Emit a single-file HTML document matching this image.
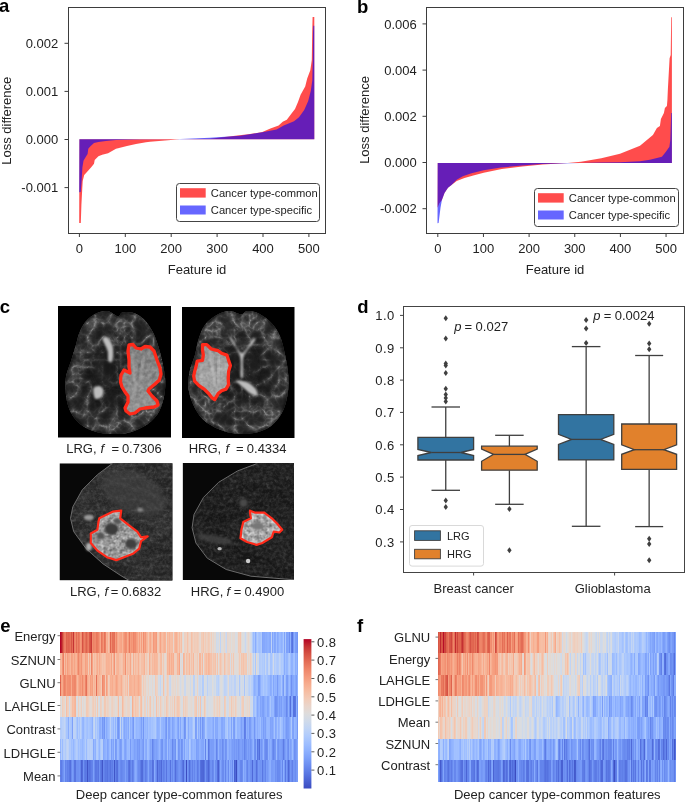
<!DOCTYPE html>
<html><head><meta charset="utf-8"><style>html,body{margin:0;padding:0;background:#fff;} body{width:685px;height:802px;overflow:hidden;} svg{display:block;will-change:transform;}</style></head>
<body><svg width="685" height="802" viewBox="0 0 685 802" font-family="'Liberation Sans', sans-serif"><defs><filter id="nzb" x="0" y="0" width="100%" height="100%" color-interpolation-filters="sRGB"><feTurbulence type="fractalNoise" baseFrequency="0.28" numOctaves="3" seed="4"/><feColorMatrix type="matrix" values="0.5 0.5 0 0 0 0.5 0.5 0 0 0 0.5 0.5 0 0 0 0 0 0 0 1"/><feComponentTransfer><feFuncR type="linear" slope="2.4" intercept="-0.9"/><feFuncG type="linear" slope="2.4" intercept="-0.9"/><feFuncB type="linear" slope="2.4" intercept="-0.9"/></feComponentTransfer><feGaussianBlur stdDeviation="0.35"/></filter><filter id="nzt" x="0" y="0" width="100%" height="100%" color-interpolation-filters="sRGB"><feTurbulence type="fractalNoise" baseFrequency="0.25" numOctaves="3" seed="11"/><feColorMatrix type="matrix" values="0.5 0.5 0 0 0 0.5 0.5 0 0 0 0.5 0.5 0 0 0 0 0 0 0 1"/><feComponentTransfer><feFuncR type="linear" slope="2.0" intercept="-0.4"/><feFuncG type="linear" slope="2.0" intercept="-0.4"/><feFuncB type="linear" slope="2.0" intercept="-0.4"/></feComponentTransfer><feGaussianBlur stdDeviation="0.4"/></filter><filter id="nzs" x="0" y="0" width="100%" height="100%" color-interpolation-filters="sRGB"><feTurbulence type="fractalNoise" baseFrequency="0.3" numOctaves="3" seed="21"/><feColorMatrix type="matrix" values="0.5 0.5 0 0 0 0.5 0.5 0 0 0 0.5 0.5 0 0 0 0 0 0 0 1"/><feComponentTransfer><feFuncR type="linear" slope="2.2" intercept="-0.9"/><feFuncG type="linear" slope="2.2" intercept="-0.9"/><feFuncB type="linear" slope="2.2" intercept="-0.9"/></feComponentTransfer><feGaussianBlur stdDeviation="0.3"/></filter><filter id="gyr1" x="0" y="0" width="100%" height="100%" color-interpolation-filters="sRGB"><feTurbulence type="turbulence" baseFrequency="0.068" numOctaves="3" seed="2"/><feColorMatrix type="matrix" values="1 0 0 0 0 1 0 0 0 0 1 0 0 0 0 0 0 0 0 1"/><feComponentTransfer><feFuncR type="table" tableValues="0.55 0.32 0.21 0.16 0.13 0.12 0.11"/><feFuncG type="table" tableValues="0.55 0.32 0.21 0.16 0.13 0.12 0.11"/><feFuncB type="table" tableValues="0.55 0.32 0.21 0.16 0.13 0.12 0.11"/></feComponentTransfer><feGaussianBlur stdDeviation="0.6"/></filter><filter id="gyr2" x="0" y="0" width="100%" height="100%" color-interpolation-filters="sRGB"><feTurbulence type="turbulence" baseFrequency="0.068" numOctaves="3" seed="13"/><feColorMatrix type="matrix" values="1 0 0 0 0 1 0 0 0 0 1 0 0 0 0 0 0 0 0 1"/><feComponentTransfer><feFuncR type="table" tableValues="0.55 0.32 0.21 0.16 0.13 0.12 0.11"/><feFuncG type="table" tableValues="0.55 0.32 0.21 0.16 0.13 0.12 0.11"/><feFuncB type="table" tableValues="0.55 0.32 0.21 0.16 0.13 0.12 0.11"/></feComponentTransfer><feGaussianBlur stdDeviation="0.6"/></filter><radialGradient id="rgb"><stop offset="0" stop-color="#000" stop-opacity="0.45"/><stop offset="0.6" stop-color="#000" stop-opacity="0.25"/><stop offset="0.85" stop-color="#000" stop-opacity="0"/></radialGradient><linearGradient id="tg1" x1="0" y1="0" x2="0" y2="1"><stop offset="0" stop-color="#7a7a7a"/><stop offset="0.5" stop-color="#868686"/><stop offset="1" stop-color="#959595"/></linearGradient><linearGradient id="tg2" x1="0" y1="0" x2="0.3" y2="1"><stop offset="0" stop-color="#8a8a8a"/><stop offset="0.6" stop-color="#a6a6a6"/><stop offset="1" stop-color="#a0a0a0"/></linearGradient><filter id="fib" x="0" y="0" width="100%" height="100%" color-interpolation-filters="sRGB"><feTurbulence type="turbulence" baseFrequency="0.03 0.09" numOctaves="3" seed="5"/><feColorMatrix type="matrix" values="1 0 0 0 0 1 0 0 0 0 1 0 0 0 0 0 0 0 0 1"/><feComponentTransfer><feFuncR type="table" tableValues="0.42 0.28 0.2 0.16 0.14 0.13"/><feFuncG type="table" tableValues="0.42 0.28 0.2 0.16 0.14 0.13"/><feFuncB type="table" tableValues="0.42 0.28 0.2 0.16 0.14 0.13"/></feComponentTransfer><feGaussianBlur stdDeviation="0.5"/></filter><filter id="bl1" x="-20%" y="-20%" width="140%" height="140%"><feGaussianBlur stdDeviation="1.2"/></filter><filter id="bl2" x="-20%" y="-20%" width="140%" height="140%"><feGaussianBlur stdDeviation="2.5"/></filter><clipPath id="br1"><path d="M117.7 316.2C115.3 316.0 111.1 311.4 107.5 311.0C103.9 310.5 99.5 311.8 96.0 313.4C92.4 315.1 88.8 317.7 86.1 320.9C83.3 324.0 81.1 328.6 79.5 332.4C77.8 336.3 77.5 339.3 76.2 344.0C74.8 348.6 72.9 355.2 71.2 360.5C69.6 365.7 67.2 370.6 66.3 375.3C65.3 380.0 65.2 383.6 65.4 388.5C65.7 393.5 66.4 400.1 67.9 405.0C69.4 410.0 71.5 414.4 74.5 418.2C77.5 422.1 81.7 425.6 86.1 428.1C90.5 430.6 96.2 432.1 100.9 433.1C105.6 434.0 109.7 433.9 114.1 433.9C118.5 433.9 122.4 434.3 127.3 433.1C132.3 431.8 138.9 429.5 143.8 426.5C148.8 423.4 153.7 419.6 157.0 414.9C160.3 410.2 162.2 404.2 163.6 398.4C165.0 392.6 165.5 386.6 165.3 380.3C165.0 373.9 163.3 366.8 162.0 360.5C160.6 354.1 158.7 347.3 157.0 342.3C155.4 337.4 154.3 334.6 152.1 330.8C149.9 326.9 147.1 322.2 143.8 319.2C140.5 316.2 135.8 313.7 132.3 312.6C128.7 311.5 124.8 312.0 122.4 312.6C119.9 313.2 120.2 316.5 117.7 316.2Z"/></clipPath><clipPath id="tm1"><path d="M129.0 345.0 L133.0 344.5 L136.0 348.0 L141.0 349.0 L145.0 346.5 L150.0 347.0 L154.0 351.0 L157.0 360.0 L160.0 368.0 L161.0 374.0 L159.4 380.0 L155.0 384.0 L149.0 389.0 L148.0 391.0 L152.0 396.0 L157.0 401.0 L158.0 405.0 L154.0 407.0 L145.0 408.0 L140.0 409.0 L135.0 413.0 L130.0 414.0 L126.0 411.0 L125.0 408.0 L128.0 402.0 L128.0 396.0 L125.0 392.0 L122.0 387.0 L120.5 382.0 L121.0 375.0 L124.0 370.0 L128.0 372.0 L130.0 373.0 L129.0 367.0 L129.0 360.0 L128.0 351.0Z"/></clipPath><clipPath id="br2"><path d="M241.2 314.4C238.2 314.4 233.6 311.0 229.4 311.1C225.3 311.2 220.4 312.9 216.3 315.2C212.2 317.5 207.9 320.9 204.9 325.0C201.9 329.1 200.0 334.8 198.4 339.7C196.7 344.6 196.6 349.0 195.1 354.4C193.6 359.9 190.4 366.7 189.4 372.4C188.3 378.1 187.9 383.3 188.5 388.8C189.2 394.2 191.0 399.9 193.4 405.1C195.9 410.3 198.9 415.7 203.3 419.8C207.6 423.9 214.2 427.3 219.6 429.6C225.1 431.9 230.2 433.2 236.0 433.7C241.7 434.3 248.2 434.1 253.9 432.9C259.7 431.7 265.7 429.6 270.3 426.4C274.9 423.1 278.9 418.5 281.7 413.3C284.6 408.1 286.4 401.6 287.5 395.3C288.6 389.0 288.7 382.5 288.3 375.7C287.9 368.9 286.4 361.0 285.0 354.4C283.6 347.9 282.3 341.6 280.1 336.4C277.9 331.3 275.5 327.2 271.9 323.4C268.4 319.5 262.9 315.6 258.8 313.5C254.8 311.5 250.3 311.0 247.4 311.1C244.5 311.2 244.2 314.4 241.2 314.4Z"/></clipPath><clipPath id="tm2"><path d="M202.5 344.6 L206.8 344.6 L211.2 349.0 L214.7 349.8 L218.2 350.7 L221.6 353.3 L226.9 355.1 L228.6 360.3 L230.4 365.5 L228.6 371.6 L228.2 378.6 L228.6 384.7 L226.0 389.1 L221.6 390.8 L218.2 393.5 L214.7 399.6 L212.0 397.8 L208.6 393.5 L204.2 389.1 L199.0 385.6 L194.6 381.2 L193.7 376.0 L194.6 371.6 L196.3 365.5 L197.2 361.2 L202.5 360.3 L203.3 355.1 L202.5 349.8Z"/></clipPath><clipPath id="bs3"><polygon points="112.6,463.3 97.4,474.7 82.3,489.8 72.8,506.9 70.5,518.3 73.7,531.6 86.1,548.7 103.1,563.9 120.2,575.2 129.7,580.9 182.8,580.9 182.8,461.4 112.6,461.4"/></clipPath><clipPath id="tb3"><path d="M99.3 518.3 L112.6 511.7 L121.2 510.7 L120.2 518.3 L129.7 525.9 L137.3 531.6 L141.1 537.3 L147.7 536.3 L141.1 541.1 L139.2 548.7 L133.5 553.4 L124.0 557.2 L116.4 560.1 L106.9 557.2 L97.4 550.6 L90.8 543.0 L90.8 533.5 L97.4 529.7 L98.4 522.1Z"/></clipPath><clipPath id="im3"><rect x="59.5" y="463.3" width="112.9" height="117.09999999999997"/></clipPath><clipPath id="bs4"><polygon points="256.6,463.7 237.6,470.9 218.6,482.3 203.5,497.4 194.0,514.5 192.1,527.8 195.9,543.0 207.3,558.2 226.2,569.5 250.9,576.2 296.4,580.0 307.8,580.9 307.8,461.4 256.6,461.4"/></clipPath><clipPath id="tb4"><path d="M250.0 510.7 L254.7 512.6 L264.2 512.6 L271.8 518.3 L277.5 524.0 L282.2 529.7 L279.4 532.5 L273.7 531.6 L271.8 537.3 L262.3 543.0 L256.6 544.9 L247.1 542.0 L240.5 538.2 L241.4 529.7 L243.3 522.1 L250.9 518.3 L250.0 512.6Z"/></clipPath><clipPath id="im4"><rect x="182.6" y="463" width="111.4" height="117"/></clipPath></defs><rect width="685" height="802" fill="#fff"/>
<rect x="68.5" y="7.5" width="257" height="226" fill="none" stroke="#3d3d3d" stroke-width="1"/>
<polygon points="79.4,139.3 79.2,223.1 80.8,223.1 81.4,205.0 82.3,188.0 82.7,180.9 84.2,174.9 86.5,172.6 91.0,167.4 94.0,163.7 94.7,159.9 98.4,156.2 102.2,154.7 108.1,153.2 116.0,148.7 127.0,146.0 136.0,144.0 146.0,142.3 150.0,141.8 165.0,140.6 179.8,139.3 210.0,138.8 250.0,134.1 262.3,132.0 270.4,128.5 278.6,125.4 282.7,121.8 286.8,119.8 291.9,113.1 295.0,109.0 298.0,101.9 300.6,94.7 305.2,86.6 307.2,78.4 310.3,70.2 311.8,60.0 312.2,32.4 312.6,17.1 314.3,17.1 314.3,139.3" fill="#ff0000" fill-opacity="0.7"/>
<polygon points="79.4,139.3 79.2,192.2 80.7,192.0 81.6,180.9 82.4,167.4 83.5,160.7 85.7,157.0 87.6,154.0 88.3,148.7 90.2,146.5 94.0,143.1 98.4,142.0 105.9,140.9 116.0,140.1 140.0,139.6 174.8,139.3 210.0,137.8 240.0,135.8 262.3,132.2 276.6,129.5 283.7,125.4 294.0,121.3 299.0,117.2 304.2,110.1 308.2,100.9 310.8,90.7 312.3,80.4 312.8,60.0 313.0,32.4 313.3,25.7 314.3,25.7 314.3,139.3" fill="#0000ff" fill-opacity="0.6"/>
<line x1="64.5" y1="43.3" x2="68" y2="43.3" stroke="#3d3d3d" stroke-width="1"/>
<text x="58.2" y="47.9" font-size="13" text-anchor="end" font-weight="normal" fill="#222222" >0.002</text>
<line x1="64.5" y1="91.4" x2="68" y2="91.4" stroke="#3d3d3d" stroke-width="1"/>
<text x="58.2" y="96.0" font-size="13" text-anchor="end" font-weight="normal" fill="#222222" >0.001</text>
<line x1="64.5" y1="139.5" x2="68" y2="139.5" stroke="#3d3d3d" stroke-width="1"/>
<text x="58.2" y="144.1" font-size="13" text-anchor="end" font-weight="normal" fill="#222222" >0.000</text>
<line x1="64.5" y1="187.6" x2="68" y2="187.6" stroke="#3d3d3d" stroke-width="1"/>
<text x="58.2" y="192.2" font-size="13" text-anchor="end" font-weight="normal" fill="#222222" >-0.001</text>
<line x1="79.4" y1="233.5" x2="79.4" y2="237" stroke="#3d3d3d" stroke-width="1"/>
<text x="79.4" y="252.5" font-size="13" text-anchor="middle" font-weight="normal" fill="#222222" >0</text>
<line x1="125.30000000000001" y1="233.5" x2="125.30000000000001" y2="237" stroke="#3d3d3d" stroke-width="1"/>
<text x="125.30000000000001" y="252.5" font-size="13" text-anchor="middle" font-weight="normal" fill="#222222" >100</text>
<line x1="171.2" y1="233.5" x2="171.2" y2="237" stroke="#3d3d3d" stroke-width="1"/>
<text x="171.2" y="252.5" font-size="13" text-anchor="middle" font-weight="normal" fill="#222222" >200</text>
<line x1="217.1" y1="233.5" x2="217.1" y2="237" stroke="#3d3d3d" stroke-width="1"/>
<text x="217.1" y="252.5" font-size="13" text-anchor="middle" font-weight="normal" fill="#222222" >300</text>
<line x1="263.0" y1="233.5" x2="263.0" y2="237" stroke="#3d3d3d" stroke-width="1"/>
<text x="263.0" y="252.5" font-size="13" text-anchor="middle" font-weight="normal" fill="#222222" >400</text>
<line x1="308.9" y1="233.5" x2="308.9" y2="237" stroke="#3d3d3d" stroke-width="1"/>
<text x="308.9" y="252.5" font-size="13" text-anchor="middle" font-weight="normal" fill="#222222" >500</text>
<text x="197.0" y="274" font-size="13" text-anchor="middle" font-weight="normal" fill="#222222" >Feature id</text>
<text x="0" y="0" font-size="13" text-anchor="middle" fill="#222222" transform="translate(10.6,120.8) rotate(-90)">Loss difference</text>
<text x="-1" y="11.8" font-size="18.5" text-anchor="start" font-weight="bold" fill="#000" >a</text>
<rect x="176.5" y="183.5" width="143.0" height="38.0" rx="3" fill="#fff" fill-opacity="0.85" stroke="#444" stroke-width="1"/>
<rect x="180.0" y="188.2" width="25.7" height="9.4" fill="#ff0000" fill-opacity="0.7"/>
<rect x="180.0" y="205.5" width="25.7" height="9" fill="#0000ff" fill-opacity="0.6"/>
<text x="210.8" y="197.1" font-size="11.2" text-anchor="start" font-weight="normal" fill="#222222" >Cancer type-common</text>
<text x="210.8" y="214.1" font-size="11.2" text-anchor="start" font-weight="normal" fill="#222222" >Cancer type-specific</text>
<rect x="426.5" y="7.5" width="257" height="226" fill="none" stroke="#3d3d3d" stroke-width="1"/>
<polygon points="437.7,163.1 437.6,207.7 439.2,203.4 441.9,199.9 444.5,192.9 448.0,187.7 451.5,185.0 456.7,181.1 464.5,178.1 473.3,175.5 483.7,172.8 501.8,169.0 522.2,166.4 542.7,164.4 567.6,163.1 580.9,161.7 601.3,158.3 620.0,153.8 630.0,149.8 640.0,145.8 646.9,139.9 652.9,134.9 656.9,127.9 659.9,125.9 660.9,118.9 663.9,112.9 664.9,107.9 666.9,105.9 667.4,99.9 667.9,88.7 669.6,58.3 670.7,55.0 671.2,17.3 671.9,17.3 671.9,163.1" fill="#ff0000" fill-opacity="0.7"/>
<polygon points="437.7,163.1 437.5,223.2 438.6,223.0 440.5,207.7 441.9,199.9 444.5,192.9 448.0,187.7 451.5,185.0 456.7,179.8 462.8,176.3 471.5,173.3 483.7,170.2 501.0,167.5 522.0,165.5 542.0,164.0 560.0,163.4 580.0,163.1 600.0,162.6 620.0,162.3 640.0,161.3 649.9,159.8 661.9,156.8 665.9,151.8 669.4,146.8 670.3,139.9 671.2,112.9 671.9,112.9 671.9,163.1" fill="#0000ff" fill-opacity="0.6"/>
<line x1="422.5" y1="23.9" x2="426" y2="23.9" stroke="#3d3d3d" stroke-width="1"/>
<text x="416.8" y="28.5" font-size="13" text-anchor="end" font-weight="normal" fill="#222222" >0.006</text>
<line x1="422.5" y1="70.1" x2="426" y2="70.1" stroke="#3d3d3d" stroke-width="1"/>
<text x="416.8" y="74.69999999999999" font-size="13" text-anchor="end" font-weight="normal" fill="#222222" >0.004</text>
<line x1="422.5" y1="116.3" x2="426" y2="116.3" stroke="#3d3d3d" stroke-width="1"/>
<text x="416.8" y="120.89999999999999" font-size="13" text-anchor="end" font-weight="normal" fill="#222222" >0.002</text>
<line x1="422.5" y1="162.5" x2="426" y2="162.5" stroke="#3d3d3d" stroke-width="1"/>
<text x="416.8" y="167.1" font-size="13" text-anchor="end" font-weight="normal" fill="#222222" >0.000</text>
<line x1="422.5" y1="208.7" x2="426" y2="208.7" stroke="#3d3d3d" stroke-width="1"/>
<text x="416.8" y="213.29999999999998" font-size="13" text-anchor="end" font-weight="normal" fill="#222222" >-0.002</text>
<line x1="437.8" y1="233.5" x2="437.8" y2="237" stroke="#3d3d3d" stroke-width="1"/>
<text x="437.8" y="252.5" font-size="13" text-anchor="middle" font-weight="normal" fill="#222222" >0</text>
<line x1="483.45" y1="233.5" x2="483.45" y2="237" stroke="#3d3d3d" stroke-width="1"/>
<text x="483.45" y="252.5" font-size="13" text-anchor="middle" font-weight="normal" fill="#222222" >100</text>
<line x1="529.1" y1="233.5" x2="529.1" y2="237" stroke="#3d3d3d" stroke-width="1"/>
<text x="529.1" y="252.5" font-size="13" text-anchor="middle" font-weight="normal" fill="#222222" >200</text>
<line x1="574.75" y1="233.5" x2="574.75" y2="237" stroke="#3d3d3d" stroke-width="1"/>
<text x="574.75" y="252.5" font-size="13" text-anchor="middle" font-weight="normal" fill="#222222" >300</text>
<line x1="620.4" y1="233.5" x2="620.4" y2="237" stroke="#3d3d3d" stroke-width="1"/>
<text x="620.4" y="252.5" font-size="13" text-anchor="middle" font-weight="normal" fill="#222222" >400</text>
<line x1="666.05" y1="233.5" x2="666.05" y2="237" stroke="#3d3d3d" stroke-width="1"/>
<text x="666.05" y="252.5" font-size="13" text-anchor="middle" font-weight="normal" fill="#222222" >500</text>
<text x="555.0" y="274" font-size="13" text-anchor="middle" font-weight="normal" fill="#222222" >Feature id</text>
<text x="0" y="0" font-size="13" text-anchor="middle" fill="#222222" transform="translate(369.2,119.9) rotate(-90)">Loss difference</text>
<text x="357" y="12.5" font-size="18.5" text-anchor="start" font-weight="bold" fill="#000" >b</text>
<rect x="534.5" y="188.5" width="144.0" height="38.0" rx="3" fill="#fff" fill-opacity="0.85" stroke="#444" stroke-width="1"/>
<rect x="538.0" y="193.2" width="25.7" height="9.4" fill="#ff0000" fill-opacity="0.7"/>
<rect x="538.0" y="210.5" width="25.7" height="9" fill="#0000ff" fill-opacity="0.6"/>
<text x="568.8" y="202.1" font-size="11.2" text-anchor="start" font-weight="normal" fill="#222222" >Cancer type-common</text>
<text x="568.8" y="219.1" font-size="11.2" text-anchor="start" font-weight="normal" fill="#222222" >Cancer type-specific</text>
<rect x="403.5" y="306.5" width="281" height="266" fill="none" stroke="#444444" stroke-width="1"/>
<line x1="400" y1="315.4" x2="403.5" y2="315.4" stroke="#444444" stroke-width="1"/>
<text x="394.8" y="320.2" font-size="13" text-anchor="end" font-weight="normal" fill="#222222" letter-spacing="0.5">1.0</text>
<line x1="400" y1="347.8" x2="403.5" y2="347.8" stroke="#444444" stroke-width="1"/>
<text x="394.8" y="352.6" font-size="13" text-anchor="end" font-weight="normal" fill="#222222" letter-spacing="0.5">0.9</text>
<line x1="400" y1="380.1" x2="403.5" y2="380.1" stroke="#444444" stroke-width="1"/>
<text x="394.8" y="384.9" font-size="13" text-anchor="end" font-weight="normal" fill="#222222" letter-spacing="0.5">0.8</text>
<line x1="400" y1="412.4" x2="403.5" y2="412.4" stroke="#444444" stroke-width="1"/>
<text x="394.8" y="417.2" font-size="13" text-anchor="end" font-weight="normal" fill="#222222" letter-spacing="0.5">0.7</text>
<line x1="400" y1="444.8" x2="403.5" y2="444.8" stroke="#444444" stroke-width="1"/>
<text x="394.8" y="449.6" font-size="13" text-anchor="end" font-weight="normal" fill="#222222" letter-spacing="0.5">0.6</text>
<line x1="400" y1="477.1" x2="403.5" y2="477.1" stroke="#444444" stroke-width="1"/>
<text x="394.8" y="481.9" font-size="13" text-anchor="end" font-weight="normal" fill="#222222" letter-spacing="0.5">0.5</text>
<line x1="400" y1="509.5" x2="403.5" y2="509.5" stroke="#444444" stroke-width="1"/>
<text x="394.8" y="514.3" font-size="13" text-anchor="end" font-weight="normal" fill="#222222" letter-spacing="0.5">0.4</text>
<line x1="400" y1="541.9" x2="403.5" y2="541.9" stroke="#444444" stroke-width="1"/>
<text x="394.8" y="546.6" font-size="13" text-anchor="end" font-weight="normal" fill="#222222" letter-spacing="0.5">0.3</text>
<line x1="473.6" y1="572.5" x2="473.6" y2="575.5" stroke="#444444" stroke-width="1"/>
<line x1="614.6" y1="572.5" x2="614.6" y2="575.5" stroke="#444444" stroke-width="1"/>
<text x="473.7" y="592.5" font-size="13" text-anchor="middle" font-weight="normal" fill="#222222" >Breast cancer</text>
<text x="612.7" y="592.5" font-size="13" text-anchor="middle" font-weight="normal" fill="#222222" >Glioblastoma</text>
<text x="357.2" y="313.1" font-size="18.5" text-anchor="start" font-weight="bold" fill="#000" >d</text>
<line x1="445.75" y1="407.0" x2="445.75" y2="437.4" stroke="#3f3f3f" stroke-width="1.3"/>
<line x1="445.75" y1="460.0" x2="445.75" y2="490.3" stroke="#3f3f3f" stroke-width="1.3"/>
<line x1="431.5" y1="407.0" x2="460.0" y2="407.0" stroke="#3f3f3f" stroke-width="1.3"/>
<line x1="431.5" y1="490.3" x2="460.0" y2="490.3" stroke="#3f3f3f" stroke-width="1.3"/>
<polygon points="417.9,437.4 473.6,437.4 473.6,449.4 460.8,452.5 473.6,455.6 473.6,460.0 417.9,460.0 417.9,455.6 431.2,452.5 417.9,449.4" fill="#3274a1" stroke="#3f3f3f" stroke-width="1.3" stroke-linejoin="miter"/>
<line x1="431.2" y1="452.5" x2="460.8" y2="452.5" stroke="#3f3f3f" stroke-width="1.3"/>
<polygon points="445.8,315.2 447.9,318.2 445.8,321.2 443.6,318.2" fill="#3f3f3f"/>
<polygon points="445.8,335.6 447.9,338.6 445.8,341.6 443.6,338.6" fill="#3f3f3f"/>
<polygon points="445.8,360.6 447.9,363.6 445.8,366.6 443.6,363.6" fill="#3f3f3f"/>
<polygon points="445.8,362.6 447.9,365.6 445.8,368.6 443.6,365.6" fill="#3f3f3f"/>
<polygon points="445.8,369.9 447.9,372.9 445.8,375.9 443.6,372.9" fill="#3f3f3f"/>
<polygon points="445.8,385.8 447.9,388.8 445.8,391.8 443.6,388.8" fill="#3f3f3f"/>
<polygon points="445.8,391.6 447.9,394.6 445.8,397.6 443.6,394.6" fill="#3f3f3f"/>
<polygon points="445.8,395.1 447.9,398.1 445.8,401.1 443.6,398.1" fill="#3f3f3f"/>
<polygon points="445.8,398.6 447.9,401.6 445.8,404.6 443.6,401.6" fill="#3f3f3f"/>
<polygon points="445.8,497.6 447.9,500.6 445.8,503.6 443.6,500.6" fill="#3f3f3f"/>
<polygon points="445.8,503.9 447.9,506.9 445.8,509.9 443.6,506.9" fill="#3f3f3f"/>
<line x1="509.40000000000003" y1="435.3" x2="509.40000000000003" y2="446.2" stroke="#3f3f3f" stroke-width="1.3"/>
<line x1="509.40000000000003" y1="470.2" x2="509.40000000000003" y2="504.3" stroke="#3f3f3f" stroke-width="1.3"/>
<line x1="495.15000000000003" y1="435.3" x2="523.6500000000001" y2="435.3" stroke="#3f3f3f" stroke-width="1.3"/>
<line x1="495.15000000000003" y1="504.3" x2="523.6500000000001" y2="504.3" stroke="#3f3f3f" stroke-width="1.3"/>
<polygon points="481.6,446.2 537.2,446.2 537.2,449.0 524.9,454.4 537.2,461.3 537.2,470.2 481.6,470.2 481.6,461.3 493.6,454.4 481.6,449.0" fill="#e1812c" stroke="#3f3f3f" stroke-width="1.3" stroke-linejoin="miter"/>
<line x1="493.6" y1="454.4" x2="524.9" y2="454.4" stroke="#3f3f3f" stroke-width="1.3"/>
<polygon points="509.4,505.9 511.6,508.9 509.4,511.9 507.2,508.9" fill="#3f3f3f"/>
<polygon points="509.4,547.3 511.6,550.3 509.4,553.3 507.2,550.3" fill="#3f3f3f"/>
<line x1="586.15" y1="346.6" x2="586.15" y2="414.6" stroke="#3f3f3f" stroke-width="1.3"/>
<line x1="586.15" y1="459.9" x2="586.15" y2="526.3" stroke="#3f3f3f" stroke-width="1.3"/>
<line x1="571.85" y1="346.6" x2="600.4499999999999" y2="346.6" stroke="#3f3f3f" stroke-width="1.3"/>
<line x1="571.85" y1="526.3" x2="600.4499999999999" y2="526.3" stroke="#3f3f3f" stroke-width="1.3"/>
<polygon points="558.5,414.6 613.8,414.6 613.8,434.4 600.5,439.4 613.8,444.4 613.8,459.9 558.5,459.9 558.5,444.4 571.6,439.4 558.5,434.4" fill="#3274a1" stroke="#3f3f3f" stroke-width="1.3" stroke-linejoin="miter"/>
<line x1="571.6" y1="439.4" x2="600.5" y2="439.4" stroke="#3f3f3f" stroke-width="1.3"/>
<polygon points="586.1,317.1 588.4,320.1 586.1,323.1 583.9,320.1" fill="#3f3f3f"/>
<polygon points="586.1,325.6 588.4,328.6 586.1,331.6 583.9,328.6" fill="#3f3f3f"/>
<polygon points="586.1,340.0 588.4,343.0 586.1,346.0 583.9,343.0" fill="#3f3f3f"/>
<line x1="649.1500000000001" y1="355.5" x2="649.1500000000001" y2="424.0" stroke="#3f3f3f" stroke-width="1.3"/>
<line x1="649.1500000000001" y1="469.4" x2="649.1500000000001" y2="526.6" stroke="#3f3f3f" stroke-width="1.3"/>
<line x1="635.1500000000001" y1="355.5" x2="663.1500000000001" y2="355.5" stroke="#3f3f3f" stroke-width="1.3"/>
<line x1="635.1500000000001" y1="526.6" x2="663.1500000000001" y2="526.6" stroke="#3f3f3f" stroke-width="1.3"/>
<polygon points="621.7,424.0 676.6,424.0 676.6,444.8 663.8,449.7 676.6,454.3 676.6,469.4 621.7,469.4 621.7,454.3 634.4,449.7 621.7,444.8" fill="#e1812c" stroke="#3f3f3f" stroke-width="1.3" stroke-linejoin="miter"/>
<line x1="634.4" y1="449.7" x2="663.8" y2="449.7" stroke="#3f3f3f" stroke-width="1.3"/>
<polygon points="649.2,320.7 651.4,323.7 649.2,326.7 647.0,323.7" fill="#3f3f3f"/>
<polygon points="649.2,340.4 651.4,343.4 649.2,346.4 647.0,343.4" fill="#3f3f3f"/>
<polygon points="649.2,346.3 651.4,349.3 649.2,352.3 647.0,349.3" fill="#3f3f3f"/>
<polygon points="649.2,535.8 651.4,538.8 649.2,541.8 647.0,538.8" fill="#3f3f3f"/>
<polygon points="649.2,541.0 651.4,544.0 649.2,547.0 647.0,544.0" fill="#3f3f3f"/>
<polygon points="649.2,557.3 651.4,560.3 649.2,563.3 647.0,560.3" fill="#3f3f3f"/>
<text x="454.2" y="331.4" font-size="13" fill="#222222"><tspan font-style="italic">p</tspan><tspan x="464.6">=</tspan><tspan x="475.6">0.027</tspan></text>
<text x="593.3" y="320.3" font-size="13" fill="#222222"><tspan font-style="italic">p</tspan><tspan x="603.7">=</tspan><tspan x="614.7">0.0024</tspan></text>
<rect x="409.5" y="525.5" width="74" height="40.6" rx="2.5" fill="#fff" stroke="#d9d9d9" stroke-width="1"/>
<rect x="414.6" y="530.8" width="25.8" height="9.6" fill="#3274a1" stroke="#3f3f3f" stroke-width="0.9"/>
<rect x="414.6" y="549.3" width="25.8" height="9.5" fill="#e1812c" stroke="#3f3f3f" stroke-width="0.9"/>
<text x="447.0" y="539.6" font-size="11" text-anchor="start" font-weight="normal" fill="#222222" >LRG</text>
<text x="447.0" y="558.2" font-size="11" text-anchor="start" font-weight="normal" fill="#222222" >HRG</text>
<g shape-rendering="crispEdges">
<path d="M60.30 631.80h1.00v21.39h-1.00z" fill="#b40426"/>
<path d="M61.30 631.80h1.00v21.39h-1.00z" fill="#bb1b2c"/>
<path d="M62.30 631.80h1.00v21.39h-1.00z" fill="#cb3e38"/>
<path d="M63.30 631.80h1.00v21.39h-1.00zM110.30 631.80h1.00v21.39h-1.00z" fill="#e0654f"/>
<path d="M64.30 631.80h1.00v21.39h-1.00zM88.30 631.80h1.00v21.39h-1.00z" fill="#eb7d62"/>
<path d="M65.30 631.80h1.00v21.39h-1.00zM84.30 631.80h1.00v21.39h-1.00zM105.30 631.80h1.00v21.39h-1.00zM63.30 653.19h1.00v21.39h-1.00z" fill="#ec7f63"/>
<path d="M66.30 631.80h1.00v21.39h-1.00zM86.30 631.80h1.00v21.39h-1.00z" fill="#de614d"/>
<path d="M67.30 631.80h1.00v21.39h-1.00z" fill="#e26952"/>
<path d="M68.30 631.80h1.00v21.39h-1.00z" fill="#df634e"/>
<path d="M69.30 631.80h1.00v21.39h-1.00zM60.30 674.57h1.00v21.39h-1.00z" fill="#e16751"/>
<path d="M70.30 631.80h1.00v21.39h-1.00zM104.30 631.80h1.00v21.39h-1.00zM113.30 631.80h1.00v21.39h-1.00z" fill="#e67259"/>
<path d="M71.30 631.80h1.00v21.39h-1.00z" fill="#d85646"/>
<path d="M72.30 631.80h1.00v21.39h-1.00zM83.30 631.80h1.00v21.39h-1.00zM114.30 631.80h1.00v21.39h-1.00z" fill="#e46e56"/>
<path d="M73.30 631.80h1.00v21.39h-1.00z" fill="#c53334"/>
<path d="M74.30 631.80h1.00v21.39h-1.00zM64.30 674.57h1.00v21.39h-1.00z" fill="#ec8165"/>
<path d="M75.30 631.80h1.00v21.39h-1.00zM94.30 631.80h1.00v21.39h-1.00zM116.30 631.80h1.00v21.39h-1.00zM75.30 674.57h1.00v21.39h-1.00zM102.30 674.57h1.00v21.39h-1.00z" fill="#ef886b"/>
<path d="M76.30 631.80h1.00v21.39h-1.00z" fill="#e36c55"/>
<path d="M77.30 631.80h1.00v21.39h-1.00zM93.30 631.80h1.00v21.39h-1.00zM102.30 631.80h1.00v21.39h-1.00z" fill="#ed8366"/>
<path d="M78.30 631.80h1.00v21.39h-1.00zM85.30 631.80h1.00v21.39h-1.00zM112.30 631.80h1.00v21.39h-1.00zM86.30 674.57h1.00v21.39h-1.00zM96.30 674.57h1.00v21.39h-1.00z" fill="#e57058"/>
<path d="M79.30 631.80h1.00v21.39h-1.00zM97.30 631.80h1.00v21.39h-1.00z" fill="#ea7b60"/>
<path d="M80.30 631.80h1.00v21.39h-1.00zM145.30 631.80h1.00v21.39h-1.00zM153.30 631.80h1.00v21.39h-1.00zM80.30 674.57h1.00v21.39h-1.00zM104.30 674.57h1.00v21.39h-1.00z" fill="#f4987a"/>
<path d="M81.30 631.80h1.00v21.39h-1.00zM126.30 631.80h1.00v21.39h-1.00zM63.30 674.57h1.00v21.39h-1.00zM70.30 674.57h1.00v21.39h-1.00z" fill="#f18f71"/>
<path d="M82.30 631.80h1.00v21.39h-1.00z" fill="#d65244"/>
<path d="M87.30 631.80h1.00v21.39h-1.00z" fill="#e7745b"/>
<path d="M89.30 631.80h1.00v21.39h-1.00z" fill="#da5a49"/>
<path d="M90.30 631.80h1.00v21.39h-1.00z" fill="#d44e41"/>
<path d="M91.30 631.80h1.00v21.39h-1.00z" fill="#ca3b37"/>
<path d="M92.30 631.80h1.00v21.39h-1.00zM134.30 631.80h1.00v21.39h-1.00zM143.30 631.80h1.00v21.39h-1.00zM69.30 674.57h1.00v21.39h-1.00zM73.30 674.57h1.00v21.39h-1.00z" fill="#f18d6f"/>
<path d="M95.30 631.80h1.00v21.39h-1.00zM65.30 674.57h1.00v21.39h-1.00zM82.30 674.57h1.00v21.39h-1.00z" fill="#f08a6c"/>
<path d="M96.30 631.80h1.00v21.39h-1.00z" fill="#e9785d"/>
<path d="M98.30 631.80h1.00v21.39h-1.00zM133.30 631.80h1.00v21.39h-1.00zM85.30 674.57h1.00v21.39h-1.00z" fill="#ee8468"/>
<path d="M99.30 631.80h1.00v21.39h-1.00zM62.30 653.19h1.00v21.39h-1.00zM81.30 653.19h1.00v21.39h-1.00zM103.30 674.57h1.00v21.39h-1.00z" fill="#f39577"/>
<path d="M100.30 631.80h1.00v21.39h-1.00zM117.30 631.80h1.00v21.39h-1.00zM120.30 631.80h1.00v21.39h-1.00zM130.30 653.19h1.00v21.39h-1.00zM84.30 674.57h1.00v21.39h-1.00z" fill="#f7a688"/>
<path d="M101.30 631.80h1.00v21.39h-1.00z" fill="#e8765c"/>
<path d="M103.30 631.80h1.00v21.39h-1.00zM124.30 631.80h1.00v21.39h-1.00zM131.30 631.80h1.00v21.39h-1.00z" fill="#f39475"/>
<path d="M106.30 631.80h1.00v21.39h-1.00zM109.30 631.80h1.00v21.39h-1.00zM118.30 631.80h1.00v21.39h-1.00zM146.30 631.80h1.00v21.39h-1.00zM82.30 653.19h1.00v21.39h-1.00zM108.30 653.19h1.00v21.39h-1.00zM138.30 653.19h1.00v21.39h-1.00zM144.30 653.19h1.00v21.39h-1.00zM97.30 674.57h1.00v21.39h-1.00zM130.30 674.57h1.00v21.39h-1.00z" fill="#f7b194"/>
<path d="M107.30 631.80h1.00v21.39h-1.00zM113.30 653.19h1.00v21.39h-1.00zM121.30 674.57h1.00v21.39h-1.00zM134.30 674.57h1.00v21.39h-1.00z" fill="#f7ad90"/>
<path d="M108.30 631.80h1.00v21.39h-1.00zM103.30 653.19h1.00v21.39h-1.00zM205.30 653.19h1.00v21.39h-1.00zM211.30 653.19h1.00v21.39h-1.00zM215.30 653.19h1.00v21.39h-1.00zM243.30 653.19h1.00v21.39h-1.00z" fill="#f5c1a9"/>
<path d="M111.30 631.80h1.00v21.39h-1.00zM125.30 631.80h1.00v21.39h-1.00zM135.30 631.80h1.00v21.39h-1.00zM72.30 674.57h1.00v21.39h-1.00z" fill="#f08b6e"/>
<path d="M115.30 631.80h1.00v21.39h-1.00zM128.30 631.80h1.00v21.39h-1.00z" fill="#f59c7d"/>
<path d="M119.30 631.80h1.00v21.39h-1.00zM127.30 631.80h1.00v21.39h-1.00zM99.30 653.19h1.00v21.39h-1.00zM169.30 653.19h1.00v21.39h-1.00zM71.30 674.57h1.00v21.39h-1.00zM78.30 674.57h1.00v21.39h-1.00zM87.30 674.57h1.00v21.39h-1.00zM138.30 674.57h1.00v21.39h-1.00z" fill="#f7aa8c"/>
<path d="M121.30 631.80h1.00v21.39h-1.00zM137.30 631.80h1.00v21.39h-1.00zM144.30 631.80h1.00v21.39h-1.00zM154.30 631.80h1.00v21.39h-1.00zM160.30 631.80h1.00v21.39h-1.00zM179.30 653.19h1.00v21.39h-1.00z" fill="#f6a385"/>
<path d="M122.30 631.80h1.00v21.39h-1.00zM169.30 631.80h1.00v21.39h-1.00zM117.30 653.19h1.00v21.39h-1.00zM124.30 653.19h1.00v21.39h-1.00zM183.30 653.19h1.00v21.39h-1.00zM208.30 653.19h1.00v21.39h-1.00zM94.30 674.57h1.00v21.39h-1.00zM137.30 674.57h1.00v21.39h-1.00zM139.30 674.57h1.00v21.39h-1.00z" fill="#f7b497"/>
<path d="M123.30 631.80h1.00v21.39h-1.00zM71.30 653.19h1.00v21.39h-1.00zM85.30 653.19h1.00v21.39h-1.00zM83.30 674.57h1.00v21.39h-1.00zM92.30 674.57h1.00v21.39h-1.00z" fill="#f5a081"/>
<path d="M129.30 631.80h1.00v21.39h-1.00z" fill="#e97a5f"/>
<path d="M130.30 631.80h1.00v21.39h-1.00zM136.30 631.80h1.00v21.39h-1.00zM141.30 631.80h1.00v21.39h-1.00zM67.30 653.19h1.00v21.39h-1.00zM77.30 653.19h1.00v21.39h-1.00zM66.30 674.57h1.00v21.39h-1.00zM106.30 674.57h1.00v21.39h-1.00z" fill="#f59d7e"/>
<path d="M132.30 631.80h1.00v21.39h-1.00zM156.30 631.80h1.00v21.39h-1.00z" fill="#f49a7b"/>
<path d="M138.30 631.80h1.00v21.39h-1.00zM149.30 631.80h1.00v21.39h-1.00zM165.30 631.80h1.00v21.39h-1.00zM175.30 631.80h1.00v21.39h-1.00zM73.30 653.19h1.00v21.39h-1.00zM75.30 653.19h1.00v21.39h-1.00zM107.30 653.19h1.00v21.39h-1.00zM109.30 653.19h1.00v21.39h-1.00zM118.30 653.19h1.00v21.39h-1.00zM98.30 674.57h1.00v21.39h-1.00zM111.30 674.57h1.00v21.39h-1.00zM129.30 674.57h1.00v21.39h-1.00zM131.30 674.57h1.00v21.39h-1.00zM75.30 695.96h1.00v21.39h-1.00z" fill="#f7b396"/>
<path d="M139.30 631.80h1.00v21.39h-1.00zM79.30 653.19h1.00v21.39h-1.00zM79.30 674.57h1.00v21.39h-1.00zM90.30 674.57h1.00v21.39h-1.00z" fill="#f59f80"/>
<path d="M140.30 631.80h1.00v21.39h-1.00zM151.30 631.80h1.00v21.39h-1.00zM179.30 631.80h1.00v21.39h-1.00zM110.30 653.19h1.00v21.39h-1.00zM135.30 653.19h1.00v21.39h-1.00zM152.30 653.19h1.00v21.39h-1.00zM168.30 653.19h1.00v21.39h-1.00zM206.30 653.19h1.00v21.39h-1.00zM77.30 674.57h1.00v21.39h-1.00zM89.30 674.57h1.00v21.39h-1.00zM127.30 674.57h1.00v21.39h-1.00zM122.30 695.96h1.00v21.39h-1.00z" fill="#f7ba9f"/>
<path d="M142.30 631.80h1.00v21.39h-1.00zM159.30 631.80h1.00v21.39h-1.00zM161.30 631.80h1.00v21.39h-1.00zM61.30 653.19h1.00v21.39h-1.00zM66.30 653.19h1.00v21.39h-1.00zM100.30 653.19h1.00v21.39h-1.00zM155.30 653.19h1.00v21.39h-1.00zM178.30 653.19h1.00v21.39h-1.00zM202.30 653.19h1.00v21.39h-1.00zM209.30 653.19h1.00v21.39h-1.00zM99.30 674.57h1.00v21.39h-1.00zM114.30 674.57h1.00v21.39h-1.00zM118.30 674.57h1.00v21.39h-1.00zM140.30 674.57h1.00v21.39h-1.00z" fill="#f7b99e"/>
<path d="M147.30 631.80h1.00v21.39h-1.00zM60.30 653.19h1.00v21.39h-1.00zM70.30 653.19h1.00v21.39h-1.00zM84.30 653.19h1.00v21.39h-1.00zM116.30 653.19h1.00v21.39h-1.00zM127.30 653.19h1.00v21.39h-1.00zM156.30 653.19h1.00v21.39h-1.00zM172.30 653.19h1.00v21.39h-1.00zM189.30 653.19h1.00v21.39h-1.00zM193.30 653.19h1.00v21.39h-1.00zM113.30 674.57h1.00v21.39h-1.00zM120.30 674.57h1.00v21.39h-1.00zM132.30 674.57h1.00v21.39h-1.00zM135.30 674.57h1.00v21.39h-1.00zM136.30 674.57h1.00v21.39h-1.00zM74.30 695.96h1.00v21.39h-1.00z" fill="#f7b89c"/>
<path d="M148.30 631.80h1.00v21.39h-1.00zM192.30 631.80h1.00v21.39h-1.00zM93.30 653.19h1.00v21.39h-1.00zM131.30 653.19h1.00v21.39h-1.00zM146.30 653.19h1.00v21.39h-1.00zM188.30 653.19h1.00v21.39h-1.00zM204.30 653.19h1.00v21.39h-1.00zM214.30 653.19h1.00v21.39h-1.00zM233.30 653.19h1.00v21.39h-1.00zM246.30 653.19h1.00v21.39h-1.00zM109.30 674.57h1.00v21.39h-1.00zM123.30 674.57h1.00v21.39h-1.00zM104.30 695.96h1.00v21.39h-1.00zM178.30 695.96h1.00v21.39h-1.00zM204.30 695.96h1.00v21.39h-1.00zM231.30 695.96h1.00v21.39h-1.00z" fill="#f3c8b2"/>
<path d="M150.30 631.80h1.00v21.39h-1.00zM87.30 653.19h1.00v21.39h-1.00zM76.30 674.57h1.00v21.39h-1.00zM91.30 674.57h1.00v21.39h-1.00z" fill="#f7a889"/>
<path d="M152.30 631.80h1.00v21.39h-1.00zM170.30 631.80h1.00v21.39h-1.00zM181.30 631.80h1.00v21.39h-1.00zM191.30 631.80h1.00v21.39h-1.00zM64.30 653.19h1.00v21.39h-1.00zM128.30 653.19h1.00v21.39h-1.00zM141.30 653.19h1.00v21.39h-1.00zM153.30 653.19h1.00v21.39h-1.00zM160.30 653.19h1.00v21.39h-1.00zM66.30 695.96h1.00v21.39h-1.00zM118.30 695.96h1.00v21.39h-1.00z" fill="#f6bfa6"/>
<path d="M155.30 631.80h1.00v21.39h-1.00zM65.30 653.19h1.00v21.39h-1.00zM92.30 653.19h1.00v21.39h-1.00zM81.30 674.57h1.00v21.39h-1.00zM116.30 674.57h1.00v21.39h-1.00z" fill="#f6a283"/>
<path d="M157.30 631.80h1.00v21.39h-1.00zM151.30 653.19h1.00v21.39h-1.00zM163.30 653.19h1.00v21.39h-1.00zM197.30 653.19h1.00v21.39h-1.00zM86.30 695.96h1.00v21.39h-1.00zM97.30 695.96h1.00v21.39h-1.00zM105.30 695.96h1.00v21.39h-1.00zM123.30 695.96h1.00v21.39h-1.00z" fill="#f2c9b4"/>
<path d="M158.30 631.80h1.00v21.39h-1.00zM202.30 631.80h1.00v21.39h-1.00zM88.30 653.19h1.00v21.39h-1.00zM228.30 653.19h1.00v21.39h-1.00zM244.30 653.19h1.00v21.39h-1.00zM167.30 674.57h1.00v21.39h-1.00zM93.30 695.96h1.00v21.39h-1.00zM183.30 695.96h1.00v21.39h-1.00zM243.30 695.96h1.00v21.39h-1.00z" fill="#f1ccb8"/>
<path d="M162.30 631.80h1.00v21.39h-1.00zM168.30 631.80h1.00v21.39h-1.00zM171.30 631.80h1.00v21.39h-1.00zM98.30 653.19h1.00v21.39h-1.00zM129.30 653.19h1.00v21.39h-1.00zM170.30 653.19h1.00v21.39h-1.00zM93.30 674.57h1.00v21.39h-1.00zM141.30 695.96h1.00v21.39h-1.00z" fill="#f6bea4"/>
<path d="M163.30 631.80h1.00v21.39h-1.00zM76.30 653.19h1.00v21.39h-1.00zM96.30 653.19h1.00v21.39h-1.00zM154.30 653.19h1.00v21.39h-1.00zM167.30 653.19h1.00v21.39h-1.00zM177.30 653.19h1.00v21.39h-1.00zM199.30 653.19h1.00v21.39h-1.00zM88.30 674.57h1.00v21.39h-1.00z" fill="#f7b599"/>
<path d="M164.30 631.80h1.00v21.39h-1.00zM176.30 631.80h1.00v21.39h-1.00zM106.30 653.19h1.00v21.39h-1.00zM107.30 674.57h1.00v21.39h-1.00zM110.30 674.57h1.00v21.39h-1.00z" fill="#f7b093"/>
<path d="M166.30 631.80h1.00v21.39h-1.00zM190.30 631.80h1.00v21.39h-1.00zM204.30 631.80h1.00v21.39h-1.00zM206.30 631.80h1.00v21.39h-1.00zM166.30 653.19h1.00v21.39h-1.00zM185.30 653.19h1.00v21.39h-1.00zM63.30 695.96h1.00v21.39h-1.00zM70.30 695.96h1.00v21.39h-1.00zM111.30 695.96h1.00v21.39h-1.00zM128.30 695.96h1.00v21.39h-1.00zM186.30 695.96h1.00v21.39h-1.00zM205.30 695.96h1.00v21.39h-1.00z" fill="#ecd3c5"/>
<path d="M167.30 631.80h1.00v21.39h-1.00zM83.30 653.19h1.00v21.39h-1.00zM200.30 653.19h1.00v21.39h-1.00zM133.30 674.57h1.00v21.39h-1.00z" fill="#f7b79b"/>
<path d="M172.30 631.80h1.00v21.39h-1.00zM174.30 631.80h1.00v21.39h-1.00zM177.30 631.80h1.00v21.39h-1.00zM94.30 653.19h1.00v21.39h-1.00zM157.30 653.19h1.00v21.39h-1.00zM119.30 674.57h1.00v21.39h-1.00zM72.30 695.96h1.00v21.39h-1.00z" fill="#f7bca1"/>
<path d="M173.30 631.80h1.00v21.39h-1.00zM227.30 631.80h1.00v21.39h-1.00zM248.30 631.80h1.00v21.39h-1.00zM226.30 653.19h1.00v21.39h-1.00zM161.30 695.96h1.00v21.39h-1.00zM164.30 695.96h1.00v21.39h-1.00zM184.30 695.96h1.00v21.39h-1.00zM236.30 695.96h1.00v21.39h-1.00zM241.30 695.96h1.00v21.39h-1.00z" fill="#e9d5cb"/>
<path d="M178.30 631.80h1.00v21.39h-1.00zM197.30 631.80h1.00v21.39h-1.00zM208.30 631.80h1.00v21.39h-1.00zM238.30 631.80h1.00v21.39h-1.00zM90.30 653.19h1.00v21.39h-1.00zM239.30 653.19h1.00v21.39h-1.00zM242.30 653.19h1.00v21.39h-1.00zM245.30 653.19h1.00v21.39h-1.00zM87.30 695.96h1.00v21.39h-1.00zM137.30 695.96h1.00v21.39h-1.00zM224.30 695.96h1.00v21.39h-1.00z" fill="#f2cab5"/>
<path d="M180.30 631.80h1.00v21.39h-1.00zM194.30 631.80h1.00v21.39h-1.00zM201.30 631.80h1.00v21.39h-1.00zM205.30 631.80h1.00v21.39h-1.00zM115.30 653.19h1.00v21.39h-1.00zM140.30 653.19h1.00v21.39h-1.00zM192.30 653.19h1.00v21.39h-1.00zM229.30 653.19h1.00v21.39h-1.00zM101.30 674.57h1.00v21.39h-1.00zM105.30 674.57h1.00v21.39h-1.00zM126.30 674.57h1.00v21.39h-1.00zM143.30 674.57h1.00v21.39h-1.00zM155.30 674.57h1.00v21.39h-1.00zM136.30 695.96h1.00v21.39h-1.00zM160.30 695.96h1.00v21.39h-1.00zM195.30 695.96h1.00v21.39h-1.00z" fill="#f2cbb7"/>
<path d="M182.30 631.80h1.00v21.39h-1.00zM200.30 631.80h1.00v21.39h-1.00zM215.30 631.80h1.00v21.39h-1.00zM229.30 631.80h1.00v21.39h-1.00zM232.30 631.80h1.00v21.39h-1.00zM181.30 653.19h1.00v21.39h-1.00zM249.30 653.19h1.00v21.39h-1.00zM256.30 653.19h1.00v21.39h-1.00zM142.30 674.57h1.00v21.39h-1.00zM103.30 695.96h1.00v21.39h-1.00zM121.30 695.96h1.00v21.39h-1.00zM220.30 695.96h1.00v21.39h-1.00zM230.30 695.96h1.00v21.39h-1.00zM234.30 695.96h1.00v21.39h-1.00z" fill="#e4d9d2"/>
<path d="M183.30 631.80h1.00v21.39h-1.00zM231.30 631.80h1.00v21.39h-1.00zM243.30 631.80h1.00v21.39h-1.00zM149.30 674.57h1.00v21.39h-1.00zM65.30 695.96h1.00v21.39h-1.00zM98.30 695.96h1.00v21.39h-1.00zM163.30 695.96h1.00v21.39h-1.00z" fill="#dcdddd"/>
<path d="M184.30 631.80h1.00v21.39h-1.00zM185.30 631.80h1.00v21.39h-1.00zM188.30 631.80h1.00v21.39h-1.00zM159.30 653.19h1.00v21.39h-1.00zM174.30 653.19h1.00v21.39h-1.00zM78.30 695.96h1.00v21.39h-1.00zM134.30 695.96h1.00v21.39h-1.00zM198.30 695.96h1.00v21.39h-1.00zM225.30 695.96h1.00v21.39h-1.00z" fill="#efcfbf"/>
<path d="M186.30 631.80h1.00v21.39h-1.00zM195.30 653.19h1.00v21.39h-1.00zM196.30 653.19h1.00v21.39h-1.00zM156.30 674.57h1.00v21.39h-1.00zM101.30 695.96h1.00v21.39h-1.00zM145.30 695.96h1.00v21.39h-1.00zM233.30 695.96h1.00v21.39h-1.00z" fill="#edd2c3"/>
<path d="M187.30 631.80h1.00v21.39h-1.00zM120.30 653.19h1.00v21.39h-1.00zM122.30 653.19h1.00v21.39h-1.00zM136.30 653.19h1.00v21.39h-1.00zM137.30 653.19h1.00v21.39h-1.00zM150.30 653.19h1.00v21.39h-1.00zM191.30 653.19h1.00v21.39h-1.00zM210.30 653.19h1.00v21.39h-1.00zM220.30 653.19h1.00v21.39h-1.00zM125.30 674.57h1.00v21.39h-1.00zM163.30 674.57h1.00v21.39h-1.00zM156.30 695.96h1.00v21.39h-1.00z" fill="#f5c2aa"/>
<path d="M189.30 631.80h1.00v21.39h-1.00zM148.30 653.19h1.00v21.39h-1.00zM162.30 653.19h1.00v21.39h-1.00zM194.30 653.19h1.00v21.39h-1.00zM222.30 653.19h1.00v21.39h-1.00zM248.30 653.19h1.00v21.39h-1.00zM144.30 674.57h1.00v21.39h-1.00zM148.30 674.57h1.00v21.39h-1.00zM64.30 695.96h1.00v21.39h-1.00zM94.30 695.96h1.00v21.39h-1.00zM106.30 695.96h1.00v21.39h-1.00zM117.30 695.96h1.00v21.39h-1.00zM124.30 695.96h1.00v21.39h-1.00zM187.30 695.96h1.00v21.39h-1.00zM216.30 695.96h1.00v21.39h-1.00zM229.30 695.96h1.00v21.39h-1.00z" fill="#ead5c9"/>
<path d="M193.30 631.80h1.00v21.39h-1.00zM145.30 674.57h1.00v21.39h-1.00zM144.30 695.96h1.00v21.39h-1.00zM149.30 695.96h1.00v21.39h-1.00zM172.30 695.96h1.00v21.39h-1.00zM194.30 695.96h1.00v21.39h-1.00zM214.30 695.96h1.00v21.39h-1.00zM217.30 695.96h1.00v21.39h-1.00z" fill="#edd1c2"/>
<path d="M195.30 631.80h1.00v21.39h-1.00zM196.30 631.80h1.00v21.39h-1.00zM176.30 653.19h1.00v21.39h-1.00zM231.30 653.19h1.00v21.39h-1.00zM124.30 674.57h1.00v21.39h-1.00zM95.30 695.96h1.00v21.39h-1.00zM219.30 695.96h1.00v21.39h-1.00zM235.30 695.96h1.00v21.39h-1.00z" fill="#f0cdbb"/>
<path d="M198.30 631.80h1.00v21.39h-1.00zM201.30 653.19h1.00v21.39h-1.00zM212.30 653.19h1.00v21.39h-1.00zM250.30 653.19h1.00v21.39h-1.00zM108.30 674.57h1.00v21.39h-1.00zM71.30 695.96h1.00v21.39h-1.00zM81.30 695.96h1.00v21.39h-1.00zM100.30 695.96h1.00v21.39h-1.00zM138.30 695.96h1.00v21.39h-1.00zM167.30 695.96h1.00v21.39h-1.00zM185.30 695.96h1.00v21.39h-1.00z" fill="#efcebd"/>
<path d="M199.30 631.80h1.00v21.39h-1.00zM210.30 631.80h1.00v21.39h-1.00zM230.30 631.80h1.00v21.39h-1.00zM198.30 653.19h1.00v21.39h-1.00zM216.30 653.19h1.00v21.39h-1.00zM166.30 674.57h1.00v21.39h-1.00zM172.30 674.57h1.00v21.39h-1.00zM157.30 695.96h1.00v21.39h-1.00z" fill="#e7d7ce"/>
<path d="M203.30 631.80h1.00v21.39h-1.00zM213.30 653.19h1.00v21.39h-1.00zM200.30 695.96h1.00v21.39h-1.00z" fill="#f4c5ad"/>
<path d="M207.30 631.80h1.00v21.39h-1.00zM132.30 653.19h1.00v21.39h-1.00zM145.30 653.19h1.00v21.39h-1.00zM147.30 653.19h1.00v21.39h-1.00zM158.30 653.19h1.00v21.39h-1.00zM175.30 653.19h1.00v21.39h-1.00zM190.30 653.19h1.00v21.39h-1.00zM219.30 653.19h1.00v21.39h-1.00zM227.30 653.19h1.00v21.39h-1.00zM68.30 695.96h1.00v21.39h-1.00zM88.30 695.96h1.00v21.39h-1.00zM92.30 695.96h1.00v21.39h-1.00zM107.30 695.96h1.00v21.39h-1.00zM112.30 695.96h1.00v21.39h-1.00zM147.30 695.96h1.00v21.39h-1.00zM176.30 695.96h1.00v21.39h-1.00z" fill="#eed0c0"/>
<path d="M209.30 631.80h1.00v21.39h-1.00zM211.30 631.80h1.00v21.39h-1.00zM239.30 631.80h1.00v21.39h-1.00zM221.30 653.19h1.00v21.39h-1.00zM225.30 653.19h1.00v21.39h-1.00zM62.30 695.96h1.00v21.39h-1.00zM67.30 695.96h1.00v21.39h-1.00zM179.30 695.96h1.00v21.39h-1.00zM242.30 695.96h1.00v21.39h-1.00z" fill="#f1cdba"/>
<path d="M212.30 631.80h1.00v21.39h-1.00zM233.30 631.80h1.00v21.39h-1.00zM241.30 631.80h1.00v21.39h-1.00zM60.30 695.96h1.00v21.39h-1.00zM109.30 695.96h1.00v21.39h-1.00zM126.30 695.96h1.00v21.39h-1.00zM165.30 695.96h1.00v21.39h-1.00zM246.30 695.96h1.00v21.39h-1.00zM248.30 695.96h1.00v21.39h-1.00z" fill="#e3d9d3"/>
<path d="M213.30 631.80h1.00v21.39h-1.00zM157.30 674.57h1.00v21.39h-1.00zM197.30 674.57h1.00v21.39h-1.00zM127.30 695.96h1.00v21.39h-1.00zM129.30 695.96h1.00v21.39h-1.00zM232.30 695.96h1.00v21.39h-1.00zM249.30 695.96h1.00v21.39h-1.00z" fill="#ead4c8"/>
<path d="M214.30 631.80h1.00v21.39h-1.00zM165.30 653.19h1.00v21.39h-1.00zM234.30 653.19h1.00v21.39h-1.00zM236.30 653.19h1.00v21.39h-1.00zM147.30 674.57h1.00v21.39h-1.00zM85.30 695.96h1.00v21.39h-1.00zM116.30 695.96h1.00v21.39h-1.00zM120.30 695.96h1.00v21.39h-1.00zM162.30 695.96h1.00v21.39h-1.00zM199.30 695.96h1.00v21.39h-1.00zM203.30 695.96h1.00v21.39h-1.00z" fill="#e1dad6"/>
<path d="M216.30 631.80h1.00v21.39h-1.00zM214.30 674.57h1.00v21.39h-1.00zM236.30 674.57h1.00v21.39h-1.00zM242.30 674.57h1.00v21.39h-1.00zM250.30 695.96h1.00v21.39h-1.00zM252.30 695.96h1.00v21.39h-1.00z" fill="#cfdaea"/>
<path d="M217.30 631.80h1.00v21.39h-1.00zM225.30 631.80h1.00v21.39h-1.00zM159.30 674.57h1.00v21.39h-1.00zM165.30 674.57h1.00v21.39h-1.00zM205.30 674.57h1.00v21.39h-1.00zM243.30 674.57h1.00v21.39h-1.00zM245.30 674.57h1.00v21.39h-1.00zM146.30 695.96h1.00v21.39h-1.00z" fill="#d4dbe6"/>
<path d="M218.30 631.80h1.00v21.39h-1.00zM252.30 653.19h1.00v21.39h-1.00zM254.30 653.19h1.00v21.39h-1.00zM158.30 674.57h1.00v21.39h-1.00zM206.30 674.57h1.00v21.39h-1.00z" fill="#d3dbe7"/>
<path d="M219.30 631.80h1.00v21.39h-1.00zM223.30 631.80h1.00v21.39h-1.00zM247.30 631.80h1.00v21.39h-1.00zM146.30 674.57h1.00v21.39h-1.00zM174.30 674.57h1.00v21.39h-1.00zM182.30 674.57h1.00v21.39h-1.00zM228.30 674.57h1.00v21.39h-1.00zM91.30 695.96h1.00v21.39h-1.00zM173.30 695.96h1.00v21.39h-1.00zM180.30 695.96h1.00v21.39h-1.00zM190.30 695.96h1.00v21.39h-1.00zM215.30 695.96h1.00v21.39h-1.00zM245.30 695.96h1.00v21.39h-1.00z" fill="#e2dad5"/>
<path d="M220.30 631.80h1.00v21.39h-1.00zM279.30 653.19h1.00v21.39h-1.00zM216.30 674.57h1.00v21.39h-1.00zM217.30 674.57h1.00v21.39h-1.00zM248.30 674.57h1.00v21.39h-1.00z" fill="#c0d4f5"/>
<path d="M221.30 631.80h1.00v21.39h-1.00zM249.30 631.80h1.00v21.39h-1.00zM203.30 653.19h1.00v21.39h-1.00zM235.30 653.19h1.00v21.39h-1.00zM150.30 674.57h1.00v21.39h-1.00zM171.30 674.57h1.00v21.39h-1.00zM183.30 674.57h1.00v21.39h-1.00zM187.30 674.57h1.00v21.39h-1.00zM79.30 695.96h1.00v21.39h-1.00zM90.30 695.96h1.00v21.39h-1.00zM110.30 695.96h1.00v21.39h-1.00zM115.30 695.96h1.00v21.39h-1.00zM151.30 695.96h1.00v21.39h-1.00z" fill="#e0dbd8"/>
<path d="M222.30 631.80h1.00v21.39h-1.00zM153.30 674.57h1.00v21.39h-1.00zM179.30 674.57h1.00v21.39h-1.00zM188.30 674.57h1.00v21.39h-1.00zM189.30 674.57h1.00v21.39h-1.00zM221.30 674.57h1.00v21.39h-1.00zM96.30 695.96h1.00v21.39h-1.00zM102.30 695.96h1.00v21.39h-1.00zM139.30 695.96h1.00v21.39h-1.00zM143.30 695.96h1.00v21.39h-1.00zM159.30 695.96h1.00v21.39h-1.00zM202.30 695.96h1.00v21.39h-1.00zM221.30 695.96h1.00v21.39h-1.00z" fill="#dddcdc"/>
<path d="M224.30 631.80h1.00v21.39h-1.00zM240.30 653.19h1.00v21.39h-1.00zM251.30 653.19h1.00v21.39h-1.00zM128.30 674.57h1.00v21.39h-1.00zM164.30 674.57h1.00v21.39h-1.00zM175.30 674.57h1.00v21.39h-1.00zM177.30 674.57h1.00v21.39h-1.00zM113.30 695.96h1.00v21.39h-1.00zM125.30 695.96h1.00v21.39h-1.00zM168.30 695.96h1.00v21.39h-1.00zM247.30 695.96h1.00v21.39h-1.00z" fill="#e8d6cc"/>
<path d="M226.30 631.80h1.00v21.39h-1.00zM245.30 631.80h1.00v21.39h-1.00zM230.30 674.57h1.00v21.39h-1.00zM232.30 674.57h1.00v21.39h-1.00z" fill="#c9d7f0"/>
<path d="M228.30 631.80h1.00v21.39h-1.00zM164.30 653.19h1.00v21.39h-1.00zM223.30 653.19h1.00v21.39h-1.00zM238.30 653.19h1.00v21.39h-1.00zM152.30 674.57h1.00v21.39h-1.00zM173.30 674.57h1.00v21.39h-1.00zM83.30 695.96h1.00v21.39h-1.00zM89.30 695.96h1.00v21.39h-1.00zM114.30 695.96h1.00v21.39h-1.00zM175.30 695.96h1.00v21.39h-1.00zM213.30 695.96h1.00v21.39h-1.00zM218.30 695.96h1.00v21.39h-1.00z" fill="#e6d7cf"/>
<path d="M234.30 631.80h1.00v21.39h-1.00zM232.30 653.19h1.00v21.39h-1.00zM178.30 674.57h1.00v21.39h-1.00zM80.30 695.96h1.00v21.39h-1.00zM142.30 695.96h1.00v21.39h-1.00zM171.30 695.96h1.00v21.39h-1.00zM191.30 695.96h1.00v21.39h-1.00z" fill="#e5d8d1"/>
<path d="M235.30 631.80h1.00v21.39h-1.00zM236.30 631.80h1.00v21.39h-1.00zM154.30 674.57h1.00v21.39h-1.00zM77.30 695.96h1.00v21.39h-1.00zM154.30 695.96h1.00v21.39h-1.00zM197.30 695.96h1.00v21.39h-1.00zM226.30 695.96h1.00v21.39h-1.00z" fill="#d8dce2"/>
<path d="M237.30 631.80h1.00v21.39h-1.00zM237.30 653.19h1.00v21.39h-1.00zM191.30 674.57h1.00v21.39h-1.00zM192.30 674.57h1.00v21.39h-1.00zM189.30 695.96h1.00v21.39h-1.00zM192.30 695.96h1.00v21.39h-1.00zM222.30 695.96h1.00v21.39h-1.00z" fill="#dfdbd9"/>
<path d="M240.30 631.80h1.00v21.39h-1.00zM102.30 653.19h1.00v21.39h-1.00zM104.30 653.19h1.00v21.39h-1.00zM112.30 653.19h1.00v21.39h-1.00zM126.30 653.19h1.00v21.39h-1.00zM141.30 674.57h1.00v21.39h-1.00zM140.30 695.96h1.00v21.39h-1.00zM174.30 695.96h1.00v21.39h-1.00z" fill="#f4c6af"/>
<path d="M242.30 631.80h1.00v21.39h-1.00zM246.30 631.80h1.00v21.39h-1.00zM151.30 674.57h1.00v21.39h-1.00zM119.30 695.96h1.00v21.39h-1.00zM181.30 695.96h1.00v21.39h-1.00zM211.30 695.96h1.00v21.39h-1.00zM212.30 695.96h1.00v21.39h-1.00zM244.30 695.96h1.00v21.39h-1.00z" fill="#dadce0"/>
<path d="M244.30 631.80h1.00v21.39h-1.00zM230.30 653.19h1.00v21.39h-1.00zM215.30 674.57h1.00v21.39h-1.00zM130.30 695.96h1.00v21.39h-1.00z" fill="#d6dce4"/>
<path d="M250.30 631.80h1.00v21.39h-1.00zM238.30 674.57h1.00v21.39h-1.00zM241.30 674.57h1.00v21.39h-1.00zM99.30 695.96h1.00v21.39h-1.00zM228.30 695.96h1.00v21.39h-1.00z" fill="#d5dbe5"/>
<path d="M251.30 631.80h1.00v21.39h-1.00zM258.30 653.19h1.00v21.39h-1.00zM169.30 674.57h1.00v21.39h-1.00zM209.30 674.57h1.00v21.39h-1.00zM210.30 674.57h1.00v21.39h-1.00zM223.30 674.57h1.00v21.39h-1.00zM246.30 674.57h1.00v21.39h-1.00zM247.30 674.57h1.00v21.39h-1.00zM251.30 695.96h1.00v21.39h-1.00z" fill="#cdd9ec"/>
<path d="M252.30 631.80h1.00v21.39h-1.00zM257.30 631.80h1.00v21.39h-1.00zM260.30 653.19h1.00v21.39h-1.00zM282.30 653.19h1.00v21.39h-1.00zM202.30 674.57h1.00v21.39h-1.00zM61.30 717.34h1.00v21.39h-1.00zM155.30 717.34h1.00v21.39h-1.00zM227.30 717.34h1.00v21.39h-1.00z" fill="#b2ccfb"/>
<path d="M253.30 631.80h1.00v21.39h-1.00zM253.30 674.57h1.00v21.39h-1.00zM77.30 717.34h1.00v21.39h-1.00zM146.30 717.34h1.00v21.39h-1.00zM176.30 717.34h1.00v21.39h-1.00zM190.30 717.34h1.00v21.39h-1.00zM282.30 717.34h1.00v21.39h-1.00zM62.30 738.73h1.00v21.39h-1.00zM144.30 738.73h1.00v21.39h-1.00zM206.30 738.73h1.00v21.39h-1.00zM292.30 738.73h1.00v21.39h-1.00z" fill="#9bbcff"/>
<path d="M254.30 631.80h1.00v21.39h-1.00zM285.30 631.80h1.00v21.39h-1.00zM267.30 653.19h1.00v21.39h-1.00zM288.30 653.19h1.00v21.39h-1.00zM244.30 674.57h1.00v21.39h-1.00zM281.30 674.57h1.00v21.39h-1.00zM284.30 674.57h1.00v21.39h-1.00zM270.30 695.96h1.00v21.39h-1.00zM153.30 717.34h1.00v21.39h-1.00zM226.30 717.34h1.00v21.39h-1.00zM79.30 738.73h1.00v21.39h-1.00z" fill="#a9c6fd"/>
<path d="M255.30 631.80h1.00v21.39h-1.00zM284.30 653.19h1.00v21.39h-1.00zM296.30 695.96h1.00v21.39h-1.00zM198.30 717.34h1.00v21.39h-1.00zM204.30 717.34h1.00v21.39h-1.00zM224.30 717.34h1.00v21.39h-1.00zM243.30 717.34h1.00v21.39h-1.00zM140.30 738.73h1.00v21.39h-1.00zM230.30 738.73h1.00v21.39h-1.00zM252.30 738.73h1.00v21.39h-1.00zM256.30 738.73h1.00v21.39h-1.00zM289.30 738.73h1.00v21.39h-1.00zM269.30 760.11h1.00v21.39h-1.00z" fill="#89acfd"/>
<path d="M256.30 631.80h1.00v21.39h-1.00zM259.30 631.80h1.00v21.39h-1.00zM262.30 674.57h1.00v21.39h-1.00zM272.30 674.57h1.00v21.39h-1.00zM90.30 717.34h1.00v21.39h-1.00zM74.30 738.73h1.00v21.39h-1.00zM98.30 738.73h1.00v21.39h-1.00zM147.30 738.73h1.00v21.39h-1.00z" fill="#a2c1ff"/>
<path d="M258.30 631.80h1.00v21.39h-1.00zM260.30 631.80h1.00v21.39h-1.00zM270.30 653.19h1.00v21.39h-1.00zM283.30 653.19h1.00v21.39h-1.00zM79.30 717.34h1.00v21.39h-1.00zM95.30 717.34h1.00v21.39h-1.00zM112.30 717.34h1.00v21.39h-1.00zM134.30 717.34h1.00v21.39h-1.00zM151.30 717.34h1.00v21.39h-1.00zM206.30 717.34h1.00v21.39h-1.00zM232.30 717.34h1.00v21.39h-1.00z" fill="#a6c4fe"/>
<path d="M261.30 631.80h1.00v21.39h-1.00zM259.30 653.19h1.00v21.39h-1.00zM262.30 653.19h1.00v21.39h-1.00zM266.30 653.19h1.00v21.39h-1.00zM239.30 674.57h1.00v21.39h-1.00zM255.30 695.96h1.00v21.39h-1.00zM114.30 717.34h1.00v21.39h-1.00zM65.30 738.73h1.00v21.39h-1.00zM77.30 738.73h1.00v21.39h-1.00z" fill="#afcafc"/>
<path d="M262.30 631.80h1.00v21.39h-1.00zM272.30 631.80h1.00v21.39h-1.00zM292.30 674.57h1.00v21.39h-1.00zM260.30 695.96h1.00v21.39h-1.00zM291.30 695.96h1.00v21.39h-1.00zM103.30 717.34h1.00v21.39h-1.00zM231.30 717.34h1.00v21.39h-1.00zM272.30 717.34h1.00v21.39h-1.00zM292.30 717.34h1.00v21.39h-1.00zM107.30 738.73h1.00v21.39h-1.00zM155.30 738.73h1.00v21.39h-1.00zM197.30 738.73h1.00v21.39h-1.00zM203.30 738.73h1.00v21.39h-1.00zM64.30 760.11h1.00v21.39h-1.00zM227.30 760.11h1.00v21.39h-1.00zM231.30 760.11h1.00v21.39h-1.00zM281.30 760.11h1.00v21.39h-1.00z" fill="#81a4fb"/>
<path d="M263.30 631.80h1.00v21.39h-1.00zM264.30 631.80h1.00v21.39h-1.00zM270.30 631.80h1.00v21.39h-1.00zM257.30 695.96h1.00v21.39h-1.00zM268.30 695.96h1.00v21.39h-1.00zM221.30 717.34h1.00v21.39h-1.00zM264.30 717.34h1.00v21.39h-1.00zM275.30 717.34h1.00v21.39h-1.00zM289.30 717.34h1.00v21.39h-1.00zM93.30 738.73h1.00v21.39h-1.00zM103.30 738.73h1.00v21.39h-1.00zM160.30 738.73h1.00v21.39h-1.00zM224.30 738.73h1.00v21.39h-1.00zM271.30 738.73h1.00v21.39h-1.00zM286.30 738.73h1.00v21.39h-1.00zM136.30 760.11h1.00v21.39h-1.00zM245.30 760.11h1.00v21.39h-1.00z" fill="#85a8fc"/>
<path d="M265.30 631.80h1.00v21.39h-1.00zM295.30 653.19h1.00v21.39h-1.00zM68.30 717.34h1.00v21.39h-1.00zM100.30 717.34h1.00v21.39h-1.00zM126.30 717.34h1.00v21.39h-1.00zM242.30 717.34h1.00v21.39h-1.00zM251.30 717.34h1.00v21.39h-1.00zM255.30 717.34h1.00v21.39h-1.00zM257.30 717.34h1.00v21.39h-1.00zM126.30 738.73h1.00v21.39h-1.00zM145.30 738.73h1.00v21.39h-1.00zM158.30 738.73h1.00v21.39h-1.00zM191.30 738.73h1.00v21.39h-1.00zM135.30 760.11h1.00v21.39h-1.00z" fill="#8badfd"/>
<path d="M266.30 631.80h1.00v21.39h-1.00zM269.30 631.80h1.00v21.39h-1.00zM270.30 674.57h1.00v21.39h-1.00zM261.30 695.96h1.00v21.39h-1.00zM264.30 695.96h1.00v21.39h-1.00zM106.30 717.34h1.00v21.39h-1.00zM173.30 717.34h1.00v21.39h-1.00zM177.30 717.34h1.00v21.39h-1.00zM188.30 717.34h1.00v21.39h-1.00zM216.30 717.34h1.00v21.39h-1.00zM108.30 738.73h1.00v21.39h-1.00zM133.30 738.73h1.00v21.39h-1.00zM164.30 738.73h1.00v21.39h-1.00zM180.30 738.73h1.00v21.39h-1.00zM214.30 738.73h1.00v21.39h-1.00zM297.30 738.73h1.00v21.39h-1.00zM154.30 760.11h1.00v21.39h-1.00zM233.30 760.11h1.00v21.39h-1.00z" fill="#88abfd"/>
<path d="M267.30 631.80h1.00v21.39h-1.00zM278.30 631.80h1.00v21.39h-1.00zM271.30 674.57h1.00v21.39h-1.00zM294.30 674.57h1.00v21.39h-1.00zM288.30 695.96h1.00v21.39h-1.00zM130.30 717.34h1.00v21.39h-1.00zM157.30 717.34h1.00v21.39h-1.00zM248.30 717.34h1.00v21.39h-1.00zM262.30 717.34h1.00v21.39h-1.00zM112.30 738.73h1.00v21.39h-1.00zM270.30 738.73h1.00v21.39h-1.00zM229.30 760.11h1.00v21.39h-1.00z" fill="#8db0fe"/>
<path d="M268.30 631.80h1.00v21.39h-1.00zM281.30 631.80h1.00v21.39h-1.00zM291.30 653.19h1.00v21.39h-1.00zM260.30 674.57h1.00v21.39h-1.00zM275.30 674.57h1.00v21.39h-1.00zM278.30 674.57h1.00v21.39h-1.00zM288.30 674.57h1.00v21.39h-1.00zM297.30 674.57h1.00v21.39h-1.00zM92.30 717.34h1.00v21.39h-1.00zM125.30 717.34h1.00v21.39h-1.00zM140.30 717.34h1.00v21.39h-1.00zM163.30 717.34h1.00v21.39h-1.00zM174.30 717.34h1.00v21.39h-1.00zM212.30 717.34h1.00v21.39h-1.00zM273.30 717.34h1.00v21.39h-1.00zM278.30 717.34h1.00v21.39h-1.00zM296.30 717.34h1.00v21.39h-1.00zM95.30 738.73h1.00v21.39h-1.00zM169.30 738.73h1.00v21.39h-1.00zM199.30 738.73h1.00v21.39h-1.00zM228.30 738.73h1.00v21.39h-1.00zM243.30 760.11h1.00v21.39h-1.00z" fill="#8fb1fe"/>
<path d="M271.30 631.80h1.00v21.39h-1.00zM194.30 674.57h1.00v21.39h-1.00zM224.30 674.57h1.00v21.39h-1.00zM110.30 717.34h1.00v21.39h-1.00zM68.30 738.73h1.00v21.39h-1.00z" fill="#bed2f6"/>
<path d="M273.30 631.80h1.00v21.39h-1.00zM257.30 674.57h1.00v21.39h-1.00zM268.30 674.57h1.00v21.39h-1.00zM272.30 695.96h1.00v21.39h-1.00zM273.30 695.96h1.00v21.39h-1.00zM131.30 717.34h1.00v21.39h-1.00zM137.30 717.34h1.00v21.39h-1.00zM138.30 717.34h1.00v21.39h-1.00zM171.30 717.34h1.00v21.39h-1.00zM191.30 717.34h1.00v21.39h-1.00zM211.30 717.34h1.00v21.39h-1.00zM256.30 717.34h1.00v21.39h-1.00zM267.30 717.34h1.00v21.39h-1.00zM294.30 717.34h1.00v21.39h-1.00zM94.30 738.73h1.00v21.39h-1.00zM109.30 738.73h1.00v21.39h-1.00zM128.30 738.73h1.00v21.39h-1.00zM177.30 738.73h1.00v21.39h-1.00zM187.30 738.73h1.00v21.39h-1.00zM193.30 738.73h1.00v21.39h-1.00z" fill="#98b9ff"/>
<path d="M274.30 631.80h1.00v21.39h-1.00zM288.30 631.80h1.00v21.39h-1.00zM295.30 674.57h1.00v21.39h-1.00zM267.30 695.96h1.00v21.39h-1.00zM280.30 695.96h1.00v21.39h-1.00zM119.30 738.73h1.00v21.39h-1.00zM135.30 738.73h1.00v21.39h-1.00zM157.30 738.73h1.00v21.39h-1.00zM202.30 738.73h1.00v21.39h-1.00zM229.30 738.73h1.00v21.39h-1.00zM148.30 760.11h1.00v21.39h-1.00zM214.30 760.11h1.00v21.39h-1.00z" fill="#82a6fb"/>
<path d="M275.30 631.80h1.00v21.39h-1.00zM277.30 631.80h1.00v21.39h-1.00zM297.30 653.19h1.00v21.39h-1.00zM290.30 674.57h1.00v21.39h-1.00zM278.30 695.96h1.00v21.39h-1.00zM283.30 695.96h1.00v21.39h-1.00zM292.30 695.96h1.00v21.39h-1.00zM128.30 717.34h1.00v21.39h-1.00zM215.30 717.34h1.00v21.39h-1.00zM217.30 717.34h1.00v21.39h-1.00zM261.30 717.34h1.00v21.39h-1.00zM283.30 717.34h1.00v21.39h-1.00zM141.30 738.73h1.00v21.39h-1.00zM146.30 738.73h1.00v21.39h-1.00zM151.30 738.73h1.00v21.39h-1.00zM170.30 738.73h1.00v21.39h-1.00zM215.30 738.73h1.00v21.39h-1.00zM291.30 738.73h1.00v21.39h-1.00zM293.30 738.73h1.00v21.39h-1.00z" fill="#86a9fc"/>
<path d="M276.30 631.80h1.00v21.39h-1.00zM285.30 674.57h1.00v21.39h-1.00zM150.30 717.34h1.00v21.39h-1.00zM175.30 717.34h1.00v21.39h-1.00zM182.30 717.34h1.00v21.39h-1.00zM80.30 738.73h1.00v21.39h-1.00zM83.30 738.73h1.00v21.39h-1.00zM122.30 738.73h1.00v21.39h-1.00zM129.30 738.73h1.00v21.39h-1.00z" fill="#9dbdff"/>
<path d="M279.30 631.80h1.00v21.39h-1.00zM256.30 674.57h1.00v21.39h-1.00zM289.30 674.57h1.00v21.39h-1.00zM256.30 695.96h1.00v21.39h-1.00zM105.30 717.34h1.00v21.39h-1.00zM108.30 717.34h1.00v21.39h-1.00zM144.30 717.34h1.00v21.39h-1.00zM156.30 717.34h1.00v21.39h-1.00zM199.30 717.34h1.00v21.39h-1.00zM218.30 717.34h1.00v21.39h-1.00zM219.30 717.34h1.00v21.39h-1.00zM220.30 717.34h1.00v21.39h-1.00zM86.30 738.73h1.00v21.39h-1.00zM117.30 738.73h1.00v21.39h-1.00zM127.30 738.73h1.00v21.39h-1.00zM276.30 738.73h1.00v21.39h-1.00z" fill="#9abbff"/>
<path d="M280.30 631.80h1.00v21.39h-1.00zM269.30 674.57h1.00v21.39h-1.00zM113.30 717.34h1.00v21.39h-1.00zM201.30 717.34h1.00v21.39h-1.00zM207.30 717.34h1.00v21.39h-1.00zM258.30 717.34h1.00v21.39h-1.00zM268.30 717.34h1.00v21.39h-1.00zM118.30 738.73h1.00v21.39h-1.00zM204.30 738.73h1.00v21.39h-1.00z" fill="#97b8ff"/>
<path d="M282.30 631.80h1.00v21.39h-1.00zM287.30 653.19h1.00v21.39h-1.00zM280.30 674.57h1.00v21.39h-1.00zM259.30 695.96h1.00v21.39h-1.00zM269.30 695.96h1.00v21.39h-1.00zM82.30 717.34h1.00v21.39h-1.00zM101.30 717.34h1.00v21.39h-1.00zM127.30 717.34h1.00v21.39h-1.00zM145.30 717.34h1.00v21.39h-1.00zM161.30 717.34h1.00v21.39h-1.00zM239.30 717.34h1.00v21.39h-1.00zM269.30 717.34h1.00v21.39h-1.00zM279.30 717.34h1.00v21.39h-1.00zM60.30 738.73h1.00v21.39h-1.00zM106.30 738.73h1.00v21.39h-1.00zM159.30 738.73h1.00v21.39h-1.00zM195.30 738.73h1.00v21.39h-1.00z" fill="#96b7ff"/>
<path d="M283.30 631.80h1.00v21.39h-1.00zM264.30 653.19h1.00v21.39h-1.00zM266.30 674.57h1.00v21.39h-1.00zM70.30 717.34h1.00v21.39h-1.00z" fill="#aac7fd"/>
<path d="M284.30 631.80h1.00v21.39h-1.00zM284.30 695.96h1.00v21.39h-1.00zM172.30 717.34h1.00v21.39h-1.00zM203.30 717.34h1.00v21.39h-1.00zM270.30 717.34h1.00v21.39h-1.00zM113.30 738.73h1.00v21.39h-1.00zM150.30 738.73h1.00v21.39h-1.00zM198.30 738.73h1.00v21.39h-1.00zM221.30 738.73h1.00v21.39h-1.00zM231.30 738.73h1.00v21.39h-1.00zM247.30 738.73h1.00v21.39h-1.00z" fill="#80a3fa"/>
<path d="M286.30 631.80h1.00v21.39h-1.00zM287.30 631.80h1.00v21.39h-1.00zM274.30 695.96h1.00v21.39h-1.00zM285.30 695.96h1.00v21.39h-1.00zM72.30 717.34h1.00v21.39h-1.00zM165.30 717.34h1.00v21.39h-1.00zM168.30 717.34h1.00v21.39h-1.00zM169.30 717.34h1.00v21.39h-1.00zM196.30 717.34h1.00v21.39h-1.00zM293.30 717.34h1.00v21.39h-1.00zM125.30 738.73h1.00v21.39h-1.00zM134.30 738.73h1.00v21.39h-1.00zM168.30 738.73h1.00v21.39h-1.00zM184.30 738.73h1.00v21.39h-1.00zM219.30 738.73h1.00v21.39h-1.00zM240.30 738.73h1.00v21.39h-1.00zM241.30 738.73h1.00v21.39h-1.00zM249.30 738.73h1.00v21.39h-1.00zM260.30 738.73h1.00v21.39h-1.00zM262.30 738.73h1.00v21.39h-1.00zM125.30 760.11h1.00v21.39h-1.00zM134.30 760.11h1.00v21.39h-1.00zM224.30 760.11h1.00v21.39h-1.00zM244.30 760.11h1.00v21.39h-1.00zM268.30 760.11h1.00v21.39h-1.00zM274.30 760.11h1.00v21.39h-1.00z" fill="#7ea1fa"/>
<path d="M289.30 631.80h1.00v21.39h-1.00zM267.30 738.73h1.00v21.39h-1.00zM118.30 760.11h1.00v21.39h-1.00zM123.30 760.11h1.00v21.39h-1.00zM126.30 760.11h1.00v21.39h-1.00zM131.30 760.11h1.00v21.39h-1.00zM144.30 760.11h1.00v21.39h-1.00zM169.30 760.11h1.00v21.39h-1.00zM215.30 760.11h1.00v21.39h-1.00zM216.30 760.11h1.00v21.39h-1.00zM263.30 760.11h1.00v21.39h-1.00z" fill="#6c8ff1"/>
<path d="M290.30 631.80h1.00v21.39h-1.00zM292.30 653.19h1.00v21.39h-1.00zM258.30 695.96h1.00v21.39h-1.00zM265.30 695.96h1.00v21.39h-1.00zM158.30 717.34h1.00v21.39h-1.00zM170.30 717.34h1.00v21.39h-1.00zM246.30 717.34h1.00v21.39h-1.00zM253.30 717.34h1.00v21.39h-1.00zM295.30 717.34h1.00v21.39h-1.00zM105.30 738.73h1.00v21.39h-1.00zM131.30 738.73h1.00v21.39h-1.00zM149.30 738.73h1.00v21.39h-1.00z" fill="#90b2fe"/>
<path d="M291.30 631.80h1.00v21.39h-1.00zM84.30 760.11h1.00v21.39h-1.00zM163.30 760.11h1.00v21.39h-1.00z" fill="#5f7fe8"/>
<path d="M292.30 631.80h1.00v21.39h-1.00zM293.30 695.96h1.00v21.39h-1.00zM294.30 695.96h1.00v21.39h-1.00zM107.30 760.11h1.00v21.39h-1.00zM110.30 760.11h1.00v21.39h-1.00zM170.30 760.11h1.00v21.39h-1.00z" fill="#5673e0"/>
<path d="M293.30 631.80h1.00v21.39h-1.00zM283.30 674.57h1.00v21.39h-1.00zM102.30 717.34h1.00v21.39h-1.00zM133.30 717.34h1.00v21.39h-1.00zM200.30 717.34h1.00v21.39h-1.00zM249.30 717.34h1.00v21.39h-1.00zM286.30 717.34h1.00v21.39h-1.00zM297.30 717.34h1.00v21.39h-1.00zM115.30 738.73h1.00v21.39h-1.00zM137.30 738.73h1.00v21.39h-1.00zM248.30 738.73h1.00v21.39h-1.00zM173.30 760.11h1.00v21.39h-1.00zM248.30 760.11h1.00v21.39h-1.00zM258.30 760.11h1.00v21.39h-1.00zM267.30 760.11h1.00v21.39h-1.00z" fill="#7699f6"/>
<path d="M294.30 631.80h1.00v21.39h-1.00zM254.30 674.57h1.00v21.39h-1.00zM282.30 674.57h1.00v21.39h-1.00zM282.30 695.96h1.00v21.39h-1.00zM99.30 717.34h1.00v21.39h-1.00zM223.30 717.34h1.00v21.39h-1.00zM240.30 717.34h1.00v21.39h-1.00zM276.30 717.34h1.00v21.39h-1.00zM104.30 738.73h1.00v21.39h-1.00zM132.30 738.73h1.00v21.39h-1.00zM163.30 738.73h1.00v21.39h-1.00zM188.30 738.73h1.00v21.39h-1.00zM200.30 738.73h1.00v21.39h-1.00zM270.30 760.11h1.00v21.39h-1.00zM283.30 760.11h1.00v21.39h-1.00z" fill="#8caffe"/>
<path d="M295.30 631.80h1.00v21.39h-1.00zM287.30 674.57h1.00v21.39h-1.00zM296.30 674.57h1.00v21.39h-1.00zM281.30 695.96h1.00v21.39h-1.00zM234.30 717.34h1.00v21.39h-1.00zM250.30 717.34h1.00v21.39h-1.00zM263.30 717.34h1.00v21.39h-1.00zM287.30 717.34h1.00v21.39h-1.00zM174.30 738.73h1.00v21.39h-1.00zM212.30 738.73h1.00v21.39h-1.00zM213.30 738.73h1.00v21.39h-1.00zM220.30 738.73h1.00v21.39h-1.00zM251.30 738.73h1.00v21.39h-1.00zM296.30 738.73h1.00v21.39h-1.00zM230.30 760.11h1.00v21.39h-1.00zM266.30 760.11h1.00v21.39h-1.00zM284.30 760.11h1.00v21.39h-1.00zM297.30 760.11h1.00v21.39h-1.00z" fill="#7a9df8"/>
<path d="M296.30 631.80h1.00v21.39h-1.00zM279.30 695.96h1.00v21.39h-1.00zM211.30 738.73h1.00v21.39h-1.00zM232.30 738.73h1.00v21.39h-1.00zM281.30 738.73h1.00v21.39h-1.00zM72.30 760.11h1.00v21.39h-1.00zM238.30 760.11h1.00v21.39h-1.00zM271.30 760.11h1.00v21.39h-1.00zM272.30 760.11h1.00v21.39h-1.00z" fill="#799cf8"/>
<path d="M297.30 631.80h1.00v21.39h-1.00zM287.30 695.96h1.00v21.39h-1.00zM104.30 717.34h1.00v21.39h-1.00zM153.30 738.73h1.00v21.39h-1.00zM178.30 738.73h1.00v21.39h-1.00zM250.30 738.73h1.00v21.39h-1.00zM282.30 738.73h1.00v21.39h-1.00zM295.30 738.73h1.00v21.39h-1.00zM63.30 760.11h1.00v21.39h-1.00zM79.30 760.11h1.00v21.39h-1.00zM119.30 760.11h1.00v21.39h-1.00zM137.30 760.11h1.00v21.39h-1.00zM171.30 760.11h1.00v21.39h-1.00zM259.30 760.11h1.00v21.39h-1.00zM294.30 760.11h1.00v21.39h-1.00z" fill="#7295f4"/>
<path d="M68.30 653.19h1.00v21.39h-1.00zM86.30 653.19h1.00v21.39h-1.00zM62.30 674.57h1.00v21.39h-1.00z" fill="#f7a98b"/>
<path d="M69.30 653.19h1.00v21.39h-1.00zM89.30 653.19h1.00v21.39h-1.00zM97.30 653.19h1.00v21.39h-1.00zM112.30 674.57h1.00v21.39h-1.00zM117.30 674.57h1.00v21.39h-1.00z" fill="#f7ac8e"/>
<path d="M72.30 653.19h1.00v21.39h-1.00zM74.30 653.19h1.00v21.39h-1.00zM80.30 653.19h1.00v21.39h-1.00zM111.30 653.19h1.00v21.39h-1.00zM61.30 674.57h1.00v21.39h-1.00z" fill="#f6a586"/>
<path d="M78.30 653.19h1.00v21.39h-1.00zM91.30 653.19h1.00v21.39h-1.00zM74.30 674.57h1.00v21.39h-1.00z" fill="#ee8669"/>
<path d="M95.30 653.19h1.00v21.39h-1.00zM139.30 653.19h1.00v21.39h-1.00zM207.30 653.19h1.00v21.39h-1.00zM217.30 653.19h1.00v21.39h-1.00zM241.30 653.19h1.00v21.39h-1.00zM133.30 695.96h1.00v21.39h-1.00zM135.30 695.96h1.00v21.39h-1.00z" fill="#f5c4ac"/>
<path d="M101.30 653.19h1.00v21.39h-1.00zM143.30 653.19h1.00v21.39h-1.00zM161.30 653.19h1.00v21.39h-1.00zM184.30 653.19h1.00v21.39h-1.00zM95.30 674.57h1.00v21.39h-1.00zM100.30 674.57h1.00v21.39h-1.00z" fill="#f6bda2"/>
<path d="M105.30 653.19h1.00v21.39h-1.00zM119.30 653.19h1.00v21.39h-1.00zM142.30 653.19h1.00v21.39h-1.00zM186.30 653.19h1.00v21.39h-1.00zM224.30 653.19h1.00v21.39h-1.00zM122.30 674.57h1.00v21.39h-1.00zM73.30 695.96h1.00v21.39h-1.00z" fill="#f5c0a7"/>
<path d="M114.30 653.19h1.00v21.39h-1.00z" fill="#f29274"/>
<path d="M121.30 653.19h1.00v21.39h-1.00zM134.30 653.19h1.00v21.39h-1.00zM187.30 653.19h1.00v21.39h-1.00zM150.30 695.96h1.00v21.39h-1.00zM166.30 695.96h1.00v21.39h-1.00zM177.30 695.96h1.00v21.39h-1.00zM196.30 695.96h1.00v21.39h-1.00z" fill="#f3c7b1"/>
<path d="M123.30 653.19h1.00v21.39h-1.00zM133.30 653.19h1.00v21.39h-1.00zM149.30 653.19h1.00v21.39h-1.00zM171.30 653.19h1.00v21.39h-1.00zM173.30 653.19h1.00v21.39h-1.00zM115.30 674.57h1.00v21.39h-1.00zM132.30 695.96h1.00v21.39h-1.00z" fill="#f7af91"/>
<path d="M125.30 653.19h1.00v21.39h-1.00zM67.30 674.57h1.00v21.39h-1.00zM68.30 674.57h1.00v21.39h-1.00z" fill="#f29072"/>
<path d="M180.30 653.19h1.00v21.39h-1.00zM196.30 674.57h1.00v21.39h-1.00zM76.30 695.96h1.00v21.39h-1.00zM155.30 695.96h1.00v21.39h-1.00zM182.30 695.96h1.00v21.39h-1.00zM193.30 695.96h1.00v21.39h-1.00z" fill="#d9dce1"/>
<path d="M182.30 653.19h1.00v21.39h-1.00zM162.30 674.57h1.00v21.39h-1.00zM213.30 674.57h1.00v21.39h-1.00zM222.30 674.57h1.00v21.39h-1.00zM206.30 695.96h1.00v21.39h-1.00zM208.30 695.96h1.00v21.39h-1.00zM210.30 695.96h1.00v21.39h-1.00z" fill="#d7dce3"/>
<path d="M218.30 653.19h1.00v21.39h-1.00zM186.30 674.57h1.00v21.39h-1.00zM212.30 674.57h1.00v21.39h-1.00zM84.30 695.96h1.00v21.39h-1.00zM148.30 695.96h1.00v21.39h-1.00zM152.30 695.96h1.00v21.39h-1.00zM169.30 695.96h1.00v21.39h-1.00zM188.30 695.96h1.00v21.39h-1.00zM237.30 695.96h1.00v21.39h-1.00zM239.30 695.96h1.00v21.39h-1.00z" fill="#dedcdb"/>
<path d="M247.30 653.19h1.00v21.39h-1.00zM161.30 674.57h1.00v21.39h-1.00zM176.30 674.57h1.00v21.39h-1.00zM181.30 674.57h1.00v21.39h-1.00zM195.30 674.57h1.00v21.39h-1.00zM204.30 674.57h1.00v21.39h-1.00zM220.30 674.57h1.00v21.39h-1.00zM61.30 695.96h1.00v21.39h-1.00zM82.30 695.96h1.00v21.39h-1.00zM131.30 695.96h1.00v21.39h-1.00zM209.30 695.96h1.00v21.39h-1.00zM238.30 695.96h1.00v21.39h-1.00z" fill="#dbdcde"/>
<path d="M253.30 653.19h1.00v21.39h-1.00zM193.30 674.57h1.00v21.39h-1.00zM75.30 717.34h1.00v21.39h-1.00zM80.30 717.34h1.00v21.39h-1.00zM93.30 717.34h1.00v21.39h-1.00zM66.30 738.73h1.00v21.39h-1.00z" fill="#bcd2f7"/>
<path d="M255.30 653.19h1.00v21.39h-1.00zM76.30 717.34h1.00v21.39h-1.00zM88.30 717.34h1.00v21.39h-1.00zM116.30 717.34h1.00v21.39h-1.00zM129.30 717.34h1.00v21.39h-1.00zM154.30 717.34h1.00v21.39h-1.00zM69.30 738.73h1.00v21.39h-1.00zM75.30 738.73h1.00v21.39h-1.00zM100.30 738.73h1.00v21.39h-1.00z" fill="#abc8fd"/>
<path d="M257.30 653.19h1.00v21.39h-1.00zM190.30 674.57h1.00v21.39h-1.00zM201.30 674.57h1.00v21.39h-1.00zM208.30 674.57h1.00v21.39h-1.00zM237.30 674.57h1.00v21.39h-1.00z" fill="#cedaeb"/>
<path d="M261.30 653.19h1.00v21.39h-1.00zM91.30 738.73h1.00v21.39h-1.00zM101.30 738.73h1.00v21.39h-1.00zM102.30 738.73h1.00v21.39h-1.00z" fill="#b7cff9"/>
<path d="M263.30 653.19h1.00v21.39h-1.00zM203.30 674.57h1.00v21.39h-1.00zM78.30 717.34h1.00v21.39h-1.00zM194.30 717.34h1.00v21.39h-1.00zM61.30 738.73h1.00v21.39h-1.00zM85.30 738.73h1.00v21.39h-1.00zM97.30 738.73h1.00v21.39h-1.00z" fill="#b3cdfb"/>
<path d="M265.30 653.19h1.00v21.39h-1.00zM269.30 653.19h1.00v21.39h-1.00zM250.30 674.57h1.00v21.39h-1.00z" fill="#c5d6f2"/>
<path d="M268.30 653.19h1.00v21.39h-1.00zM160.30 674.57h1.00v21.39h-1.00z" fill="#c3d5f4"/>
<path d="M271.30 653.19h1.00v21.39h-1.00zM66.30 717.34h1.00v21.39h-1.00zM67.30 717.34h1.00v21.39h-1.00zM84.30 717.34h1.00v21.39h-1.00zM89.30 717.34h1.00v21.39h-1.00zM98.30 717.34h1.00v21.39h-1.00zM225.30 717.34h1.00v21.39h-1.00zM236.30 717.34h1.00v21.39h-1.00z" fill="#a7c5fe"/>
<path d="M272.30 653.19h1.00v21.39h-1.00zM252.30 674.57h1.00v21.39h-1.00zM96.30 717.34h1.00v21.39h-1.00zM63.30 738.73h1.00v21.39h-1.00z" fill="#b6cefa"/>
<path d="M273.30 653.19h1.00v21.39h-1.00zM180.30 674.57h1.00v21.39h-1.00zM227.30 674.57h1.00v21.39h-1.00zM69.30 695.96h1.00v21.39h-1.00zM207.30 695.96h1.00v21.39h-1.00zM227.30 695.96h1.00v21.39h-1.00zM240.30 695.96h1.00v21.39h-1.00z" fill="#d1dae9"/>
<path d="M274.30 653.19h1.00v21.39h-1.00zM276.30 653.19h1.00v21.39h-1.00zM278.30 653.19h1.00v21.39h-1.00zM289.30 653.19h1.00v21.39h-1.00zM69.30 717.34h1.00v21.39h-1.00zM96.30 738.73h1.00v21.39h-1.00zM189.30 738.73h1.00v21.39h-1.00z" fill="#b1cbfc"/>
<path d="M275.30 653.19h1.00v21.39h-1.00zM218.30 674.57h1.00v21.39h-1.00zM249.30 674.57h1.00v21.39h-1.00zM251.30 674.57h1.00v21.39h-1.00zM65.30 717.34h1.00v21.39h-1.00zM193.30 717.34h1.00v21.39h-1.00zM88.30 738.73h1.00v21.39h-1.00z" fill="#b9d0f9"/>
<path d="M277.30 653.19h1.00v21.39h-1.00zM281.30 653.19h1.00v21.39h-1.00zM263.30 674.57h1.00v21.39h-1.00zM81.30 717.34h1.00v21.39h-1.00zM160.30 717.34h1.00v21.39h-1.00zM280.30 717.34h1.00v21.39h-1.00z" fill="#adc9fd"/>
<path d="M280.30 653.19h1.00v21.39h-1.00zM62.30 717.34h1.00v21.39h-1.00zM64.30 738.73h1.00v21.39h-1.00zM90.30 738.73h1.00v21.39h-1.00z" fill="#bad0f8"/>
<path d="M285.30 653.19h1.00v21.39h-1.00zM91.30 717.34h1.00v21.39h-1.00zM149.30 717.34h1.00v21.39h-1.00zM167.30 717.34h1.00v21.39h-1.00zM179.30 717.34h1.00v21.39h-1.00zM189.30 717.34h1.00v21.39h-1.00zM229.30 717.34h1.00v21.39h-1.00zM78.30 738.73h1.00v21.39h-1.00zM81.30 738.73h1.00v21.39h-1.00zM123.30 738.73h1.00v21.39h-1.00zM148.30 738.73h1.00v21.39h-1.00z" fill="#9ebeff"/>
<path d="M286.30 653.19h1.00v21.39h-1.00zM296.30 653.19h1.00v21.39h-1.00zM255.30 674.57h1.00v21.39h-1.00zM279.30 674.57h1.00v21.39h-1.00zM266.30 695.96h1.00v21.39h-1.00zM271.30 695.96h1.00v21.39h-1.00zM83.30 717.34h1.00v21.39h-1.00zM107.30 717.34h1.00v21.39h-1.00zM121.30 717.34h1.00v21.39h-1.00zM123.30 717.34h1.00v21.39h-1.00zM139.30 717.34h1.00v21.39h-1.00zM142.30 717.34h1.00v21.39h-1.00zM147.30 717.34h1.00v21.39h-1.00zM164.30 717.34h1.00v21.39h-1.00zM208.30 717.34h1.00v21.39h-1.00zM209.30 717.34h1.00v21.39h-1.00zM228.30 717.34h1.00v21.39h-1.00zM238.30 717.34h1.00v21.39h-1.00zM252.30 717.34h1.00v21.39h-1.00zM266.30 717.34h1.00v21.39h-1.00zM192.30 738.73h1.00v21.39h-1.00zM194.30 738.73h1.00v21.39h-1.00zM227.30 738.73h1.00v21.39h-1.00zM253.30 738.73h1.00v21.39h-1.00z" fill="#93b5fe"/>
<path d="M290.30 653.19h1.00v21.39h-1.00zM267.30 674.57h1.00v21.39h-1.00zM253.30 695.96h1.00v21.39h-1.00zM135.30 717.34h1.00v21.39h-1.00zM235.30 717.34h1.00v21.39h-1.00zM260.30 717.34h1.00v21.39h-1.00zM71.30 738.73h1.00v21.39h-1.00zM185.30 738.73h1.00v21.39h-1.00z" fill="#9fbfff"/>
<path d="M293.30 653.19h1.00v21.39h-1.00zM261.30 674.57h1.00v21.39h-1.00zM87.30 717.34h1.00v21.39h-1.00zM109.30 717.34h1.00v21.39h-1.00zM181.30 717.34h1.00v21.39h-1.00zM214.30 717.34h1.00v21.39h-1.00zM281.30 717.34h1.00v21.39h-1.00zM110.30 738.73h1.00v21.39h-1.00zM167.30 738.73h1.00v21.39h-1.00z" fill="#a1c0ff"/>
<path d="M294.30 653.19h1.00v21.39h-1.00zM71.30 717.34h1.00v21.39h-1.00zM86.30 717.34h1.00v21.39h-1.00zM111.30 717.34h1.00v21.39h-1.00zM148.30 717.34h1.00v21.39h-1.00zM187.30 717.34h1.00v21.39h-1.00zM192.30 717.34h1.00v21.39h-1.00zM230.30 717.34h1.00v21.39h-1.00zM274.30 717.34h1.00v21.39h-1.00zM72.30 738.73h1.00v21.39h-1.00zM176.30 738.73h1.00v21.39h-1.00zM190.30 738.73h1.00v21.39h-1.00z" fill="#a5c3fe"/>
<path d="M168.30 674.57h1.00v21.39h-1.00zM108.30 695.96h1.00v21.39h-1.00zM153.30 695.96h1.00v21.39h-1.00zM158.30 695.96h1.00v21.39h-1.00zM170.30 695.96h1.00v21.39h-1.00z" fill="#ebd3c6"/>
<path d="M170.30 674.57h1.00v21.39h-1.00zM94.30 717.34h1.00v21.39h-1.00zM120.30 717.34h1.00v21.39h-1.00z" fill="#c7d7f0"/>
<path d="M184.30 674.57h1.00v21.39h-1.00zM185.30 674.57h1.00v21.39h-1.00z" fill="#cad8ef"/>
<path d="M198.30 674.57h1.00v21.39h-1.00zM223.30 695.96h1.00v21.39h-1.00z" fill="#d2dbe8"/>
<path d="M199.30 674.57h1.00v21.39h-1.00zM200.30 674.57h1.00v21.39h-1.00z" fill="#c6d6f1"/>
<path d="M207.30 674.57h1.00v21.39h-1.00zM234.30 674.57h1.00v21.39h-1.00zM235.30 674.57h1.00v21.39h-1.00zM63.30 717.34h1.00v21.39h-1.00z" fill="#bbd1f8"/>
<path d="M211.30 674.57h1.00v21.39h-1.00z" fill="#ccd9ed"/>
<path d="M219.30 674.57h1.00v21.39h-1.00zM233.30 674.57h1.00v21.39h-1.00zM240.30 674.57h1.00v21.39h-1.00zM201.30 695.96h1.00v21.39h-1.00z" fill="#cbd8ee"/>
<path d="M225.30 674.57h1.00v21.39h-1.00zM73.30 717.34h1.00v21.39h-1.00zM74.30 717.34h1.00v21.39h-1.00z" fill="#bfd3f6"/>
<path d="M226.30 674.57h1.00v21.39h-1.00zM229.30 674.57h1.00v21.39h-1.00zM64.30 717.34h1.00v21.39h-1.00zM67.30 738.73h1.00v21.39h-1.00z" fill="#c4d5f3"/>
<path d="M231.30 674.57h1.00v21.39h-1.00z" fill="#c1d4f4"/>
<path d="M258.30 674.57h1.00v21.39h-1.00zM286.30 674.57h1.00v21.39h-1.00zM263.30 695.96h1.00v21.39h-1.00zM117.30 717.34h1.00v21.39h-1.00zM195.30 717.34h1.00v21.39h-1.00zM288.30 717.34h1.00v21.39h-1.00zM111.30 738.73h1.00v21.39h-1.00zM116.30 738.73h1.00v21.39h-1.00zM138.30 738.73h1.00v21.39h-1.00zM165.30 738.73h1.00v21.39h-1.00zM166.30 738.73h1.00v21.39h-1.00zM196.30 738.73h1.00v21.39h-1.00zM210.30 738.73h1.00v21.39h-1.00zM233.30 738.73h1.00v21.39h-1.00zM237.30 738.73h1.00v21.39h-1.00zM243.30 738.73h1.00v21.39h-1.00zM279.30 738.73h1.00v21.39h-1.00zM280.30 738.73h1.00v21.39h-1.00zM273.30 760.11h1.00v21.39h-1.00z" fill="#7b9ff9"/>
<path d="M259.30 674.57h1.00v21.39h-1.00zM262.30 695.96h1.00v21.39h-1.00zM141.30 717.34h1.00v21.39h-1.00zM178.30 717.34h1.00v21.39h-1.00zM233.30 717.34h1.00v21.39h-1.00zM241.30 717.34h1.00v21.39h-1.00zM265.30 717.34h1.00v21.39h-1.00zM121.30 738.73h1.00v21.39h-1.00zM142.30 738.73h1.00v21.39h-1.00zM154.30 738.73h1.00v21.39h-1.00zM156.30 738.73h1.00v21.39h-1.00zM235.30 738.73h1.00v21.39h-1.00zM285.30 738.73h1.00v21.39h-1.00zM290.30 738.73h1.00v21.39h-1.00zM93.30 760.11h1.00v21.39h-1.00zM226.30 760.11h1.00v21.39h-1.00z" fill="#7da0f9"/>
<path d="M264.30 674.57h1.00v21.39h-1.00zM265.30 674.57h1.00v21.39h-1.00zM254.30 695.96h1.00v21.39h-1.00zM97.30 717.34h1.00v21.39h-1.00zM152.30 717.34h1.00v21.39h-1.00zM277.30 717.34h1.00v21.39h-1.00zM84.30 738.73h1.00v21.39h-1.00zM114.30 738.73h1.00v21.39h-1.00z" fill="#a3c2fe"/>
<path d="M273.30 674.57h1.00v21.39h-1.00zM293.30 674.57h1.00v21.39h-1.00zM119.30 717.34h1.00v21.39h-1.00zM124.30 717.34h1.00v21.39h-1.00zM132.30 717.34h1.00v21.39h-1.00zM180.30 717.34h1.00v21.39h-1.00zM213.30 717.34h1.00v21.39h-1.00zM222.30 717.34h1.00v21.39h-1.00zM247.30 717.34h1.00v21.39h-1.00zM271.30 717.34h1.00v21.39h-1.00zM285.30 717.34h1.00v21.39h-1.00zM124.30 738.73h1.00v21.39h-1.00zM136.30 738.73h1.00v21.39h-1.00zM171.30 738.73h1.00v21.39h-1.00zM201.30 738.73h1.00v21.39h-1.00zM269.30 738.73h1.00v21.39h-1.00zM220.30 760.11h1.00v21.39h-1.00z" fill="#84a7fc"/>
<path d="M274.30 674.57h1.00v21.39h-1.00zM136.30 717.34h1.00v21.39h-1.00zM159.30 717.34h1.00v21.39h-1.00zM162.30 717.34h1.00v21.39h-1.00zM210.30 717.34h1.00v21.39h-1.00zM259.30 717.34h1.00v21.39h-1.00zM73.30 738.73h1.00v21.39h-1.00zM82.30 738.73h1.00v21.39h-1.00zM99.30 738.73h1.00v21.39h-1.00zM183.30 738.73h1.00v21.39h-1.00zM186.30 738.73h1.00v21.39h-1.00zM207.30 738.73h1.00v21.39h-1.00z" fill="#94b6ff"/>
<path d="M276.30 674.57h1.00v21.39h-1.00zM115.30 717.34h1.00v21.39h-1.00zM183.30 717.34h1.00v21.39h-1.00zM237.30 717.34h1.00v21.39h-1.00zM284.30 717.34h1.00v21.39h-1.00zM290.30 717.34h1.00v21.39h-1.00zM218.30 738.73h1.00v21.39h-1.00zM263.30 738.73h1.00v21.39h-1.00zM268.30 738.73h1.00v21.39h-1.00z" fill="#92b4fe"/>
<path d="M277.30 674.57h1.00v21.39h-1.00zM277.30 695.96h1.00v21.39h-1.00zM185.30 717.34h1.00v21.39h-1.00zM120.30 738.73h1.00v21.39h-1.00zM130.30 738.73h1.00v21.39h-1.00zM173.30 738.73h1.00v21.39h-1.00zM179.30 738.73h1.00v21.39h-1.00zM239.30 738.73h1.00v21.39h-1.00zM277.30 738.73h1.00v21.39h-1.00zM221.30 760.11h1.00v21.39h-1.00zM249.30 760.11h1.00v21.39h-1.00zM286.30 760.11h1.00v21.39h-1.00zM296.30 760.11h1.00v21.39h-1.00z" fill="#779af7"/>
<path d="M291.30 674.57h1.00v21.39h-1.00zM275.30 695.96h1.00v21.39h-1.00zM238.30 738.73h1.00v21.39h-1.00zM272.30 738.73h1.00v21.39h-1.00zM294.30 738.73h1.00v21.39h-1.00zM76.30 760.11h1.00v21.39h-1.00zM77.30 760.11h1.00v21.39h-1.00zM78.30 760.11h1.00v21.39h-1.00zM124.30 760.11h1.00v21.39h-1.00zM165.30 760.11h1.00v21.39h-1.00zM180.30 760.11h1.00v21.39h-1.00zM184.30 760.11h1.00v21.39h-1.00zM191.30 760.11h1.00v21.39h-1.00zM210.30 760.11h1.00v21.39h-1.00zM246.30 760.11h1.00v21.39h-1.00zM250.30 760.11h1.00v21.39h-1.00zM275.30 760.11h1.00v21.39h-1.00z" fill="#6e90f2"/>
<path d="M276.30 695.96h1.00v21.39h-1.00zM184.30 717.34h1.00v21.39h-1.00zM162.30 738.73h1.00v21.39h-1.00zM225.30 738.73h1.00v21.39h-1.00zM254.30 738.73h1.00v21.39h-1.00zM278.30 738.73h1.00v21.39h-1.00zM73.30 760.11h1.00v21.39h-1.00zM83.30 760.11h1.00v21.39h-1.00zM99.30 760.11h1.00v21.39h-1.00zM147.30 760.11h1.00v21.39h-1.00zM178.30 760.11h1.00v21.39h-1.00zM193.30 760.11h1.00v21.39h-1.00zM205.30 760.11h1.00v21.39h-1.00zM253.30 760.11h1.00v21.39h-1.00zM254.30 760.11h1.00v21.39h-1.00zM260.30 760.11h1.00v21.39h-1.00z" fill="#7093f3"/>
<path d="M286.30 695.96h1.00v21.39h-1.00zM266.30 738.73h1.00v21.39h-1.00zM103.30 760.11h1.00v21.39h-1.00zM133.30 760.11h1.00v21.39h-1.00zM150.30 760.11h1.00v21.39h-1.00zM156.30 760.11h1.00v21.39h-1.00zM172.30 760.11h1.00v21.39h-1.00zM181.30 760.11h1.00v21.39h-1.00zM277.30 760.11h1.00v21.39h-1.00zM287.30 760.11h1.00v21.39h-1.00z" fill="#6788ee"/>
<path d="M289.30 695.96h1.00v21.39h-1.00zM297.30 695.96h1.00v21.39h-1.00zM118.30 717.34h1.00v21.39h-1.00zM143.30 717.34h1.00v21.39h-1.00zM166.30 717.34h1.00v21.39h-1.00zM202.30 717.34h1.00v21.39h-1.00zM254.30 717.34h1.00v21.39h-1.00zM161.30 738.73h1.00v21.39h-1.00zM217.30 738.73h1.00v21.39h-1.00zM223.30 738.73h1.00v21.39h-1.00zM246.30 738.73h1.00v21.39h-1.00zM261.30 738.73h1.00v21.39h-1.00zM287.30 738.73h1.00v21.39h-1.00zM185.30 760.11h1.00v21.39h-1.00zM195.30 760.11h1.00v21.39h-1.00zM199.30 760.11h1.00v21.39h-1.00zM239.30 760.11h1.00v21.39h-1.00zM261.30 760.11h1.00v21.39h-1.00zM276.30 760.11h1.00v21.39h-1.00zM280.30 760.11h1.00v21.39h-1.00zM290.30 760.11h1.00v21.39h-1.00zM293.30 760.11h1.00v21.39h-1.00z" fill="#7396f5"/>
<path d="M290.30 695.96h1.00v21.39h-1.00zM70.30 760.11h1.00v21.39h-1.00zM152.30 760.11h1.00v21.39h-1.00zM256.30 760.11h1.00v21.39h-1.00z" fill="#5470de"/>
<path d="M295.30 695.96h1.00v21.39h-1.00zM69.30 760.11h1.00v21.39h-1.00zM85.30 760.11h1.00v21.39h-1.00zM90.30 760.11h1.00v21.39h-1.00zM95.30 760.11h1.00v21.39h-1.00zM128.30 760.11h1.00v21.39h-1.00zM182.30 760.11h1.00v21.39h-1.00zM204.30 760.11h1.00v21.39h-1.00zM207.30 760.11h1.00v21.39h-1.00zM209.30 760.11h1.00v21.39h-1.00zM262.30 760.11h1.00v21.39h-1.00z" fill="#5977e3"/>
<path d="M60.30 717.34h1.00v21.39h-1.00zM122.30 717.34h1.00v21.39h-1.00zM76.30 738.73h1.00v21.39h-1.00zM87.30 738.73h1.00v21.39h-1.00zM89.30 738.73h1.00v21.39h-1.00zM92.30 738.73h1.00v21.39h-1.00z" fill="#b5cdfa"/>
<path d="M85.30 717.34h1.00v21.39h-1.00zM186.30 717.34h1.00v21.39h-1.00zM197.30 717.34h1.00v21.39h-1.00zM205.30 717.34h1.00v21.39h-1.00zM291.30 717.34h1.00v21.39h-1.00zM70.30 738.73h1.00v21.39h-1.00z" fill="#aec9fc"/>
<path d="M244.30 717.34h1.00v21.39h-1.00zM61.30 760.11h1.00v21.39h-1.00zM97.30 760.11h1.00v21.39h-1.00zM109.30 760.11h1.00v21.39h-1.00zM140.30 760.11h1.00v21.39h-1.00zM145.30 760.11h1.00v21.39h-1.00zM206.30 760.11h1.00v21.39h-1.00zM289.30 760.11h1.00v21.39h-1.00z" fill="#5e7de7"/>
<path d="M245.30 717.34h1.00v21.39h-1.00zM60.30 760.11h1.00v21.39h-1.00zM115.30 760.11h1.00v21.39h-1.00zM130.30 760.11h1.00v21.39h-1.00zM257.30 760.11h1.00v21.39h-1.00z" fill="#6282ea"/>
<path d="M139.30 738.73h1.00v21.39h-1.00zM143.30 738.73h1.00v21.39h-1.00zM182.30 738.73h1.00v21.39h-1.00zM226.30 738.73h1.00v21.39h-1.00zM234.30 738.73h1.00v21.39h-1.00zM236.30 738.73h1.00v21.39h-1.00zM242.30 738.73h1.00v21.39h-1.00zM264.30 738.73h1.00v21.39h-1.00zM275.30 738.73h1.00v21.39h-1.00zM155.30 760.11h1.00v21.39h-1.00zM179.30 760.11h1.00v21.39h-1.00zM187.30 760.11h1.00v21.39h-1.00z" fill="#7597f6"/>
<path d="M152.30 738.73h1.00v21.39h-1.00zM216.30 738.73h1.00v21.39h-1.00zM273.30 738.73h1.00v21.39h-1.00zM80.30 760.11h1.00v21.39h-1.00zM121.30 760.11h1.00v21.39h-1.00zM146.30 760.11h1.00v21.39h-1.00zM164.30 760.11h1.00v21.39h-1.00zM198.30 760.11h1.00v21.39h-1.00zM219.30 760.11h1.00v21.39h-1.00zM241.30 760.11h1.00v21.39h-1.00zM247.30 760.11h1.00v21.39h-1.00zM265.30 760.11h1.00v21.39h-1.00z" fill="#6485ec"/>
<path d="M172.30 738.73h1.00v21.39h-1.00zM143.30 760.11h1.00v21.39h-1.00zM194.30 760.11h1.00v21.39h-1.00zM240.30 760.11h1.00v21.39h-1.00zM282.30 760.11h1.00v21.39h-1.00z" fill="#6687ed"/>
<path d="M175.30 738.73h1.00v21.39h-1.00zM181.30 738.73h1.00v21.39h-1.00zM245.30 738.73h1.00v21.39h-1.00zM274.30 738.73h1.00v21.39h-1.00zM284.30 738.73h1.00v21.39h-1.00zM127.30 760.11h1.00v21.39h-1.00zM167.30 760.11h1.00v21.39h-1.00zM168.30 760.11h1.00v21.39h-1.00zM196.30 760.11h1.00v21.39h-1.00zM211.30 760.11h1.00v21.39h-1.00zM237.30 760.11h1.00v21.39h-1.00zM264.30 760.11h1.00v21.39h-1.00z" fill="#6f92f3"/>
<path d="M205.30 738.73h1.00v21.39h-1.00zM244.30 738.73h1.00v21.39h-1.00zM258.30 738.73h1.00v21.39h-1.00zM65.30 760.11h1.00v21.39h-1.00zM68.30 760.11h1.00v21.39h-1.00zM92.30 760.11h1.00v21.39h-1.00zM176.30 760.11h1.00v21.39h-1.00zM190.30 760.11h1.00v21.39h-1.00zM212.30 760.11h1.00v21.39h-1.00zM225.30 760.11h1.00v21.39h-1.00z" fill="#6384eb"/>
<path d="M208.30 738.73h1.00v21.39h-1.00zM88.30 760.11h1.00v21.39h-1.00zM96.30 760.11h1.00v21.39h-1.00zM105.30 760.11h1.00v21.39h-1.00zM159.30 760.11h1.00v21.39h-1.00zM285.30 760.11h1.00v21.39h-1.00z" fill="#5a78e4"/>
<path d="M209.30 738.73h1.00v21.39h-1.00zM222.30 738.73h1.00v21.39h-1.00zM265.30 738.73h1.00v21.39h-1.00zM66.30 760.11h1.00v21.39h-1.00zM71.30 760.11h1.00v21.39h-1.00zM113.30 760.11h1.00v21.39h-1.00zM138.30 760.11h1.00v21.39h-1.00zM139.30 760.11h1.00v21.39h-1.00zM213.30 760.11h1.00v21.39h-1.00zM222.30 760.11h1.00v21.39h-1.00zM223.30 760.11h1.00v21.39h-1.00zM228.30 760.11h1.00v21.39h-1.00zM232.30 760.11h1.00v21.39h-1.00z" fill="#6a8bef"/>
<path d="M255.30 738.73h1.00v21.39h-1.00zM288.30 738.73h1.00v21.39h-1.00zM94.30 760.11h1.00v21.39h-1.00zM149.30 760.11h1.00v21.39h-1.00zM151.30 760.11h1.00v21.39h-1.00zM242.30 760.11h1.00v21.39h-1.00zM251.30 760.11h1.00v21.39h-1.00zM255.30 760.11h1.00v21.39h-1.00zM291.30 760.11h1.00v21.39h-1.00zM295.30 760.11h1.00v21.39h-1.00z" fill="#6b8df0"/>
<path d="M257.30 738.73h1.00v21.39h-1.00zM74.30 760.11h1.00v21.39h-1.00zM75.30 760.11h1.00v21.39h-1.00zM98.30 760.11h1.00v21.39h-1.00zM153.30 760.11h1.00v21.39h-1.00zM166.30 760.11h1.00v21.39h-1.00z" fill="#5875e1"/>
<path d="M259.30 738.73h1.00v21.39h-1.00zM141.30 760.11h1.00v21.39h-1.00zM189.30 760.11h1.00v21.39h-1.00z" fill="#516ddb"/>
<path d="M283.30 738.73h1.00v21.39h-1.00zM100.30 760.11h1.00v21.39h-1.00zM112.30 760.11h1.00v21.39h-1.00zM132.30 760.11h1.00v21.39h-1.00zM160.30 760.11h1.00v21.39h-1.00zM197.30 760.11h1.00v21.39h-1.00z" fill="#5d7ce6"/>
<path d="M62.30 760.11h1.00v21.39h-1.00zM120.30 760.11h1.00v21.39h-1.00zM122.30 760.11h1.00v21.39h-1.00zM162.30 760.11h1.00v21.39h-1.00zM174.30 760.11h1.00v21.39h-1.00zM177.30 760.11h1.00v21.39h-1.00zM188.30 760.11h1.00v21.39h-1.00zM278.30 760.11h1.00v21.39h-1.00zM279.30 760.11h1.00v21.39h-1.00z" fill="#688aef"/>
<path d="M67.30 760.11h1.00v21.39h-1.00zM91.30 760.11h1.00v21.39h-1.00zM104.30 760.11h1.00v21.39h-1.00zM108.30 760.11h1.00v21.39h-1.00zM111.30 760.11h1.00v21.39h-1.00zM158.30 760.11h1.00v21.39h-1.00zM192.30 760.11h1.00v21.39h-1.00zM292.30 760.11h1.00v21.39h-1.00z" fill="#6180e9"/>
<path d="M81.30 760.11h1.00v21.39h-1.00z" fill="#4a63d3"/>
<path d="M82.30 760.11h1.00v21.39h-1.00zM142.30 760.11h1.00v21.39h-1.00z" fill="#506bda"/>
<path d="M86.30 760.11h1.00v21.39h-1.00zM106.30 760.11h1.00v21.39h-1.00z" fill="#5b7ae5"/>
<path d="M87.30 760.11h1.00v21.39h-1.00z" fill="#3f53c6"/>
<path d="M89.30 760.11h1.00v21.39h-1.00zM101.30 760.11h1.00v21.39h-1.00zM116.30 760.11h1.00v21.39h-1.00zM200.30 760.11h1.00v21.39h-1.00z" fill="#5572df"/>
<path d="M102.30 760.11h1.00v21.39h-1.00z" fill="#4257c9"/>
<path d="M114.30 760.11h1.00v21.39h-1.00z" fill="#4055c8"/>
<path d="M117.30 760.11h1.00v21.39h-1.00zM129.30 760.11h1.00v21.39h-1.00zM175.30 760.11h1.00v21.39h-1.00zM217.30 760.11h1.00v21.39h-1.00z" fill="#536edd"/>
<path d="M157.30 760.11h1.00v21.39h-1.00z" fill="#4b64d5"/>
<path d="M161.30 760.11h1.00v21.39h-1.00zM183.30 760.11h1.00v21.39h-1.00zM201.30 760.11h1.00v21.39h-1.00zM235.30 760.11h1.00v21.39h-1.00zM252.30 760.11h1.00v21.39h-1.00z" fill="#4f69d9"/>
<path d="M186.30 760.11h1.00v21.39h-1.00zM236.30 760.11h1.00v21.39h-1.00z" fill="#3b4cc0"/>
<path d="M202.30 760.11h1.00v21.39h-1.00zM288.30 760.11h1.00v21.39h-1.00z" fill="#4e68d8"/>
<path d="M203.30 760.11h1.00v21.39h-1.00zM208.30 760.11h1.00v21.39h-1.00z" fill="#4c66d6"/>
<path d="M218.30 760.11h1.00v21.39h-1.00z" fill="#485fd1"/>
<path d="M234.30 760.11h1.00v21.39h-1.00z" fill="#465ecf"/>
<path d="M438.10 631.80h1.00v21.40h-1.00zM441.10 631.80h1.00v21.40h-1.00z" fill="#d85646"/>
<path d="M439.10 631.80h1.00v21.40h-1.00zM456.10 631.80h1.00v21.40h-1.00zM459.10 631.80h1.00v21.40h-1.00zM475.10 631.80h1.00v21.40h-1.00zM451.10 674.60h1.00v21.40h-1.00z" fill="#df634e"/>
<path d="M440.10 631.80h1.00v21.40h-1.00z" fill="#c0282f"/>
<path d="M442.10 631.80h1.00v21.40h-1.00zM470.10 631.80h1.00v21.40h-1.00zM447.10 674.60h1.00v21.40h-1.00z" fill="#d65244"/>
<path d="M443.10 631.80h1.00v21.40h-1.00z" fill="#b70d28"/>
<path d="M444.10 631.80h1.00v21.40h-1.00zM461.10 631.80h1.00v21.40h-1.00z" fill="#d0473d"/>
<path d="M445.10 631.80h1.00v21.40h-1.00z" fill="#cd423b"/>
<path d="M446.10 631.80h1.00v21.40h-1.00zM496.10 631.80h1.00v21.40h-1.00zM507.10 631.80h1.00v21.40h-1.00z" fill="#de614d"/>
<path d="M447.10 631.80h1.00v21.40h-1.00zM452.10 631.80h1.00v21.40h-1.00zM464.10 631.80h1.00v21.40h-1.00zM487.10 631.80h1.00v21.40h-1.00z" fill="#e26952"/>
<path d="M448.10 631.80h1.00v21.40h-1.00zM509.10 631.80h1.00v21.40h-1.00z" fill="#e8765c"/>
<path d="M449.10 631.80h1.00v21.40h-1.00z" fill="#d95847"/>
<path d="M450.10 631.80h1.00v21.40h-1.00zM478.10 631.80h1.00v21.40h-1.00z" fill="#d75445"/>
<path d="M451.10 631.80h1.00v21.40h-1.00zM457.10 631.80h1.00v21.40h-1.00z" fill="#cf453c"/>
<path d="M453.10 631.80h1.00v21.40h-1.00zM466.10 631.80h1.00v21.40h-1.00zM480.10 631.80h1.00v21.40h-1.00zM485.10 631.80h1.00v21.40h-1.00zM512.10 631.80h1.00v21.40h-1.00zM519.10 631.80h1.00v21.40h-1.00zM450.10 674.60h1.00v21.40h-1.00z" fill="#ee8669"/>
<path d="M454.10 631.80h1.00v21.40h-1.00zM465.10 631.80h1.00v21.40h-1.00zM484.10 631.80h1.00v21.40h-1.00zM518.10 631.80h1.00v21.40h-1.00zM439.10 653.20h1.00v21.40h-1.00z" fill="#e57058"/>
<path d="M455.10 631.80h1.00v21.40h-1.00z" fill="#c12b30"/>
<path d="M458.10 631.80h1.00v21.40h-1.00zM460.10 631.80h1.00v21.40h-1.00zM473.10 631.80h1.00v21.40h-1.00z" fill="#e0654f"/>
<path d="M462.10 631.80h1.00v21.40h-1.00z" fill="#c43032"/>
<path d="M463.10 631.80h1.00v21.40h-1.00z" fill="#d55042"/>
<path d="M467.10 631.80h1.00v21.40h-1.00zM499.10 631.80h1.00v21.40h-1.00zM500.10 631.80h1.00v21.40h-1.00zM447.10 653.20h1.00v21.40h-1.00zM472.10 653.20h1.00v21.40h-1.00zM449.10 674.60h1.00v21.40h-1.00zM462.10 674.60h1.00v21.40h-1.00z" fill="#ef886b"/>
<path d="M468.10 631.80h1.00v21.40h-1.00z" fill="#eb7d62"/>
<path d="M469.10 631.80h1.00v21.40h-1.00zM471.10 631.80h1.00v21.40h-1.00zM472.10 631.80h1.00v21.40h-1.00zM438.10 653.20h1.00v21.40h-1.00z" fill="#e16751"/>
<path d="M474.10 631.80h1.00v21.40h-1.00zM504.10 631.80h1.00v21.40h-1.00z" fill="#e67259"/>
<path d="M476.10 631.80h1.00v21.40h-1.00zM441.10 674.60h1.00v21.40h-1.00z" fill="#e9785d"/>
<path d="M477.10 631.80h1.00v21.40h-1.00zM495.10 631.80h1.00v21.40h-1.00z" fill="#d1493f"/>
<path d="M479.10 631.80h1.00v21.40h-1.00zM523.10 631.80h1.00v21.40h-1.00zM459.10 653.20h1.00v21.40h-1.00z" fill="#ec8165"/>
<path d="M481.10 631.80h1.00v21.40h-1.00zM508.10 631.80h1.00v21.40h-1.00zM489.10 653.20h1.00v21.40h-1.00zM456.10 674.60h1.00v21.40h-1.00z" fill="#ee8468"/>
<path d="M482.10 631.80h1.00v21.40h-1.00zM520.10 631.80h1.00v21.40h-1.00zM455.10 674.60h1.00v21.40h-1.00z" fill="#e97a5f"/>
<path d="M483.10 631.80h1.00v21.40h-1.00zM521.10 631.80h1.00v21.40h-1.00zM522.10 631.80h1.00v21.40h-1.00z" fill="#e36c55"/>
<path d="M486.10 631.80h1.00v21.40h-1.00zM490.10 631.80h1.00v21.40h-1.00zM501.10 631.80h1.00v21.40h-1.00zM445.10 653.20h1.00v21.40h-1.00zM460.10 653.20h1.00v21.40h-1.00zM467.10 653.20h1.00v21.40h-1.00z" fill="#f29072"/>
<path d="M488.10 631.80h1.00v21.40h-1.00zM446.10 674.60h1.00v21.40h-1.00z" fill="#dc5d4a"/>
<path d="M489.10 631.80h1.00v21.40h-1.00z" fill="#dd5f4b"/>
<path d="M491.10 631.80h1.00v21.40h-1.00zM513.10 631.80h1.00v21.40h-1.00zM444.10 674.60h1.00v21.40h-1.00zM476.10 674.60h1.00v21.40h-1.00z" fill="#f08b6e"/>
<path d="M492.10 631.80h1.00v21.40h-1.00zM516.10 631.80h1.00v21.40h-1.00zM452.10 653.20h1.00v21.40h-1.00zM457.10 674.60h1.00v21.40h-1.00z" fill="#f7a688"/>
<path d="M493.10 631.80h1.00v21.40h-1.00zM451.10 653.20h1.00v21.40h-1.00zM495.10 653.20h1.00v21.40h-1.00zM478.10 674.60h1.00v21.40h-1.00zM480.10 674.60h1.00v21.40h-1.00z" fill="#f39475"/>
<path d="M494.10 631.80h1.00v21.40h-1.00zM529.10 631.80h1.00v21.40h-1.00zM471.10 653.20h1.00v21.40h-1.00zM494.10 674.60h1.00v21.40h-1.00zM512.10 674.60h1.00v21.40h-1.00z" fill="#f7ad90"/>
<path d="M497.10 631.80h1.00v21.40h-1.00zM458.10 653.20h1.00v21.40h-1.00zM466.10 674.60h1.00v21.40h-1.00zM486.10 674.60h1.00v21.40h-1.00z" fill="#f39577"/>
<path d="M498.10 631.80h1.00v21.40h-1.00zM525.10 631.80h1.00v21.40h-1.00zM538.10 631.80h1.00v21.40h-1.00zM442.10 653.20h1.00v21.40h-1.00zM443.10 653.20h1.00v21.40h-1.00zM465.10 653.20h1.00v21.40h-1.00zM496.10 653.20h1.00v21.40h-1.00zM454.10 674.60h1.00v21.40h-1.00zM460.10 674.60h1.00v21.40h-1.00z" fill="#f59c7d"/>
<path d="M502.10 631.80h1.00v21.40h-1.00zM514.10 631.80h1.00v21.40h-1.00zM443.10 674.60h1.00v21.40h-1.00z" fill="#e46e56"/>
<path d="M503.10 631.80h1.00v21.40h-1.00zM457.10 653.20h1.00v21.40h-1.00z" fill="#ec7f63"/>
<path d="M505.10 631.80h1.00v21.40h-1.00zM448.10 653.20h1.00v21.40h-1.00zM449.10 653.20h1.00v21.40h-1.00zM439.10 674.60h1.00v21.40h-1.00zM481.10 674.60h1.00v21.40h-1.00zM482.10 674.60h1.00v21.40h-1.00z" fill="#f29274"/>
<path d="M506.10 631.80h1.00v21.40h-1.00zM528.10 631.80h1.00v21.40h-1.00zM438.10 674.60h1.00v21.40h-1.00zM463.10 674.60h1.00v21.40h-1.00z" fill="#f18d6f"/>
<path d="M510.10 631.80h1.00v21.40h-1.00z" fill="#e7745b"/>
<path d="M511.10 631.80h1.00v21.40h-1.00zM517.10 631.80h1.00v21.40h-1.00zM450.10 653.20h1.00v21.40h-1.00zM455.10 653.20h1.00v21.40h-1.00zM469.10 653.20h1.00v21.40h-1.00zM448.10 674.60h1.00v21.40h-1.00zM459.10 674.60h1.00v21.40h-1.00zM464.10 674.60h1.00v21.40h-1.00zM483.10 674.60h1.00v21.40h-1.00zM484.10 674.60h1.00v21.40h-1.00zM489.10 674.60h1.00v21.40h-1.00z" fill="#f5a081"/>
<path d="M515.10 631.80h1.00v21.40h-1.00zM492.10 653.20h1.00v21.40h-1.00z" fill="#f6a283"/>
<path d="M524.10 631.80h1.00v21.40h-1.00zM545.10 631.80h1.00v21.40h-1.00zM497.10 653.20h1.00v21.40h-1.00zM524.10 653.20h1.00v21.40h-1.00zM440.10 674.60h1.00v21.40h-1.00zM465.10 674.60h1.00v21.40h-1.00zM490.10 674.60h1.00v21.40h-1.00z" fill="#f4987a"/>
<path d="M526.10 631.80h1.00v21.40h-1.00zM536.10 631.80h1.00v21.40h-1.00zM477.10 653.20h1.00v21.40h-1.00zM481.10 653.20h1.00v21.40h-1.00zM485.10 653.20h1.00v21.40h-1.00zM520.10 653.20h1.00v21.40h-1.00zM452.10 674.60h1.00v21.40h-1.00zM511.10 674.60h1.00v21.40h-1.00z" fill="#f7b497"/>
<path d="M527.10 631.80h1.00v21.40h-1.00zM453.10 653.20h1.00v21.40h-1.00zM466.10 653.20h1.00v21.40h-1.00zM476.10 653.20h1.00v21.40h-1.00zM486.10 653.20h1.00v21.40h-1.00zM519.10 653.20h1.00v21.40h-1.00zM461.10 674.60h1.00v21.40h-1.00zM442.10 696.00h1.00v21.40h-1.00z" fill="#f7b194"/>
<path d="M530.10 631.80h1.00v21.40h-1.00zM573.10 631.80h1.00v21.40h-1.00zM577.10 631.80h1.00v21.40h-1.00zM536.10 653.20h1.00v21.40h-1.00zM523.10 674.60h1.00v21.40h-1.00zM552.10 674.60h1.00v21.40h-1.00zM471.10 696.00h1.00v21.40h-1.00zM447.10 717.40h1.00v21.40h-1.00z" fill="#efcfbf"/>
<path d="M531.10 631.80h1.00v21.40h-1.00zM535.10 631.80h1.00v21.40h-1.00zM539.10 631.80h1.00v21.40h-1.00zM554.10 631.80h1.00v21.40h-1.00zM506.10 674.60h1.00v21.40h-1.00zM509.10 674.60h1.00v21.40h-1.00z" fill="#f7b99e"/>
<path d="M532.10 631.80h1.00v21.40h-1.00zM534.10 653.20h1.00v21.40h-1.00zM499.10 674.60h1.00v21.40h-1.00zM503.10 674.60h1.00v21.40h-1.00z" fill="#f7ba9f"/>
<path d="M533.10 631.80h1.00v21.40h-1.00zM547.10 631.80h1.00v21.40h-1.00zM464.10 653.20h1.00v21.40h-1.00zM488.10 653.20h1.00v21.40h-1.00zM491.10 653.20h1.00v21.40h-1.00zM479.10 674.60h1.00v21.40h-1.00z" fill="#f7af91"/>
<path d="M534.10 631.80h1.00v21.40h-1.00zM502.10 653.20h1.00v21.40h-1.00zM471.10 674.60h1.00v21.40h-1.00zM508.10 674.60h1.00v21.40h-1.00zM439.10 696.00h1.00v21.40h-1.00z" fill="#f7b79b"/>
<path d="M537.10 631.80h1.00v21.40h-1.00zM494.10 653.20h1.00v21.40h-1.00zM472.10 674.60h1.00v21.40h-1.00z" fill="#f59d7e"/>
<path d="M540.10 631.80h1.00v21.40h-1.00zM516.10 674.60h1.00v21.40h-1.00zM530.10 674.60h1.00v21.40h-1.00zM451.10 696.00h1.00v21.40h-1.00z" fill="#f6bda2"/>
<path d="M541.10 631.80h1.00v21.40h-1.00zM544.10 631.80h1.00v21.40h-1.00zM482.10 653.20h1.00v21.40h-1.00zM501.10 653.20h1.00v21.40h-1.00zM529.10 674.60h1.00v21.40h-1.00zM445.10 717.40h1.00v21.40h-1.00z" fill="#f6bfa6"/>
<path d="M542.10 631.80h1.00v21.40h-1.00zM546.10 631.80h1.00v21.40h-1.00zM559.10 631.80h1.00v21.40h-1.00zM484.10 653.20h1.00v21.40h-1.00zM505.10 653.20h1.00v21.40h-1.00zM518.10 653.20h1.00v21.40h-1.00zM567.10 653.20h1.00v21.40h-1.00zM539.10 674.60h1.00v21.40h-1.00z" fill="#f6bea4"/>
<path d="M543.10 631.80h1.00v21.40h-1.00zM542.10 653.20h1.00v21.40h-1.00zM504.10 674.60h1.00v21.40h-1.00zM507.10 674.60h1.00v21.40h-1.00zM524.10 674.60h1.00v21.40h-1.00zM535.10 674.60h1.00v21.40h-1.00zM448.10 696.00h1.00v21.40h-1.00z" fill="#f7bca1"/>
<path d="M548.10 631.80h1.00v21.40h-1.00zM556.10 631.80h1.00v21.40h-1.00zM454.10 696.00h1.00v21.40h-1.00zM455.10 696.00h1.00v21.40h-1.00zM477.10 717.40h1.00v21.40h-1.00zM487.10 717.40h1.00v21.40h-1.00z" fill="#ead4c8"/>
<path d="M549.10 631.80h1.00v21.40h-1.00zM554.10 653.20h1.00v21.40h-1.00zM519.10 674.60h1.00v21.40h-1.00zM446.10 696.00h1.00v21.40h-1.00zM483.10 696.00h1.00v21.40h-1.00zM531.10 696.00h1.00v21.40h-1.00zM452.10 717.40h1.00v21.40h-1.00zM475.10 717.40h1.00v21.40h-1.00z" fill="#e6d7cf"/>
<path d="M550.10 631.80h1.00v21.40h-1.00zM575.10 631.80h1.00v21.40h-1.00zM477.10 696.00h1.00v21.40h-1.00zM486.10 696.00h1.00v21.40h-1.00zM487.10 696.00h1.00v21.40h-1.00zM471.10 717.40h1.00v21.40h-1.00z" fill="#edd2c3"/>
<path d="M551.10 631.80h1.00v21.40h-1.00zM517.10 653.20h1.00v21.40h-1.00zM533.10 653.20h1.00v21.40h-1.00zM457.10 696.00h1.00v21.40h-1.00zM484.10 717.40h1.00v21.40h-1.00zM485.10 717.40h1.00v21.40h-1.00z" fill="#f2c9b4"/>
<path d="M552.10 631.80h1.00v21.40h-1.00zM563.10 631.80h1.00v21.40h-1.00zM530.10 653.20h1.00v21.40h-1.00zM562.10 653.20h1.00v21.40h-1.00zM576.10 653.20h1.00v21.40h-1.00zM490.10 717.40h1.00v21.40h-1.00zM493.10 717.40h1.00v21.40h-1.00z" fill="#e5d8d1"/>
<path d="M553.10 631.80h1.00v21.40h-1.00zM511.10 653.20h1.00v21.40h-1.00zM527.10 653.20h1.00v21.40h-1.00zM538.10 674.60h1.00v21.40h-1.00z" fill="#f4c5ad"/>
<path d="M555.10 631.80h1.00v21.40h-1.00zM480.10 653.20h1.00v21.40h-1.00zM525.10 653.20h1.00v21.40h-1.00zM467.10 674.60h1.00v21.40h-1.00zM470.10 674.60h1.00v21.40h-1.00zM492.10 674.60h1.00v21.40h-1.00zM496.10 674.60h1.00v21.40h-1.00z" fill="#f7a98b"/>
<path d="M557.10 631.80h1.00v21.40h-1.00zM500.10 653.20h1.00v21.40h-1.00zM566.10 653.20h1.00v21.40h-1.00zM568.10 653.20h1.00v21.40h-1.00zM446.10 717.40h1.00v21.40h-1.00z" fill="#f1cdba"/>
<path d="M558.10 631.80h1.00v21.40h-1.00zM526.10 653.20h1.00v21.40h-1.00zM514.10 674.60h1.00v21.40h-1.00zM518.10 674.60h1.00v21.40h-1.00zM528.10 674.60h1.00v21.40h-1.00zM547.10 674.60h1.00v21.40h-1.00zM548.10 674.60h1.00v21.40h-1.00zM579.10 674.60h1.00v21.40h-1.00zM443.10 696.00h1.00v21.40h-1.00zM449.10 717.40h1.00v21.40h-1.00zM455.10 717.40h1.00v21.40h-1.00zM465.10 717.40h1.00v21.40h-1.00zM466.10 717.40h1.00v21.40h-1.00z" fill="#f1ccb8"/>
<path d="M560.10 631.80h1.00v21.40h-1.00zM541.10 653.20h1.00v21.40h-1.00zM565.10 653.20h1.00v21.40h-1.00zM505.10 674.60h1.00v21.40h-1.00zM534.10 674.60h1.00v21.40h-1.00zM551.10 674.60h1.00v21.40h-1.00zM460.10 717.40h1.00v21.40h-1.00z" fill="#f3c7b1"/>
<path d="M561.10 631.80h1.00v21.40h-1.00zM504.10 653.20h1.00v21.40h-1.00zM516.10 653.20h1.00v21.40h-1.00zM522.10 674.60h1.00v21.40h-1.00zM578.10 674.60h1.00v21.40h-1.00z" fill="#efcebd"/>
<path d="M562.10 631.80h1.00v21.40h-1.00zM602.10 631.80h1.00v21.40h-1.00zM610.10 631.80h1.00v21.40h-1.00zM594.10 653.20h1.00v21.40h-1.00zM554.10 696.00h1.00v21.40h-1.00zM575.10 696.00h1.00v21.40h-1.00zM478.10 717.40h1.00v21.40h-1.00zM533.10 717.40h1.00v21.40h-1.00z" fill="#d1dae9"/>
<path d="M564.10 631.80h1.00v21.40h-1.00zM580.10 631.80h1.00v21.40h-1.00zM556.10 653.20h1.00v21.40h-1.00zM526.10 674.60h1.00v21.40h-1.00zM549.10 674.60h1.00v21.40h-1.00zM553.10 674.60h1.00v21.40h-1.00zM450.10 696.00h1.00v21.40h-1.00zM467.10 696.00h1.00v21.40h-1.00zM470.10 696.00h1.00v21.40h-1.00zM457.10 717.40h1.00v21.40h-1.00zM474.10 717.40h1.00v21.40h-1.00zM500.10 717.40h1.00v21.40h-1.00z" fill="#e7d7ce"/>
<path d="M565.10 631.80h1.00v21.40h-1.00zM582.10 631.80h1.00v21.40h-1.00zM544.10 653.20h1.00v21.40h-1.00zM590.10 653.20h1.00v21.40h-1.00zM463.10 696.00h1.00v21.40h-1.00zM462.10 717.40h1.00v21.40h-1.00zM497.10 717.40h1.00v21.40h-1.00zM528.10 717.40h1.00v21.40h-1.00z" fill="#e0dbd8"/>
<path d="M566.10 631.80h1.00v21.40h-1.00zM561.10 653.20h1.00v21.40h-1.00zM608.10 653.20h1.00v21.40h-1.00zM566.10 696.00h1.00v21.40h-1.00zM507.10 717.40h1.00v21.40h-1.00zM525.10 717.40h1.00v21.40h-1.00zM526.10 717.40h1.00v21.40h-1.00zM572.10 717.40h1.00v21.40h-1.00z" fill="#cfdaea"/>
<path d="M567.10 631.80h1.00v21.40h-1.00zM583.10 631.80h1.00v21.40h-1.00zM545.10 653.20h1.00v21.40h-1.00zM548.10 653.20h1.00v21.40h-1.00zM572.10 653.20h1.00v21.40h-1.00zM546.10 674.60h1.00v21.40h-1.00zM562.10 674.60h1.00v21.40h-1.00zM574.10 674.60h1.00v21.40h-1.00zM599.10 674.60h1.00v21.40h-1.00zM459.10 696.00h1.00v21.40h-1.00zM460.10 696.00h1.00v21.40h-1.00zM492.10 717.40h1.00v21.40h-1.00zM504.10 717.40h1.00v21.40h-1.00z" fill="#dcdddd"/>
<path d="M568.10 631.80h1.00v21.40h-1.00zM564.10 653.20h1.00v21.40h-1.00zM571.10 653.20h1.00v21.40h-1.00zM545.10 674.60h1.00v21.40h-1.00zM458.10 696.00h1.00v21.40h-1.00zM499.10 696.00h1.00v21.40h-1.00zM529.10 696.00h1.00v21.40h-1.00zM479.10 717.40h1.00v21.40h-1.00zM495.10 717.40h1.00v21.40h-1.00z" fill="#e2dad5"/>
<path d="M569.10 631.80h1.00v21.40h-1.00zM578.10 631.80h1.00v21.40h-1.00zM540.10 653.20h1.00v21.40h-1.00zM558.10 674.60h1.00v21.40h-1.00zM458.10 717.40h1.00v21.40h-1.00zM459.10 717.40h1.00v21.40h-1.00zM464.10 717.40h1.00v21.40h-1.00zM473.10 717.40h1.00v21.40h-1.00zM515.10 717.40h1.00v21.40h-1.00z" fill="#ead5c9"/>
<path d="M570.10 631.80h1.00v21.40h-1.00zM575.10 653.20h1.00v21.40h-1.00zM533.10 674.60h1.00v21.40h-1.00zM542.10 674.60h1.00v21.40h-1.00zM577.10 674.60h1.00v21.40h-1.00zM453.10 696.00h1.00v21.40h-1.00zM461.10 696.00h1.00v21.40h-1.00zM494.10 696.00h1.00v21.40h-1.00zM506.10 717.40h1.00v21.40h-1.00z" fill="#ebd3c6"/>
<path d="M571.10 631.80h1.00v21.40h-1.00zM603.10 631.80h1.00v21.40h-1.00zM538.10 653.20h1.00v21.40h-1.00zM551.10 653.20h1.00v21.40h-1.00zM557.10 653.20h1.00v21.40h-1.00zM559.10 653.20h1.00v21.40h-1.00zM585.10 674.60h1.00v21.40h-1.00zM478.10 696.00h1.00v21.40h-1.00zM491.10 696.00h1.00v21.40h-1.00zM530.10 696.00h1.00v21.40h-1.00zM456.10 717.40h1.00v21.40h-1.00z" fill="#dedcdb"/>
<path d="M572.10 631.80h1.00v21.40h-1.00zM579.10 631.80h1.00v21.40h-1.00zM589.10 631.80h1.00v21.40h-1.00zM537.10 653.20h1.00v21.40h-1.00zM550.10 674.60h1.00v21.40h-1.00zM468.10 696.00h1.00v21.40h-1.00zM439.10 717.40h1.00v21.40h-1.00zM444.10 717.40h1.00v21.40h-1.00zM450.10 717.40h1.00v21.40h-1.00zM461.10 717.40h1.00v21.40h-1.00z" fill="#e9d5cb"/>
<path d="M574.10 631.80h1.00v21.40h-1.00zM515.10 653.20h1.00v21.40h-1.00zM532.10 674.60h1.00v21.40h-1.00zM541.10 674.60h1.00v21.40h-1.00zM449.10 696.00h1.00v21.40h-1.00zM442.10 717.40h1.00v21.40h-1.00zM480.10 717.40h1.00v21.40h-1.00z" fill="#f0cdbb"/>
<path d="M576.10 631.80h1.00v21.40h-1.00zM535.10 653.20h1.00v21.40h-1.00zM543.10 674.60h1.00v21.40h-1.00zM469.10 696.00h1.00v21.40h-1.00zM485.10 696.00h1.00v21.40h-1.00zM448.10 717.40h1.00v21.40h-1.00zM501.10 717.40h1.00v21.40h-1.00zM516.10 717.40h1.00v21.40h-1.00z" fill="#ecd3c5"/>
<path d="M581.10 631.80h1.00v21.40h-1.00zM510.10 653.20h1.00v21.40h-1.00zM547.10 653.20h1.00v21.40h-1.00zM495.10 674.60h1.00v21.40h-1.00zM520.10 674.60h1.00v21.40h-1.00zM525.10 674.60h1.00v21.40h-1.00zM462.10 696.00h1.00v21.40h-1.00zM472.10 717.40h1.00v21.40h-1.00z" fill="#f2cbb7"/>
<path d="M584.10 631.80h1.00v21.40h-1.00zM560.10 653.20h1.00v21.40h-1.00zM537.10 674.60h1.00v21.40h-1.00zM571.10 674.60h1.00v21.40h-1.00zM479.10 696.00h1.00v21.40h-1.00zM498.10 696.00h1.00v21.40h-1.00zM522.10 696.00h1.00v21.40h-1.00zM499.10 717.40h1.00v21.40h-1.00zM513.10 717.40h1.00v21.40h-1.00zM531.10 717.40h1.00v21.40h-1.00zM538.10 717.40h1.00v21.40h-1.00z" fill="#d4dbe6"/>
<path d="M585.10 631.80h1.00v21.40h-1.00zM600.10 631.80h1.00v21.40h-1.00zM601.10 631.80h1.00v21.40h-1.00zM574.10 653.20h1.00v21.40h-1.00zM567.10 674.60h1.00v21.40h-1.00zM605.10 674.60h1.00v21.40h-1.00zM539.10 696.00h1.00v21.40h-1.00zM567.10 696.00h1.00v21.40h-1.00zM529.10 717.40h1.00v21.40h-1.00zM541.10 717.40h1.00v21.40h-1.00z" fill="#cdd9ec"/>
<path d="M586.10 631.80h1.00v21.40h-1.00zM606.10 631.80h1.00v21.40h-1.00zM633.10 631.80h1.00v21.40h-1.00zM543.10 696.00h1.00v21.40h-1.00zM546.10 696.00h1.00v21.40h-1.00zM564.10 696.00h1.00v21.40h-1.00zM552.10 717.40h1.00v21.40h-1.00z" fill="#c5d6f2"/>
<path d="M587.10 631.80h1.00v21.40h-1.00zM596.10 653.20h1.00v21.40h-1.00zM611.10 653.20h1.00v21.40h-1.00zM564.10 674.60h1.00v21.40h-1.00zM591.10 674.60h1.00v21.40h-1.00zM504.10 696.00h1.00v21.40h-1.00z" fill="#cad8ef"/>
<path d="M588.10 631.80h1.00v21.40h-1.00zM597.10 631.80h1.00v21.40h-1.00zM605.10 631.80h1.00v21.40h-1.00zM563.10 653.20h1.00v21.40h-1.00zM540.10 674.60h1.00v21.40h-1.00zM472.10 696.00h1.00v21.40h-1.00zM489.10 717.40h1.00v21.40h-1.00z" fill="#dddcdc"/>
<path d="M590.10 631.80h1.00v21.40h-1.00zM552.10 653.20h1.00v21.40h-1.00zM544.10 674.60h1.00v21.40h-1.00zM569.10 674.60h1.00v21.40h-1.00zM506.10 696.00h1.00v21.40h-1.00zM523.10 696.00h1.00v21.40h-1.00zM486.10 717.40h1.00v21.40h-1.00zM491.10 717.40h1.00v21.40h-1.00zM527.10 717.40h1.00v21.40h-1.00z" fill="#dfdbd9"/>
<path d="M591.10 631.80h1.00v21.40h-1.00zM522.10 653.20h1.00v21.40h-1.00zM532.10 653.20h1.00v21.40h-1.00zM521.10 674.60h1.00v21.40h-1.00zM464.10 696.00h1.00v21.40h-1.00zM465.10 696.00h1.00v21.40h-1.00zM473.10 696.00h1.00v21.40h-1.00zM474.10 696.00h1.00v21.40h-1.00zM493.10 696.00h1.00v21.40h-1.00zM443.10 717.40h1.00v21.40h-1.00z" fill="#e8d6cc"/>
<path d="M592.10 631.80h1.00v21.40h-1.00zM594.10 631.80h1.00v21.40h-1.00zM608.10 631.80h1.00v21.40h-1.00zM553.10 653.20h1.00v21.40h-1.00zM573.10 653.20h1.00v21.40h-1.00zM597.10 653.20h1.00v21.40h-1.00zM536.10 674.60h1.00v21.40h-1.00zM490.10 696.00h1.00v21.40h-1.00zM524.10 696.00h1.00v21.40h-1.00zM542.10 696.00h1.00v21.40h-1.00zM496.10 717.40h1.00v21.40h-1.00zM521.10 717.40h1.00v21.40h-1.00zM537.10 717.40h1.00v21.40h-1.00z" fill="#d8dce2"/>
<path d="M593.10 631.80h1.00v21.40h-1.00zM611.10 631.80h1.00v21.40h-1.00zM531.10 653.20h1.00v21.40h-1.00zM576.10 674.60h1.00v21.40h-1.00zM497.10 696.00h1.00v21.40h-1.00zM523.10 717.40h1.00v21.40h-1.00zM566.10 717.40h1.00v21.40h-1.00z" fill="#d9dce1"/>
<path d="M595.10 631.80h1.00v21.40h-1.00zM610.10 653.20h1.00v21.40h-1.00zM586.10 674.60h1.00v21.40h-1.00zM592.10 674.60h1.00v21.40h-1.00zM480.10 696.00h1.00v21.40h-1.00zM505.10 696.00h1.00v21.40h-1.00zM535.10 696.00h1.00v21.40h-1.00zM545.10 696.00h1.00v21.40h-1.00zM522.10 717.40h1.00v21.40h-1.00zM547.10 717.40h1.00v21.40h-1.00zM558.10 717.40h1.00v21.40h-1.00z" fill="#cedaeb"/>
<path d="M596.10 631.80h1.00v21.40h-1.00zM577.10 653.20h1.00v21.40h-1.00zM591.10 653.20h1.00v21.40h-1.00zM603.10 653.20h1.00v21.40h-1.00zM488.10 696.00h1.00v21.40h-1.00zM541.10 696.00h1.00v21.40h-1.00zM581.10 717.40h1.00v21.40h-1.00z" fill="#c7d7f0"/>
<path d="M598.10 631.80h1.00v21.40h-1.00zM609.10 653.20h1.00v21.40h-1.00zM565.10 674.60h1.00v21.40h-1.00zM568.10 674.60h1.00v21.40h-1.00zM581.10 674.60h1.00v21.40h-1.00zM620.10 674.60h1.00v21.40h-1.00zM521.10 696.00h1.00v21.40h-1.00zM528.10 696.00h1.00v21.40h-1.00zM537.10 696.00h1.00v21.40h-1.00zM544.10 696.00h1.00v21.40h-1.00zM514.10 717.40h1.00v21.40h-1.00z" fill="#cbd8ee"/>
<path d="M599.10 631.80h1.00v21.40h-1.00zM523.10 653.20h1.00v21.40h-1.00zM583.10 674.60h1.00v21.40h-1.00zM482.10 696.00h1.00v21.40h-1.00zM500.10 696.00h1.00v21.40h-1.00zM505.10 717.40h1.00v21.40h-1.00z" fill="#e3d9d3"/>
<path d="M604.10 631.80h1.00v21.40h-1.00zM555.10 674.60h1.00v21.40h-1.00zM476.10 696.00h1.00v21.40h-1.00zM481.10 696.00h1.00v21.40h-1.00zM451.10 717.40h1.00v21.40h-1.00zM469.10 717.40h1.00v21.40h-1.00zM488.10 717.40h1.00v21.40h-1.00z" fill="#d7dce3"/>
<path d="M607.10 631.80h1.00v21.40h-1.00zM594.10 674.60h1.00v21.40h-1.00zM532.10 696.00h1.00v21.40h-1.00zM536.10 717.40h1.00v21.40h-1.00zM565.10 717.40h1.00v21.40h-1.00zM576.10 717.40h1.00v21.40h-1.00z" fill="#bed2f6"/>
<path d="M609.10 631.80h1.00v21.40h-1.00zM570.10 653.20h1.00v21.40h-1.00zM515.10 696.00h1.00v21.40h-1.00zM561.10 696.00h1.00v21.40h-1.00z" fill="#c0d4f5"/>
<path d="M612.10 631.80h1.00v21.40h-1.00zM563.10 674.60h1.00v21.40h-1.00zM570.10 696.00h1.00v21.40h-1.00zM546.10 717.40h1.00v21.40h-1.00zM584.10 717.40h1.00v21.40h-1.00z" fill="#bcd2f7"/>
<path d="M613.10 631.80h1.00v21.40h-1.00zM628.10 631.80h1.00v21.40h-1.00zM584.10 653.20h1.00v21.40h-1.00zM540.10 696.00h1.00v21.40h-1.00zM547.10 696.00h1.00v21.40h-1.00zM560.10 696.00h1.00v21.40h-1.00zM545.10 717.40h1.00v21.40h-1.00zM550.10 717.40h1.00v21.40h-1.00zM551.10 717.40h1.00v21.40h-1.00zM560.10 717.40h1.00v21.40h-1.00zM617.10 717.40h1.00v21.40h-1.00z" fill="#b9d0f9"/>
<path d="M614.10 631.80h1.00v21.40h-1.00zM632.10 631.80h1.00v21.40h-1.00zM616.10 674.60h1.00v21.40h-1.00zM618.10 674.60h1.00v21.40h-1.00zM563.10 696.00h1.00v21.40h-1.00zM573.10 717.40h1.00v21.40h-1.00zM595.10 717.40h1.00v21.40h-1.00z" fill="#b6cefa"/>
<path d="M615.10 631.80h1.00v21.40h-1.00zM620.10 631.80h1.00v21.40h-1.00zM636.10 631.80h1.00v21.40h-1.00zM605.10 653.20h1.00v21.40h-1.00zM637.10 653.20h1.00v21.40h-1.00zM585.10 696.00h1.00v21.40h-1.00zM543.10 717.40h1.00v21.40h-1.00zM569.10 717.40h1.00v21.40h-1.00zM447.10 738.80h1.00v21.40h-1.00zM492.10 738.80h1.00v21.40h-1.00z" fill="#b1cbfc"/>
<path d="M616.10 631.80h1.00v21.40h-1.00zM617.10 631.80h1.00v21.40h-1.00zM626.10 674.60h1.00v21.40h-1.00zM533.10 696.00h1.00v21.40h-1.00zM549.10 696.00h1.00v21.40h-1.00zM565.10 696.00h1.00v21.40h-1.00zM572.10 696.00h1.00v21.40h-1.00zM502.10 717.40h1.00v21.40h-1.00zM548.10 717.40h1.00v21.40h-1.00zM448.10 738.80h1.00v21.40h-1.00zM469.10 738.80h1.00v21.40h-1.00z" fill="#bbd1f8"/>
<path d="M618.10 631.80h1.00v21.40h-1.00zM587.10 653.20h1.00v21.40h-1.00zM588.10 653.20h1.00v21.40h-1.00zM508.10 696.00h1.00v21.40h-1.00zM514.10 696.00h1.00v21.40h-1.00zM530.10 717.40h1.00v21.40h-1.00z" fill="#c9d7f0"/>
<path d="M619.10 631.80h1.00v21.40h-1.00zM637.10 631.80h1.00v21.40h-1.00zM600.10 653.20h1.00v21.40h-1.00zM615.10 653.20h1.00v21.40h-1.00zM625.10 653.20h1.00v21.40h-1.00zM636.10 653.20h1.00v21.40h-1.00zM649.10 653.20h1.00v21.40h-1.00zM625.10 674.60h1.00v21.40h-1.00zM639.10 674.60h1.00v21.40h-1.00zM653.10 696.00h1.00v21.40h-1.00zM567.10 717.40h1.00v21.40h-1.00zM596.10 717.40h1.00v21.40h-1.00zM611.10 717.40h1.00v21.40h-1.00z" fill="#adc9fd"/>
<path d="M621.10 631.80h1.00v21.40h-1.00zM629.10 631.80h1.00v21.40h-1.00zM634.10 631.80h1.00v21.40h-1.00zM658.10 653.20h1.00v21.40h-1.00zM585.10 717.40h1.00v21.40h-1.00zM618.10 717.40h1.00v21.40h-1.00zM442.10 738.80h1.00v21.40h-1.00zM471.10 738.80h1.00v21.40h-1.00z" fill="#aec9fc"/>
<path d="M622.10 631.80h1.00v21.40h-1.00zM631.10 674.60h1.00v21.40h-1.00zM643.10 674.60h1.00v21.40h-1.00zM569.10 696.00h1.00v21.40h-1.00zM608.10 696.00h1.00v21.40h-1.00zM564.10 717.40h1.00v21.40h-1.00zM570.10 717.40h1.00v21.40h-1.00zM575.10 717.40h1.00v21.40h-1.00zM454.10 738.80h1.00v21.40h-1.00zM456.10 738.80h1.00v21.40h-1.00zM458.10 738.80h1.00v21.40h-1.00zM482.10 738.80h1.00v21.40h-1.00z" fill="#a2c1ff"/>
<path d="M623.10 631.80h1.00v21.40h-1.00zM620.10 653.20h1.00v21.40h-1.00zM624.10 653.20h1.00v21.40h-1.00zM626.10 653.20h1.00v21.40h-1.00zM628.10 653.20h1.00v21.40h-1.00zM607.10 674.60h1.00v21.40h-1.00zM559.10 696.00h1.00v21.40h-1.00zM641.10 696.00h1.00v21.40h-1.00zM589.10 717.40h1.00v21.40h-1.00z" fill="#a9c6fd"/>
<path d="M624.10 631.80h1.00v21.40h-1.00zM580.10 653.20h1.00v21.40h-1.00zM580.10 674.60h1.00v21.40h-1.00zM601.10 674.60h1.00v21.40h-1.00zM612.10 674.60h1.00v21.40h-1.00zM513.10 696.00h1.00v21.40h-1.00zM534.10 696.00h1.00v21.40h-1.00zM551.10 696.00h1.00v21.40h-1.00zM503.10 717.40h1.00v21.40h-1.00zM510.10 717.40h1.00v21.40h-1.00zM539.10 717.40h1.00v21.40h-1.00z" fill="#c1d4f4"/>
<path d="M625.10 631.80h1.00v21.40h-1.00zM641.10 631.80h1.00v21.40h-1.00zM645.10 631.80h1.00v21.40h-1.00zM619.10 653.20h1.00v21.40h-1.00zM633.10 653.20h1.00v21.40h-1.00zM614.10 674.60h1.00v21.40h-1.00zM511.10 717.40h1.00v21.40h-1.00zM579.10 717.40h1.00v21.40h-1.00z" fill="#a7c5fe"/>
<path d="M626.10 631.80h1.00v21.40h-1.00zM655.10 631.80h1.00v21.40h-1.00zM607.10 653.20h1.00v21.40h-1.00zM613.10 653.20h1.00v21.40h-1.00zM629.10 674.60h1.00v21.40h-1.00zM588.10 696.00h1.00v21.40h-1.00zM614.10 696.00h1.00v21.40h-1.00zM571.10 717.40h1.00v21.40h-1.00zM601.10 717.40h1.00v21.40h-1.00zM613.10 717.40h1.00v21.40h-1.00zM658.10 717.40h1.00v21.40h-1.00zM464.10 738.80h1.00v21.40h-1.00zM472.10 738.80h1.00v21.40h-1.00zM542.10 738.80h1.00v21.40h-1.00z" fill="#9ebeff"/>
<path d="M627.10 631.80h1.00v21.40h-1.00zM614.10 653.20h1.00v21.40h-1.00zM632.10 674.60h1.00v21.40h-1.00zM644.10 674.60h1.00v21.40h-1.00zM655.10 674.60h1.00v21.40h-1.00zM558.10 696.00h1.00v21.40h-1.00zM605.10 696.00h1.00v21.40h-1.00zM624.10 696.00h1.00v21.40h-1.00zM563.10 717.40h1.00v21.40h-1.00zM622.10 717.40h1.00v21.40h-1.00zM623.10 717.40h1.00v21.40h-1.00zM485.10 738.80h1.00v21.40h-1.00zM505.10 738.80h1.00v21.40h-1.00zM557.10 738.80h1.00v21.40h-1.00z" fill="#a3c2fe"/>
<path d="M630.10 631.80h1.00v21.40h-1.00zM638.10 631.80h1.00v21.40h-1.00zM629.10 653.20h1.00v21.40h-1.00zM573.10 696.00h1.00v21.40h-1.00zM598.10 696.00h1.00v21.40h-1.00zM651.10 696.00h1.00v21.40h-1.00zM580.10 717.40h1.00v21.40h-1.00zM604.10 717.40h1.00v21.40h-1.00zM478.10 738.80h1.00v21.40h-1.00zM487.10 738.80h1.00v21.40h-1.00z" fill="#aac7fd"/>
<path d="M631.10 631.80h1.00v21.40h-1.00zM586.10 653.20h1.00v21.40h-1.00zM592.10 653.20h1.00v21.40h-1.00zM593.10 653.20h1.00v21.40h-1.00zM587.10 674.60h1.00v21.40h-1.00zM622.10 674.60h1.00v21.40h-1.00zM548.10 696.00h1.00v21.40h-1.00zM483.10 717.40h1.00v21.40h-1.00zM540.10 717.40h1.00v21.40h-1.00zM554.10 717.40h1.00v21.40h-1.00zM555.10 717.40h1.00v21.40h-1.00zM557.10 717.40h1.00v21.40h-1.00zM562.10 717.40h1.00v21.40h-1.00zM586.10 717.40h1.00v21.40h-1.00z" fill="#c3d5f4"/>
<path d="M635.10 631.80h1.00v21.40h-1.00zM635.10 653.20h1.00v21.40h-1.00zM641.10 674.60h1.00v21.40h-1.00zM552.10 696.00h1.00v21.40h-1.00zM601.10 696.00h1.00v21.40h-1.00zM512.10 717.40h1.00v21.40h-1.00zM597.10 717.40h1.00v21.40h-1.00zM645.10 717.40h1.00v21.40h-1.00zM444.10 738.80h1.00v21.40h-1.00zM502.10 738.80h1.00v21.40h-1.00z" fill="#abc8fd"/>
<path d="M639.10 631.80h1.00v21.40h-1.00zM608.10 674.60h1.00v21.40h-1.00zM557.10 696.00h1.00v21.40h-1.00zM586.10 696.00h1.00v21.40h-1.00zM623.10 696.00h1.00v21.40h-1.00zM591.10 717.40h1.00v21.40h-1.00zM636.10 717.40h1.00v21.40h-1.00zM500.10 738.80h1.00v21.40h-1.00zM506.10 738.80h1.00v21.40h-1.00zM536.10 738.80h1.00v21.40h-1.00z" fill="#9bbcff"/>
<path d="M640.10 631.80h1.00v21.40h-1.00zM619.10 674.60h1.00v21.40h-1.00zM634.10 674.60h1.00v21.40h-1.00zM637.10 674.60h1.00v21.40h-1.00zM640.10 696.00h1.00v21.40h-1.00zM593.10 717.40h1.00v21.40h-1.00zM599.10 717.40h1.00v21.40h-1.00zM644.10 717.40h1.00v21.40h-1.00zM466.10 738.80h1.00v21.40h-1.00zM477.10 738.80h1.00v21.40h-1.00zM486.10 738.80h1.00v21.40h-1.00zM516.10 738.80h1.00v21.40h-1.00zM523.10 738.80h1.00v21.40h-1.00z" fill="#9fbfff"/>
<path d="M642.10 631.80h1.00v21.40h-1.00zM582.10 674.60h1.00v21.40h-1.00zM590.10 674.60h1.00v21.40h-1.00zM615.10 674.60h1.00v21.40h-1.00zM621.10 674.60h1.00v21.40h-1.00zM536.10 696.00h1.00v21.40h-1.00zM550.10 696.00h1.00v21.40h-1.00zM555.10 696.00h1.00v21.40h-1.00zM553.10 717.40h1.00v21.40h-1.00zM556.10 717.40h1.00v21.40h-1.00zM561.10 717.40h1.00v21.40h-1.00zM602.10 717.40h1.00v21.40h-1.00zM605.10 717.40h1.00v21.40h-1.00zM612.10 717.40h1.00v21.40h-1.00zM504.10 738.80h1.00v21.40h-1.00z" fill="#b7cff9"/>
<path d="M643.10 631.80h1.00v21.40h-1.00zM593.10 674.60h1.00v21.40h-1.00zM574.10 696.00h1.00v21.40h-1.00zM580.10 696.00h1.00v21.40h-1.00zM584.10 696.00h1.00v21.40h-1.00zM603.10 696.00h1.00v21.40h-1.00zM577.10 717.40h1.00v21.40h-1.00zM616.10 717.40h1.00v21.40h-1.00zM467.10 738.80h1.00v21.40h-1.00zM493.10 738.80h1.00v21.40h-1.00z" fill="#b5cdfa"/>
<path d="M644.10 631.80h1.00v21.40h-1.00zM617.10 674.60h1.00v21.40h-1.00zM510.10 696.00h1.00v21.40h-1.00zM535.10 717.40h1.00v21.40h-1.00zM544.10 717.40h1.00v21.40h-1.00zM578.10 717.40h1.00v21.40h-1.00zM583.10 717.40h1.00v21.40h-1.00zM463.10 738.80h1.00v21.40h-1.00zM525.10 738.80h1.00v21.40h-1.00zM556.10 738.80h1.00v21.40h-1.00z" fill="#afcafc"/>
<path d="M646.10 631.80h1.00v21.40h-1.00zM658.10 631.80h1.00v21.40h-1.00zM619.10 696.00h1.00v21.40h-1.00zM634.10 696.00h1.00v21.40h-1.00zM509.10 738.80h1.00v21.40h-1.00zM521.10 738.80h1.00v21.40h-1.00zM594.10 738.80h1.00v21.40h-1.00zM668.10 760.20h1.00v21.40h-1.00z" fill="#94b6ff"/>
<path d="M647.10 631.80h1.00v21.40h-1.00zM583.10 653.20h1.00v21.40h-1.00zM585.10 653.20h1.00v21.40h-1.00zM599.10 653.20h1.00v21.40h-1.00zM627.10 653.20h1.00v21.40h-1.00zM589.10 696.00h1.00v21.40h-1.00zM592.10 717.40h1.00v21.40h-1.00zM603.10 717.40h1.00v21.40h-1.00zM614.10 717.40h1.00v21.40h-1.00zM626.10 717.40h1.00v21.40h-1.00zM462.10 738.80h1.00v21.40h-1.00zM508.10 738.80h1.00v21.40h-1.00zM577.10 738.80h1.00v21.40h-1.00z" fill="#a5c3fe"/>
<path d="M648.10 631.80h1.00v21.40h-1.00zM643.10 653.20h1.00v21.40h-1.00zM644.10 653.20h1.00v21.40h-1.00zM635.10 674.60h1.00v21.40h-1.00zM656.10 674.60h1.00v21.40h-1.00zM600.10 696.00h1.00v21.40h-1.00zM607.10 696.00h1.00v21.40h-1.00zM613.10 696.00h1.00v21.40h-1.00zM616.10 696.00h1.00v21.40h-1.00zM618.10 696.00h1.00v21.40h-1.00zM638.10 696.00h1.00v21.40h-1.00zM650.10 696.00h1.00v21.40h-1.00zM609.10 717.40h1.00v21.40h-1.00zM620.10 717.40h1.00v21.40h-1.00zM657.10 717.40h1.00v21.40h-1.00zM662.10 717.40h1.00v21.40h-1.00zM459.10 738.80h1.00v21.40h-1.00zM476.10 738.80h1.00v21.40h-1.00zM489.10 738.80h1.00v21.40h-1.00zM515.10 738.80h1.00v21.40h-1.00zM522.10 738.80h1.00v21.40h-1.00zM538.10 738.80h1.00v21.40h-1.00zM595.10 738.80h1.00v21.40h-1.00zM646.10 738.80h1.00v21.40h-1.00z" fill="#96b7ff"/>
<path d="M649.10 631.80h1.00v21.40h-1.00zM640.10 653.20h1.00v21.40h-1.00zM654.10 653.20h1.00v21.40h-1.00zM662.10 653.20h1.00v21.40h-1.00zM578.10 696.00h1.00v21.40h-1.00zM617.10 696.00h1.00v21.40h-1.00zM634.10 717.40h1.00v21.40h-1.00zM661.10 717.40h1.00v21.40h-1.00zM438.10 738.80h1.00v21.40h-1.00z" fill="#92b4fe"/>
<path d="M650.10 631.80h1.00v21.40h-1.00zM652.10 631.80h1.00v21.40h-1.00zM671.10 631.80h1.00v21.40h-1.00zM675.10 631.80h1.00v21.40h-1.00zM646.10 653.20h1.00v21.40h-1.00zM646.10 674.60h1.00v21.40h-1.00zM659.10 674.60h1.00v21.40h-1.00zM630.10 696.00h1.00v21.40h-1.00zM643.10 696.00h1.00v21.40h-1.00zM449.10 738.80h1.00v21.40h-1.00zM551.10 738.80h1.00v21.40h-1.00zM634.10 738.80h1.00v21.40h-1.00zM645.10 738.80h1.00v21.40h-1.00zM669.10 738.80h1.00v21.40h-1.00zM671.10 738.80h1.00v21.40h-1.00zM443.10 760.20h1.00v21.40h-1.00zM492.10 760.20h1.00v21.40h-1.00zM648.10 760.20h1.00v21.40h-1.00zM663.10 760.20h1.00v21.40h-1.00z" fill="#82a6fb"/>
<path d="M651.10 631.80h1.00v21.40h-1.00zM642.10 674.60h1.00v21.40h-1.00zM621.10 696.00h1.00v21.40h-1.00zM637.10 696.00h1.00v21.40h-1.00zM629.10 717.40h1.00v21.40h-1.00zM631.10 717.40h1.00v21.40h-1.00zM635.10 717.40h1.00v21.40h-1.00zM646.10 717.40h1.00v21.40h-1.00zM654.10 717.40h1.00v21.40h-1.00zM655.10 717.40h1.00v21.40h-1.00zM443.10 738.80h1.00v21.40h-1.00zM460.10 738.80h1.00v21.40h-1.00zM481.10 738.80h1.00v21.40h-1.00zM512.10 738.80h1.00v21.40h-1.00zM552.10 738.80h1.00v21.40h-1.00z" fill="#8caffe"/>
<path d="M653.10 631.80h1.00v21.40h-1.00zM655.10 653.20h1.00v21.40h-1.00zM675.10 653.20h1.00v21.40h-1.00zM620.10 696.00h1.00v21.40h-1.00zM554.10 738.80h1.00v21.40h-1.00z" fill="#81a4fb"/>
<path d="M654.10 631.80h1.00v21.40h-1.00zM670.10 631.80h1.00v21.40h-1.00zM602.10 696.00h1.00v21.40h-1.00zM639.10 717.40h1.00v21.40h-1.00zM597.10 738.80h1.00v21.40h-1.00zM469.10 760.20h1.00v21.40h-1.00zM484.10 760.20h1.00v21.40h-1.00zM491.10 760.20h1.00v21.40h-1.00zM508.10 760.20h1.00v21.40h-1.00zM618.10 760.20h1.00v21.40h-1.00zM636.10 760.20h1.00v21.40h-1.00zM658.10 760.20h1.00v21.40h-1.00zM669.10 760.20h1.00v21.40h-1.00z" fill="#7a9df8"/>
<path d="M656.10 631.80h1.00v21.40h-1.00zM634.10 653.20h1.00v21.40h-1.00zM656.10 653.20h1.00v21.40h-1.00zM615.10 696.00h1.00v21.40h-1.00zM622.10 696.00h1.00v21.40h-1.00zM668.10 696.00h1.00v21.40h-1.00zM669.10 717.40h1.00v21.40h-1.00zM479.10 738.80h1.00v21.40h-1.00zM483.10 738.80h1.00v21.40h-1.00zM488.10 738.80h1.00v21.40h-1.00zM547.10 738.80h1.00v21.40h-1.00zM576.10 738.80h1.00v21.40h-1.00zM534.10 760.20h1.00v21.40h-1.00zM611.10 760.20h1.00v21.40h-1.00z" fill="#89acfd"/>
<path d="M657.10 631.80h1.00v21.40h-1.00zM648.10 653.20h1.00v21.40h-1.00zM668.10 653.20h1.00v21.40h-1.00zM657.10 674.60h1.00v21.40h-1.00zM670.10 674.60h1.00v21.40h-1.00zM595.10 696.00h1.00v21.40h-1.00zM610.10 696.00h1.00v21.40h-1.00zM635.10 696.00h1.00v21.40h-1.00zM608.10 717.40h1.00v21.40h-1.00zM659.10 717.40h1.00v21.40h-1.00zM519.10 738.80h1.00v21.40h-1.00zM614.10 738.80h1.00v21.40h-1.00zM538.10 760.20h1.00v21.40h-1.00z" fill="#84a7fc"/>
<path d="M659.10 631.80h1.00v21.40h-1.00zM663.10 653.20h1.00v21.40h-1.00zM660.10 717.40h1.00v21.40h-1.00zM439.10 738.80h1.00v21.40h-1.00zM661.10 760.20h1.00v21.40h-1.00z" fill="#8db0fe"/>
<path d="M660.10 631.80h1.00v21.40h-1.00zM674.10 674.60h1.00v21.40h-1.00zM675.10 674.60h1.00v21.40h-1.00zM642.10 717.40h1.00v21.40h-1.00zM533.10 738.80h1.00v21.40h-1.00zM543.10 738.80h1.00v21.40h-1.00zM645.10 760.20h1.00v21.40h-1.00z" fill="#8badfd"/>
<path d="M661.10 631.80h1.00v21.40h-1.00zM647.10 653.20h1.00v21.40h-1.00zM609.10 674.60h1.00v21.40h-1.00zM633.10 674.60h1.00v21.40h-1.00zM587.10 696.00h1.00v21.40h-1.00zM597.10 696.00h1.00v21.40h-1.00zM446.10 738.80h1.00v21.40h-1.00zM617.10 738.80h1.00v21.40h-1.00zM617.10 760.20h1.00v21.40h-1.00z" fill="#98b9ff"/>
<path d="M662.10 631.80h1.00v21.40h-1.00zM638.10 653.20h1.00v21.40h-1.00zM669.10 653.20h1.00v21.40h-1.00zM626.10 696.00h1.00v21.40h-1.00zM627.10 696.00h1.00v21.40h-1.00zM644.10 696.00h1.00v21.40h-1.00zM663.10 696.00h1.00v21.40h-1.00zM653.10 717.40h1.00v21.40h-1.00zM520.10 738.80h1.00v21.40h-1.00zM548.10 738.80h1.00v21.40h-1.00zM549.10 738.80h1.00v21.40h-1.00zM612.10 738.80h1.00v21.40h-1.00zM470.10 760.20h1.00v21.40h-1.00zM518.10 760.20h1.00v21.40h-1.00zM630.10 760.20h1.00v21.40h-1.00z" fill="#85a8fc"/>
<path d="M663.10 631.80h1.00v21.40h-1.00zM645.10 674.60h1.00v21.40h-1.00zM671.10 696.00h1.00v21.40h-1.00zM673.10 696.00h1.00v21.40h-1.00zM638.10 717.40h1.00v21.40h-1.00zM671.10 717.40h1.00v21.40h-1.00zM578.10 738.80h1.00v21.40h-1.00zM598.10 738.80h1.00v21.40h-1.00zM539.10 760.20h1.00v21.40h-1.00zM654.10 760.20h1.00v21.40h-1.00zM667.10 760.20h1.00v21.40h-1.00z" fill="#799cf8"/>
<path d="M664.10 631.80h1.00v21.40h-1.00zM661.10 674.60h1.00v21.40h-1.00zM662.10 674.60h1.00v21.40h-1.00zM660.10 696.00h1.00v21.40h-1.00zM637.10 717.40h1.00v21.40h-1.00zM648.10 717.40h1.00v21.40h-1.00zM675.10 717.40h1.00v21.40h-1.00zM498.10 738.80h1.00v21.40h-1.00zM534.10 738.80h1.00v21.40h-1.00zM546.10 738.80h1.00v21.40h-1.00zM569.10 738.80h1.00v21.40h-1.00zM574.10 738.80h1.00v21.40h-1.00zM584.10 738.80h1.00v21.40h-1.00zM638.10 738.80h1.00v21.40h-1.00zM438.10 760.20h1.00v21.40h-1.00zM479.10 760.20h1.00v21.40h-1.00zM480.10 760.20h1.00v21.40h-1.00zM483.10 760.20h1.00v21.40h-1.00zM501.10 760.20h1.00v21.40h-1.00zM637.10 760.20h1.00v21.40h-1.00z" fill="#7b9ff9"/>
<path d="M665.10 631.80h1.00v21.40h-1.00zM653.10 674.60h1.00v21.40h-1.00zM594.10 696.00h1.00v21.40h-1.00zM633.10 696.00h1.00v21.40h-1.00zM450.10 738.80h1.00v21.40h-1.00zM499.10 738.80h1.00v21.40h-1.00zM527.10 738.80h1.00v21.40h-1.00zM596.10 738.80h1.00v21.40h-1.00z" fill="#86a9fc"/>
<path d="M666.10 631.80h1.00v21.40h-1.00zM631.10 653.20h1.00v21.40h-1.00zM611.10 674.60h1.00v21.40h-1.00zM652.10 674.60h1.00v21.40h-1.00zM652.10 696.00h1.00v21.40h-1.00zM661.10 696.00h1.00v21.40h-1.00zM624.10 717.40h1.00v21.40h-1.00zM495.10 738.80h1.00v21.40h-1.00zM507.10 738.80h1.00v21.40h-1.00zM518.10 738.80h1.00v21.40h-1.00zM524.10 738.80h1.00v21.40h-1.00zM526.10 738.80h1.00v21.40h-1.00zM532.10 738.80h1.00v21.40h-1.00z" fill="#8fb1fe"/>
<path d="M667.10 631.80h1.00v21.40h-1.00zM653.10 653.20h1.00v21.40h-1.00zM647.10 674.60h1.00v21.40h-1.00zM639.10 696.00h1.00v21.40h-1.00zM641.10 717.40h1.00v21.40h-1.00zM573.10 738.80h1.00v21.40h-1.00zM575.10 738.80h1.00v21.40h-1.00zM660.10 738.80h1.00v21.40h-1.00zM551.10 760.20h1.00v21.40h-1.00z" fill="#7da0f9"/>
<path d="M668.10 631.80h1.00v21.40h-1.00zM667.10 653.20h1.00v21.40h-1.00zM667.10 674.60h1.00v21.40h-1.00zM632.10 696.00h1.00v21.40h-1.00zM666.10 696.00h1.00v21.40h-1.00zM630.10 738.80h1.00v21.40h-1.00zM647.10 738.80h1.00v21.40h-1.00zM649.10 738.80h1.00v21.40h-1.00zM457.10 760.20h1.00v21.40h-1.00zM481.10 760.20h1.00v21.40h-1.00zM628.10 760.20h1.00v21.40h-1.00z" fill="#7396f5"/>
<path d="M669.10 631.80h1.00v21.40h-1.00zM660.10 653.20h1.00v21.40h-1.00zM671.10 653.20h1.00v21.40h-1.00zM672.10 674.60h1.00v21.40h-1.00zM646.10 696.00h1.00v21.40h-1.00zM675.10 696.00h1.00v21.40h-1.00zM670.10 717.40h1.00v21.40h-1.00zM567.10 738.80h1.00v21.40h-1.00zM583.10 738.80h1.00v21.40h-1.00zM591.10 738.80h1.00v21.40h-1.00zM626.10 738.80h1.00v21.40h-1.00zM667.10 738.80h1.00v21.40h-1.00z" fill="#6c8ff1"/>
<path d="M672.10 631.80h1.00v21.40h-1.00zM654.10 696.00h1.00v21.40h-1.00zM662.10 696.00h1.00v21.40h-1.00zM529.10 738.80h1.00v21.40h-1.00zM550.10 738.80h1.00v21.40h-1.00zM560.10 738.80h1.00v21.40h-1.00zM572.10 738.80h1.00v21.40h-1.00zM579.10 738.80h1.00v21.40h-1.00zM616.10 738.80h1.00v21.40h-1.00zM525.10 760.20h1.00v21.40h-1.00zM580.10 760.20h1.00v21.40h-1.00zM581.10 760.20h1.00v21.40h-1.00zM640.10 760.20h1.00v21.40h-1.00z" fill="#779af7"/>
<path d="M673.10 631.80h1.00v21.40h-1.00zM658.10 674.60h1.00v21.40h-1.00zM663.10 674.60h1.00v21.40h-1.00zM664.10 674.60h1.00v21.40h-1.00zM651.10 717.40h1.00v21.40h-1.00zM568.10 738.80h1.00v21.40h-1.00zM604.10 738.80h1.00v21.40h-1.00zM670.10 738.80h1.00v21.40h-1.00zM463.10 760.20h1.00v21.40h-1.00zM475.10 760.20h1.00v21.40h-1.00z" fill="#7597f6"/>
<path d="M674.10 631.80h1.00v21.40h-1.00zM673.10 653.20h1.00v21.40h-1.00zM647.10 696.00h1.00v21.40h-1.00zM650.10 717.40h1.00v21.40h-1.00zM628.10 738.80h1.00v21.40h-1.00zM653.10 738.80h1.00v21.40h-1.00zM661.10 738.80h1.00v21.40h-1.00zM665.10 738.80h1.00v21.40h-1.00zM673.10 738.80h1.00v21.40h-1.00zM445.10 760.20h1.00v21.40h-1.00zM459.10 760.20h1.00v21.40h-1.00zM465.10 760.20h1.00v21.40h-1.00zM467.10 760.20h1.00v21.40h-1.00zM521.10 760.20h1.00v21.40h-1.00zM530.10 760.20h1.00v21.40h-1.00zM542.10 760.20h1.00v21.40h-1.00zM623.10 760.20h1.00v21.40h-1.00z" fill="#6485ec"/>
<path d="M440.10 653.20h1.00v21.40h-1.00zM442.10 674.60h1.00v21.40h-1.00z" fill="#ea7b60"/>
<path d="M441.10 653.20h1.00v21.40h-1.00zM446.10 653.20h1.00v21.40h-1.00zM454.10 653.20h1.00v21.40h-1.00zM487.10 653.20h1.00v21.40h-1.00z" fill="#f6a586"/>
<path d="M444.10 653.20h1.00v21.40h-1.00zM468.10 674.60h1.00v21.40h-1.00z" fill="#f39778"/>
<path d="M456.10 653.20h1.00v21.40h-1.00zM491.10 674.60h1.00v21.40h-1.00z" fill="#f49a7b"/>
<path d="M461.10 653.20h1.00v21.40h-1.00zM475.10 653.20h1.00v21.40h-1.00zM473.10 674.60h1.00v21.40h-1.00zM498.10 674.60h1.00v21.40h-1.00zM500.10 674.60h1.00v21.40h-1.00z" fill="#f7b396"/>
<path d="M462.10 653.20h1.00v21.40h-1.00zM512.10 653.20h1.00v21.40h-1.00zM515.10 674.60h1.00v21.40h-1.00zM527.10 674.60h1.00v21.40h-1.00zM445.10 696.00h1.00v21.40h-1.00z" fill="#f4c6af"/>
<path d="M463.10 653.20h1.00v21.40h-1.00zM479.10 653.20h1.00v21.40h-1.00zM521.10 653.20h1.00v21.40h-1.00z" fill="#f7a889"/>
<path d="M468.10 653.20h1.00v21.40h-1.00zM490.10 653.20h1.00v21.40h-1.00z" fill="#f7b89c"/>
<path d="M470.10 653.20h1.00v21.40h-1.00zM473.10 653.20h1.00v21.40h-1.00zM493.10 653.20h1.00v21.40h-1.00zM458.10 674.60h1.00v21.40h-1.00z" fill="#f59f80"/>
<path d="M474.10 653.20h1.00v21.40h-1.00z" fill="#f7ac8e"/>
<path d="M478.10 653.20h1.00v21.40h-1.00zM477.10 674.60h1.00v21.40h-1.00z" fill="#f6a385"/>
<path d="M483.10 653.20h1.00v21.40h-1.00zM513.10 653.20h1.00v21.40h-1.00zM474.10 674.60h1.00v21.40h-1.00zM493.10 674.60h1.00v21.40h-1.00zM510.10 674.60h1.00v21.40h-1.00z" fill="#f7aa8c"/>
<path d="M498.10 653.20h1.00v21.40h-1.00zM499.10 653.20h1.00v21.40h-1.00zM529.10 653.20h1.00v21.40h-1.00zM513.10 674.60h1.00v21.40h-1.00z" fill="#f5c2aa"/>
<path d="M503.10 653.20h1.00v21.40h-1.00zM543.10 653.20h1.00v21.40h-1.00zM517.10 674.60h1.00v21.40h-1.00zM531.10 674.60h1.00v21.40h-1.00zM447.10 696.00h1.00v21.40h-1.00z" fill="#f3c8b2"/>
<path d="M506.10 653.20h1.00v21.40h-1.00zM507.10 653.20h1.00v21.40h-1.00zM502.10 674.60h1.00v21.40h-1.00z" fill="#f7b599"/>
<path d="M508.10 653.20h1.00v21.40h-1.00zM514.10 653.20h1.00v21.40h-1.00zM539.10 653.20h1.00v21.40h-1.00zM488.10 674.60h1.00v21.40h-1.00z" fill="#eed0c0"/>
<path d="M509.10 653.20h1.00v21.40h-1.00zM528.10 653.20h1.00v21.40h-1.00zM441.10 696.00h1.00v21.40h-1.00zM441.10 717.40h1.00v21.40h-1.00zM454.10 717.40h1.00v21.40h-1.00z" fill="#f5c4ac"/>
<path d="M546.10 653.20h1.00v21.40h-1.00zM569.10 653.20h1.00v21.40h-1.00zM581.10 653.20h1.00v21.40h-1.00zM554.10 674.60h1.00v21.40h-1.00zM572.10 674.60h1.00v21.40h-1.00zM573.10 674.60h1.00v21.40h-1.00zM489.10 696.00h1.00v21.40h-1.00zM492.10 696.00h1.00v21.40h-1.00zM496.10 696.00h1.00v21.40h-1.00zM511.10 696.00h1.00v21.40h-1.00zM518.10 696.00h1.00v21.40h-1.00zM568.10 696.00h1.00v21.40h-1.00zM509.10 717.40h1.00v21.40h-1.00zM524.10 717.40h1.00v21.40h-1.00z" fill="#d6dce4"/>
<path d="M549.10 653.20h1.00v21.40h-1.00zM466.10 696.00h1.00v21.40h-1.00zM495.10 696.00h1.00v21.40h-1.00zM467.10 717.40h1.00v21.40h-1.00zM508.10 717.40h1.00v21.40h-1.00z" fill="#e1dad6"/>
<path d="M550.10 653.20h1.00v21.40h-1.00zM570.10 674.60h1.00v21.40h-1.00zM502.10 696.00h1.00v21.40h-1.00zM470.10 717.40h1.00v21.40h-1.00zM476.10 717.40h1.00v21.40h-1.00zM494.10 717.40h1.00v21.40h-1.00z" fill="#e4d9d2"/>
<path d="M555.10 653.20h1.00v21.40h-1.00zM579.10 653.20h1.00v21.40h-1.00zM456.10 696.00h1.00v21.40h-1.00zM475.10 696.00h1.00v21.40h-1.00zM501.10 696.00h1.00v21.40h-1.00zM503.10 696.00h1.00v21.40h-1.00zM517.10 696.00h1.00v21.40h-1.00zM468.10 717.40h1.00v21.40h-1.00zM519.10 717.40h1.00v21.40h-1.00zM520.10 717.40h1.00v21.40h-1.00z" fill="#dadce0"/>
<path d="M558.10 653.20h1.00v21.40h-1.00zM578.10 653.20h1.00v21.40h-1.00zM584.10 674.60h1.00v21.40h-1.00zM598.10 674.60h1.00v21.40h-1.00zM606.10 674.60h1.00v21.40h-1.00zM481.10 717.40h1.00v21.40h-1.00zM498.10 717.40h1.00v21.40h-1.00zM518.10 717.40h1.00v21.40h-1.00zM532.10 717.40h1.00v21.40h-1.00z" fill="#dbdcde"/>
<path d="M582.10 653.20h1.00v21.40h-1.00zM557.10 674.60h1.00v21.40h-1.00z" fill="#d5dbe5"/>
<path d="M589.10 653.20h1.00v21.40h-1.00zM575.10 674.60h1.00v21.40h-1.00zM596.10 674.60h1.00v21.40h-1.00zM603.10 674.60h1.00v21.40h-1.00zM509.10 696.00h1.00v21.40h-1.00zM512.10 696.00h1.00v21.40h-1.00zM526.10 696.00h1.00v21.40h-1.00zM527.10 696.00h1.00v21.40h-1.00z" fill="#ccd9ed"/>
<path d="M595.10 653.20h1.00v21.40h-1.00zM602.10 653.20h1.00v21.40h-1.00zM604.10 653.20h1.00v21.40h-1.00zM606.10 653.20h1.00v21.40h-1.00zM622.10 653.20h1.00v21.40h-1.00zM623.10 653.20h1.00v21.40h-1.00zM595.10 674.60h1.00v21.40h-1.00zM627.10 674.60h1.00v21.40h-1.00zM520.10 696.00h1.00v21.40h-1.00zM581.10 696.00h1.00v21.40h-1.00zM590.10 696.00h1.00v21.40h-1.00z" fill="#bfd3f6"/>
<path d="M598.10 653.20h1.00v21.40h-1.00zM618.10 653.20h1.00v21.40h-1.00zM657.10 653.20h1.00v21.40h-1.00zM602.10 674.60h1.00v21.40h-1.00zM623.10 674.60h1.00v21.40h-1.00zM576.10 696.00h1.00v21.40h-1.00zM577.10 696.00h1.00v21.40h-1.00zM579.10 696.00h1.00v21.40h-1.00zM534.10 717.40h1.00v21.40h-1.00zM568.10 717.40h1.00v21.40h-1.00zM607.10 717.40h1.00v21.40h-1.00z" fill="#bad0f8"/>
<path d="M601.10 653.20h1.00v21.40h-1.00zM566.10 674.60h1.00v21.40h-1.00zM516.10 696.00h1.00v21.40h-1.00zM519.10 696.00h1.00v21.40h-1.00zM482.10 717.40h1.00v21.40h-1.00zM542.10 717.40h1.00v21.40h-1.00zM559.10 717.40h1.00v21.40h-1.00zM582.10 717.40h1.00v21.40h-1.00z" fill="#c6d6f1"/>
<path d="M612.10 653.20h1.00v21.40h-1.00zM616.10 653.20h1.00v21.40h-1.00zM596.10 696.00h1.00v21.40h-1.00zM649.10 696.00h1.00v21.40h-1.00zM574.10 717.40h1.00v21.40h-1.00zM590.10 717.40h1.00v21.40h-1.00zM470.10 738.80h1.00v21.40h-1.00zM474.10 738.80h1.00v21.40h-1.00zM496.10 738.80h1.00v21.40h-1.00zM537.10 738.80h1.00v21.40h-1.00z" fill="#9abbff"/>
<path d="M617.10 653.20h1.00v21.40h-1.00zM621.10 653.20h1.00v21.40h-1.00zM597.10 674.60h1.00v21.40h-1.00zM624.10 674.60h1.00v21.40h-1.00zM628.10 674.60h1.00v21.40h-1.00zM562.10 696.00h1.00v21.40h-1.00zM606.10 717.40h1.00v21.40h-1.00zM615.10 717.40h1.00v21.40h-1.00zM625.10 717.40h1.00v21.40h-1.00zM503.10 738.80h1.00v21.40h-1.00z" fill="#b2ccfb"/>
<path d="M630.10 653.20h1.00v21.40h-1.00zM649.10 674.60h1.00v21.40h-1.00zM600.10 717.40h1.00v21.40h-1.00zM610.10 717.40h1.00v21.40h-1.00zM619.10 717.40h1.00v21.40h-1.00zM630.10 717.40h1.00v21.40h-1.00zM453.10 738.80h1.00v21.40h-1.00zM528.10 738.80h1.00v21.40h-1.00z" fill="#97b8ff"/>
<path d="M632.10 653.20h1.00v21.40h-1.00zM641.10 653.20h1.00v21.40h-1.00zM642.10 653.20h1.00v21.40h-1.00zM638.10 674.60h1.00v21.40h-1.00zM640.10 674.60h1.00v21.40h-1.00zM612.10 696.00h1.00v21.40h-1.00zM445.10 738.80h1.00v21.40h-1.00zM555.10 738.80h1.00v21.40h-1.00z" fill="#9dbdff"/>
<path d="M639.10 653.20h1.00v21.40h-1.00zM651.10 674.60h1.00v21.40h-1.00zM629.10 696.00h1.00v21.40h-1.00zM633.10 717.40h1.00v21.40h-1.00zM640.10 717.40h1.00v21.40h-1.00zM647.10 717.40h1.00v21.40h-1.00zM649.10 717.40h1.00v21.40h-1.00zM513.10 738.80h1.00v21.40h-1.00zM539.10 738.80h1.00v21.40h-1.00zM540.10 738.80h1.00v21.40h-1.00zM541.10 738.80h1.00v21.40h-1.00zM561.10 738.80h1.00v21.40h-1.00zM563.10 738.80h1.00v21.40h-1.00zM570.10 738.80h1.00v21.40h-1.00zM581.10 738.80h1.00v21.40h-1.00zM639.10 738.80h1.00v21.40h-1.00zM660.10 760.20h1.00v21.40h-1.00z" fill="#88abfd"/>
<path d="M645.10 653.20h1.00v21.40h-1.00zM660.10 674.60h1.00v21.40h-1.00zM642.10 696.00h1.00v21.40h-1.00zM658.10 696.00h1.00v21.40h-1.00zM667.10 696.00h1.00v21.40h-1.00zM669.10 696.00h1.00v21.40h-1.00zM674.10 717.40h1.00v21.40h-1.00zM480.10 738.80h1.00v21.40h-1.00zM514.10 738.80h1.00v21.40h-1.00zM601.10 738.80h1.00v21.40h-1.00zM618.10 738.80h1.00v21.40h-1.00zM621.10 738.80h1.00v21.40h-1.00z" fill="#80a3fa"/>
<path d="M650.10 653.20h1.00v21.40h-1.00zM665.10 674.60h1.00v21.40h-1.00zM593.10 696.00h1.00v21.40h-1.00zM611.10 696.00h1.00v21.40h-1.00zM628.10 696.00h1.00v21.40h-1.00zM657.10 696.00h1.00v21.40h-1.00zM535.10 738.80h1.00v21.40h-1.00zM590.10 738.80h1.00v21.40h-1.00zM639.10 760.20h1.00v21.40h-1.00zM651.10 760.20h1.00v21.40h-1.00zM653.10 760.20h1.00v21.40h-1.00z" fill="#7ea1fa"/>
<path d="M651.10 653.20h1.00v21.40h-1.00zM652.10 653.20h1.00v21.40h-1.00zM583.10 696.00h1.00v21.40h-1.00zM628.10 717.40h1.00v21.40h-1.00zM632.10 717.40h1.00v21.40h-1.00zM451.10 738.80h1.00v21.40h-1.00zM473.10 738.80h1.00v21.40h-1.00zM490.10 738.80h1.00v21.40h-1.00zM494.10 738.80h1.00v21.40h-1.00zM497.10 738.80h1.00v21.40h-1.00zM636.10 738.80h1.00v21.40h-1.00zM637.10 738.80h1.00v21.40h-1.00z" fill="#90b2fe"/>
<path d="M659.10 653.20h1.00v21.40h-1.00zM672.10 653.20h1.00v21.40h-1.00zM671.10 674.60h1.00v21.40h-1.00zM659.10 696.00h1.00v21.40h-1.00zM586.10 738.80h1.00v21.40h-1.00zM607.10 738.80h1.00v21.40h-1.00zM620.10 738.80h1.00v21.40h-1.00zM632.10 738.80h1.00v21.40h-1.00zM502.10 760.20h1.00v21.40h-1.00zM579.10 760.20h1.00v21.40h-1.00zM665.10 760.20h1.00v21.40h-1.00zM671.10 760.20h1.00v21.40h-1.00z" fill="#7295f4"/>
<path d="M661.10 653.20h1.00v21.40h-1.00zM645.10 696.00h1.00v21.40h-1.00zM559.10 738.80h1.00v21.40h-1.00zM613.10 738.80h1.00v21.40h-1.00zM627.10 738.80h1.00v21.40h-1.00zM486.10 760.20h1.00v21.40h-1.00zM505.10 760.20h1.00v21.40h-1.00zM550.10 760.20h1.00v21.40h-1.00zM598.10 760.20h1.00v21.40h-1.00zM620.10 760.20h1.00v21.40h-1.00zM638.10 760.20h1.00v21.40h-1.00z" fill="#6180e9"/>
<path d="M664.10 653.20h1.00v21.40h-1.00zM603.10 738.80h1.00v21.40h-1.00zM675.10 738.80h1.00v21.40h-1.00zM441.10 760.20h1.00v21.40h-1.00zM474.10 760.20h1.00v21.40h-1.00zM478.10 760.20h1.00v21.40h-1.00zM547.10 760.20h1.00v21.40h-1.00zM606.10 760.20h1.00v21.40h-1.00zM626.10 760.20h1.00v21.40h-1.00zM641.10 760.20h1.00v21.40h-1.00z" fill="#5673e0"/>
<path d="M665.10 653.20h1.00v21.40h-1.00zM652.10 738.80h1.00v21.40h-1.00zM663.10 738.80h1.00v21.40h-1.00zM512.10 760.20h1.00v21.40h-1.00zM613.10 760.20h1.00v21.40h-1.00z" fill="#506bda"/>
<path d="M666.10 653.20h1.00v21.40h-1.00zM652.10 717.40h1.00v21.40h-1.00zM673.10 717.40h1.00v21.40h-1.00zM530.10 738.80h1.00v21.40h-1.00zM587.10 738.80h1.00v21.40h-1.00zM592.10 738.80h1.00v21.40h-1.00zM605.10 738.80h1.00v21.40h-1.00zM635.10 738.80h1.00v21.40h-1.00zM642.10 738.80h1.00v21.40h-1.00zM648.10 738.80h1.00v21.40h-1.00zM651.10 738.80h1.00v21.40h-1.00zM565.10 760.20h1.00v21.40h-1.00zM568.10 760.20h1.00v21.40h-1.00zM578.10 760.20h1.00v21.40h-1.00zM585.10 760.20h1.00v21.40h-1.00zM587.10 760.20h1.00v21.40h-1.00zM629.10 760.20h1.00v21.40h-1.00zM642.10 760.20h1.00v21.40h-1.00zM666.10 760.20h1.00v21.40h-1.00zM672.10 760.20h1.00v21.40h-1.00zM675.10 760.20h1.00v21.40h-1.00z" fill="#7093f3"/>
<path d="M670.10 653.20h1.00v21.40h-1.00zM668.10 674.60h1.00v21.40h-1.00zM631.10 696.00h1.00v21.40h-1.00zM667.10 717.40h1.00v21.40h-1.00zM544.10 738.80h1.00v21.40h-1.00zM606.10 738.80h1.00v21.40h-1.00zM446.10 760.20h1.00v21.40h-1.00zM458.10 760.20h1.00v21.40h-1.00zM520.10 760.20h1.00v21.40h-1.00zM554.10 760.20h1.00v21.40h-1.00zM597.10 760.20h1.00v21.40h-1.00z" fill="#6a8bef"/>
<path d="M674.10 653.20h1.00v21.40h-1.00zM658.10 738.80h1.00v21.40h-1.00zM672.10 738.80h1.00v21.40h-1.00zM462.10 760.20h1.00v21.40h-1.00zM504.10 760.20h1.00v21.40h-1.00zM506.10 760.20h1.00v21.40h-1.00zM514.10 760.20h1.00v21.40h-1.00zM567.10 760.20h1.00v21.40h-1.00z" fill="#536edd"/>
<path d="M445.10 674.60h1.00v21.40h-1.00z" fill="#e36b54"/>
<path d="M453.10 674.60h1.00v21.40h-1.00zM497.10 674.60h1.00v21.40h-1.00zM501.10 674.60h1.00v21.40h-1.00zM440.10 696.00h1.00v21.40h-1.00z" fill="#f7b093"/>
<path d="M469.10 674.60h1.00v21.40h-1.00z" fill="#f08a6c"/>
<path d="M475.10 674.60h1.00v21.40h-1.00z" fill="#f18f71"/>
<path d="M485.10 674.60h1.00v21.40h-1.00zM487.10 674.60h1.00v21.40h-1.00zM444.10 696.00h1.00v21.40h-1.00zM440.10 717.40h1.00v21.40h-1.00z" fill="#f5c1a9"/>
<path d="M556.10 674.60h1.00v21.40h-1.00zM589.10 674.60h1.00v21.40h-1.00zM600.10 674.60h1.00v21.40h-1.00zM517.10 717.40h1.00v21.40h-1.00z" fill="#d3dbe7"/>
<path d="M559.10 674.60h1.00v21.40h-1.00zM588.10 674.60h1.00v21.40h-1.00zM507.10 696.00h1.00v21.40h-1.00zM553.10 696.00h1.00v21.40h-1.00zM549.10 717.40h1.00v21.40h-1.00z" fill="#d2dbe8"/>
<path d="M560.10 674.60h1.00v21.40h-1.00zM438.10 696.00h1.00v21.40h-1.00zM452.10 696.00h1.00v21.40h-1.00zM484.10 696.00h1.00v21.40h-1.00zM453.10 717.40h1.00v21.40h-1.00zM463.10 717.40h1.00v21.40h-1.00z" fill="#edd1c2"/>
<path d="M561.10 674.60h1.00v21.40h-1.00zM438.10 717.40h1.00v21.40h-1.00z" fill="#f2cab5"/>
<path d="M604.10 674.60h1.00v21.40h-1.00zM525.10 696.00h1.00v21.40h-1.00zM538.10 696.00h1.00v21.40h-1.00zM571.10 696.00h1.00v21.40h-1.00z" fill="#c4d5f3"/>
<path d="M610.10 674.60h1.00v21.40h-1.00zM630.10 674.60h1.00v21.40h-1.00zM636.10 674.60h1.00v21.40h-1.00zM650.10 674.60h1.00v21.40h-1.00zM556.10 696.00h1.00v21.40h-1.00zM604.10 696.00h1.00v21.40h-1.00zM606.10 696.00h1.00v21.40h-1.00zM625.10 696.00h1.00v21.40h-1.00zM643.10 717.40h1.00v21.40h-1.00zM452.10 738.80h1.00v21.40h-1.00zM484.10 738.80h1.00v21.40h-1.00zM511.10 738.80h1.00v21.40h-1.00zM531.10 738.80h1.00v21.40h-1.00zM654.10 738.80h1.00v21.40h-1.00z" fill="#93b5fe"/>
<path d="M613.10 674.60h1.00v21.40h-1.00zM591.10 696.00h1.00v21.40h-1.00zM588.10 717.40h1.00v21.40h-1.00zM594.10 717.40h1.00v21.40h-1.00zM440.10 738.80h1.00v21.40h-1.00zM441.10 738.80h1.00v21.40h-1.00zM491.10 738.80h1.00v21.40h-1.00z" fill="#b3cdfb"/>
<path d="M648.10 674.60h1.00v21.40h-1.00zM656.10 696.00h1.00v21.40h-1.00zM599.10 738.80h1.00v21.40h-1.00zM633.10 738.80h1.00v21.40h-1.00zM529.10 760.20h1.00v21.40h-1.00zM532.10 760.20h1.00v21.40h-1.00zM535.10 760.20h1.00v21.40h-1.00zM563.10 760.20h1.00v21.40h-1.00zM577.10 760.20h1.00v21.40h-1.00zM656.10 760.20h1.00v21.40h-1.00zM662.10 760.20h1.00v21.40h-1.00zM673.10 760.20h1.00v21.40h-1.00z" fill="#6e90f2"/>
<path d="M654.10 674.60h1.00v21.40h-1.00zM666.10 674.60h1.00v21.40h-1.00zM609.10 696.00h1.00v21.40h-1.00zM553.10 738.80h1.00v21.40h-1.00zM585.10 738.80h1.00v21.40h-1.00zM615.10 738.80h1.00v21.40h-1.00zM619.10 738.80h1.00v21.40h-1.00zM650.10 738.80h1.00v21.40h-1.00zM453.10 760.20h1.00v21.40h-1.00zM456.10 760.20h1.00v21.40h-1.00zM482.10 760.20h1.00v21.40h-1.00zM552.10 760.20h1.00v21.40h-1.00zM586.10 760.20h1.00v21.40h-1.00zM592.10 760.20h1.00v21.40h-1.00zM603.10 760.20h1.00v21.40h-1.00zM604.10 760.20h1.00v21.40h-1.00zM612.10 760.20h1.00v21.40h-1.00zM644.10 760.20h1.00v21.40h-1.00zM652.10 760.20h1.00v21.40h-1.00z" fill="#7699f6"/>
<path d="M669.10 674.60h1.00v21.40h-1.00zM513.10 760.20h1.00v21.40h-1.00zM537.10 760.20h1.00v21.40h-1.00zM544.10 760.20h1.00v21.40h-1.00zM546.10 760.20h1.00v21.40h-1.00zM584.10 760.20h1.00v21.40h-1.00zM609.10 760.20h1.00v21.40h-1.00zM633.10 760.20h1.00v21.40h-1.00zM643.10 760.20h1.00v21.40h-1.00zM646.10 760.20h1.00v21.40h-1.00z" fill="#5977e3"/>
<path d="M673.10 674.60h1.00v21.40h-1.00zM545.10 738.80h1.00v21.40h-1.00zM602.10 738.80h1.00v21.40h-1.00zM664.10 738.80h1.00v21.40h-1.00zM447.10 760.20h1.00v21.40h-1.00zM451.10 760.20h1.00v21.40h-1.00zM495.10 760.20h1.00v21.40h-1.00zM499.10 760.20h1.00v21.40h-1.00zM523.10 760.20h1.00v21.40h-1.00zM570.10 760.20h1.00v21.40h-1.00zM583.10 760.20h1.00v21.40h-1.00zM596.10 760.20h1.00v21.40h-1.00zM607.10 760.20h1.00v21.40h-1.00zM674.10 760.20h1.00v21.40h-1.00z" fill="#5d7ce6"/>
<path d="M582.10 696.00h1.00v21.40h-1.00zM599.10 696.00h1.00v21.40h-1.00zM636.10 696.00h1.00v21.40h-1.00zM648.10 696.00h1.00v21.40h-1.00zM598.10 717.40h1.00v21.40h-1.00zM627.10 717.40h1.00v21.40h-1.00zM455.10 738.80h1.00v21.40h-1.00zM457.10 738.80h1.00v21.40h-1.00zM475.10 738.80h1.00v21.40h-1.00zM501.10 738.80h1.00v21.40h-1.00zM517.10 738.80h1.00v21.40h-1.00z" fill="#a1c0ff"/>
<path d="M592.10 696.00h1.00v21.40h-1.00zM587.10 717.40h1.00v21.40h-1.00zM621.10 717.40h1.00v21.40h-1.00zM656.10 717.40h1.00v21.40h-1.00zM461.10 738.80h1.00v21.40h-1.00zM465.10 738.80h1.00v21.40h-1.00zM468.10 738.80h1.00v21.40h-1.00z" fill="#a6c4fe"/>
<path d="M655.10 696.00h1.00v21.40h-1.00zM666.10 717.40h1.00v21.40h-1.00zM558.10 738.80h1.00v21.40h-1.00zM571.10 738.80h1.00v21.40h-1.00zM622.10 738.80h1.00v21.40h-1.00zM516.10 760.20h1.00v21.40h-1.00zM517.10 760.20h1.00v21.40h-1.00zM555.10 760.20h1.00v21.40h-1.00zM599.10 760.20h1.00v21.40h-1.00z" fill="#6f92f3"/>
<path d="M664.10 696.00h1.00v21.40h-1.00zM562.10 738.80h1.00v21.40h-1.00zM588.10 738.80h1.00v21.40h-1.00zM610.10 738.80h1.00v21.40h-1.00zM643.10 738.80h1.00v21.40h-1.00zM464.10 760.20h1.00v21.40h-1.00zM468.10 760.20h1.00v21.40h-1.00zM476.10 760.20h1.00v21.40h-1.00zM500.10 760.20h1.00v21.40h-1.00zM524.10 760.20h1.00v21.40h-1.00zM540.10 760.20h1.00v21.40h-1.00zM541.10 760.20h1.00v21.40h-1.00zM543.10 760.20h1.00v21.40h-1.00zM621.10 760.20h1.00v21.40h-1.00zM627.10 760.20h1.00v21.40h-1.00zM655.10 760.20h1.00v21.40h-1.00z" fill="#6384eb"/>
<path d="M665.10 696.00h1.00v21.40h-1.00zM664.10 717.40h1.00v21.40h-1.00zM668.10 717.40h1.00v21.40h-1.00zM510.10 738.80h1.00v21.40h-1.00zM565.10 738.80h1.00v21.40h-1.00zM593.10 738.80h1.00v21.40h-1.00zM623.10 738.80h1.00v21.40h-1.00zM625.10 738.80h1.00v21.40h-1.00zM655.10 738.80h1.00v21.40h-1.00zM657.10 738.80h1.00v21.40h-1.00zM519.10 760.20h1.00v21.40h-1.00zM564.10 760.20h1.00v21.40h-1.00zM605.10 760.20h1.00v21.40h-1.00zM632.10 760.20h1.00v21.40h-1.00zM670.10 760.20h1.00v21.40h-1.00z" fill="#6b8df0"/>
<path d="M670.10 696.00h1.00v21.40h-1.00zM600.10 738.80h1.00v21.40h-1.00zM444.10 760.20h1.00v21.40h-1.00zM449.10 760.20h1.00v21.40h-1.00zM549.10 760.20h1.00v21.40h-1.00zM553.10 760.20h1.00v21.40h-1.00zM557.10 760.20h1.00v21.40h-1.00zM560.10 760.20h1.00v21.40h-1.00zM657.10 760.20h1.00v21.40h-1.00z" fill="#6282ea"/>
<path d="M672.10 696.00h1.00v21.40h-1.00zM663.10 717.40h1.00v21.40h-1.00zM580.10 738.80h1.00v21.40h-1.00zM611.10 738.80h1.00v21.40h-1.00zM624.10 738.80h1.00v21.40h-1.00zM668.10 738.80h1.00v21.40h-1.00zM452.10 760.20h1.00v21.40h-1.00zM487.10 760.20h1.00v21.40h-1.00zM522.10 760.20h1.00v21.40h-1.00zM576.10 760.20h1.00v21.40h-1.00zM593.10 760.20h1.00v21.40h-1.00zM664.10 760.20h1.00v21.40h-1.00z" fill="#688aef"/>
<path d="M674.10 696.00h1.00v21.40h-1.00zM672.10 717.40h1.00v21.40h-1.00zM582.10 738.80h1.00v21.40h-1.00zM609.10 738.80h1.00v21.40h-1.00zM439.10 760.20h1.00v21.40h-1.00zM442.10 760.20h1.00v21.40h-1.00zM450.10 760.20h1.00v21.40h-1.00zM536.10 760.20h1.00v21.40h-1.00zM573.10 760.20h1.00v21.40h-1.00zM610.10 760.20h1.00v21.40h-1.00zM634.10 760.20h1.00v21.40h-1.00z" fill="#6788ee"/>
<path d="M665.10 717.40h1.00v21.40h-1.00zM608.10 738.80h1.00v21.40h-1.00zM641.10 738.80h1.00v21.40h-1.00zM656.10 738.80h1.00v21.40h-1.00zM662.10 738.80h1.00v21.40h-1.00zM454.10 760.20h1.00v21.40h-1.00zM455.10 760.20h1.00v21.40h-1.00zM485.10 760.20h1.00v21.40h-1.00zM533.10 760.20h1.00v21.40h-1.00zM559.10 760.20h1.00v21.40h-1.00zM566.10 760.20h1.00v21.40h-1.00zM571.10 760.20h1.00v21.40h-1.00zM588.10 760.20h1.00v21.40h-1.00z" fill="#6687ed"/>
<path d="M564.10 738.80h1.00v21.40h-1.00zM498.10 760.20h1.00v21.40h-1.00zM526.10 760.20h1.00v21.40h-1.00zM572.10 760.20h1.00v21.40h-1.00zM608.10 760.20h1.00v21.40h-1.00zM635.10 760.20h1.00v21.40h-1.00z" fill="#5875e1"/>
<path d="M566.10 738.80h1.00v21.40h-1.00zM471.10 760.20h1.00v21.40h-1.00zM472.10 760.20h1.00v21.40h-1.00zM494.10 760.20h1.00v21.40h-1.00zM511.10 760.20h1.00v21.40h-1.00zM531.10 760.20h1.00v21.40h-1.00zM582.10 760.20h1.00v21.40h-1.00zM619.10 760.20h1.00v21.40h-1.00zM647.10 760.20h1.00v21.40h-1.00z" fill="#5e7de7"/>
<path d="M589.10 738.80h1.00v21.40h-1.00zM640.10 738.80h1.00v21.40h-1.00zM461.10 760.20h1.00v21.40h-1.00zM490.10 760.20h1.00v21.40h-1.00zM527.10 760.20h1.00v21.40h-1.00zM545.10 760.20h1.00v21.40h-1.00zM589.10 760.20h1.00v21.40h-1.00zM631.10 760.20h1.00v21.40h-1.00z" fill="#5470de"/>
<path d="M629.10 738.80h1.00v21.40h-1.00zM489.10 760.20h1.00v21.40h-1.00zM591.10 760.20h1.00v21.40h-1.00zM594.10 760.20h1.00v21.40h-1.00zM616.10 760.20h1.00v21.40h-1.00zM622.10 760.20h1.00v21.40h-1.00zM624.10 760.20h1.00v21.40h-1.00zM659.10 760.20h1.00v21.40h-1.00z" fill="#5f7fe8"/>
<path d="M631.10 738.80h1.00v21.40h-1.00zM477.10 760.20h1.00v21.40h-1.00zM602.10 760.20h1.00v21.40h-1.00z" fill="#4f69d9"/>
<path d="M644.10 738.80h1.00v21.40h-1.00zM488.10 760.20h1.00v21.40h-1.00zM601.10 760.20h1.00v21.40h-1.00z" fill="#4e68d8"/>
<path d="M659.10 738.80h1.00v21.40h-1.00zM448.10 760.20h1.00v21.40h-1.00zM528.10 760.20h1.00v21.40h-1.00zM625.10 760.20h1.00v21.40h-1.00z" fill="#5572df"/>
<path d="M666.10 738.80h1.00v21.40h-1.00zM503.10 760.20h1.00v21.40h-1.00z" fill="#4c66d6"/>
<path d="M674.10 738.80h1.00v21.40h-1.00z" fill="#4257c9"/>
<path d="M440.10 760.20h1.00v21.40h-1.00zM574.10 760.20h1.00v21.40h-1.00z" fill="#445acc"/>
<path d="M460.10 760.20h1.00v21.40h-1.00zM497.10 760.20h1.00v21.40h-1.00zM507.10 760.20h1.00v21.40h-1.00zM556.10 760.20h1.00v21.40h-1.00zM590.10 760.20h1.00v21.40h-1.00zM615.10 760.20h1.00v21.40h-1.00zM649.10 760.20h1.00v21.40h-1.00z" fill="#5a78e4"/>
<path d="M466.10 760.20h1.00v21.40h-1.00z" fill="#4b64d5"/>
<path d="M473.10 760.20h1.00v21.40h-1.00zM496.10 760.20h1.00v21.40h-1.00zM548.10 760.20h1.00v21.40h-1.00zM595.10 760.20h1.00v21.40h-1.00zM600.10 760.20h1.00v21.40h-1.00zM650.10 760.20h1.00v21.40h-1.00z" fill="#5b7ae5"/>
<path d="M493.10 760.20h1.00v21.40h-1.00zM510.10 760.20h1.00v21.40h-1.00z" fill="#4a63d3"/>
<path d="M509.10 760.20h1.00v21.40h-1.00zM558.10 760.20h1.00v21.40h-1.00zM569.10 760.20h1.00v21.40h-1.00z" fill="#516ddb"/>
<path d="M515.10 760.20h1.00v21.40h-1.00z" fill="#3b4cc0"/>
<path d="M561.10 760.20h1.00v21.40h-1.00zM562.10 760.20h1.00v21.40h-1.00z" fill="#4961d2"/>
<path d="M575.10 760.20h1.00v21.40h-1.00z" fill="#465ecf"/>
<path d="M614.10 760.20h1.00v21.40h-1.00z" fill="#3d50c3"/>
</g>
<defs><linearGradient id="cbar" x1="0" y1="0" x2="0" y2="1"><stop offset="0.00" stop-color="#b40426"/><stop offset="0.05" stop-color="#c53334"/><stop offset="0.10" stop-color="#d65244"/><stop offset="0.15" stop-color="#e36c55"/><stop offset="0.20" stop-color="#ee8468"/><stop offset="0.25" stop-color="#f4987a"/><stop offset="0.30" stop-color="#f7ac8e"/><stop offset="0.35" stop-color="#f6bda2"/><stop offset="0.40" stop-color="#f2cbb7"/><stop offset="0.45" stop-color="#e9d5cb"/><stop offset="0.50" stop-color="#dddcdc"/><stop offset="0.55" stop-color="#cfdaea"/><stop offset="0.60" stop-color="#c0d4f5"/><stop offset="0.65" stop-color="#afcafc"/><stop offset="0.70" stop-color="#9ebeff"/><stop offset="0.75" stop-color="#8db0fe"/><stop offset="0.80" stop-color="#7b9ff9"/><stop offset="0.85" stop-color="#6a8bef"/><stop offset="0.90" stop-color="#5977e3"/><stop offset="0.95" stop-color="#4961d2"/><stop offset="1.00" stop-color="#3b4cc0"/></linearGradient></defs>
<rect x="303.6" y="639.1" width="7.8" height="149.4" fill="url(#cbar)"/>
<line x1="311.4" y1="641.8" x2="314.4" y2="641.8" stroke="#333" stroke-width="0.8"/>
<text x="317.0" y="646.5" font-size="13" text-anchor="start" font-weight="normal" fill="#222222" letter-spacing="0.5">0.8</text>
<line x1="311.4" y1="660.1" x2="314.4" y2="660.1" stroke="#333" stroke-width="0.8"/>
<text x="317.0" y="664.8" font-size="13" text-anchor="start" font-weight="normal" fill="#222222" letter-spacing="0.5">0.7</text>
<line x1="311.4" y1="678.5" x2="314.4" y2="678.5" stroke="#333" stroke-width="0.8"/>
<text x="317.0" y="683.2" font-size="13" text-anchor="start" font-weight="normal" fill="#222222" letter-spacing="0.5">0.6</text>
<line x1="311.4" y1="696.8" x2="314.4" y2="696.8" stroke="#333" stroke-width="0.8"/>
<text x="317.0" y="701.5" font-size="13" text-anchor="start" font-weight="normal" fill="#222222" letter-spacing="0.5">0.5</text>
<line x1="311.4" y1="715.1" x2="314.4" y2="715.1" stroke="#333" stroke-width="0.8"/>
<text x="317.0" y="719.8" font-size="13" text-anchor="start" font-weight="normal" fill="#222222" letter-spacing="0.5">0.4</text>
<line x1="311.4" y1="733.4" x2="314.4" y2="733.4" stroke="#333" stroke-width="0.8"/>
<text x="317.0" y="738.1" font-size="13" text-anchor="start" font-weight="normal" fill="#222222" letter-spacing="0.5">0.3</text>
<line x1="311.4" y1="751.8" x2="314.4" y2="751.8" stroke="#333" stroke-width="0.8"/>
<text x="317.0" y="756.5" font-size="13" text-anchor="start" font-weight="normal" fill="#222222" letter-spacing="0.5">0.2</text>
<line x1="311.4" y1="770.1" x2="314.4" y2="770.1" stroke="#333" stroke-width="0.8"/>
<text x="317.0" y="774.8" font-size="13" text-anchor="start" font-weight="normal" fill="#222222" letter-spacing="0.5">0.1</text>
<text x="55.6" y="641.0" font-size="13" text-anchor="end" font-weight="normal" fill="#222222" >Energy</text>
<line x1="57.5" y1="635.7" x2="60.3" y2="635.7" stroke="#555" stroke-width="0.8"/>
<text x="55.6" y="664.8" font-size="13" text-anchor="end" font-weight="normal" fill="#222222" >SZNUN</text>
<line x1="57.5" y1="659.5" x2="60.3" y2="659.5" stroke="#555" stroke-width="0.8"/>
<text x="55.6" y="688.0" font-size="13" text-anchor="end" font-weight="normal" fill="#222222" >GLNU</text>
<line x1="57.5" y1="682.7" x2="60.3" y2="682.7" stroke="#555" stroke-width="0.8"/>
<text x="55.6" y="710.8" font-size="13" text-anchor="end" font-weight="normal" fill="#222222" >LAHGLE</text>
<line x1="57.5" y1="705.5" x2="60.3" y2="705.5" stroke="#555" stroke-width="0.8"/>
<text x="55.6" y="734.2" font-size="13" text-anchor="end" font-weight="normal" fill="#222222" >Contrast</text>
<line x1="57.5" y1="728.9" x2="60.3" y2="728.9" stroke="#555" stroke-width="0.8"/>
<text x="55.6" y="757.6" font-size="13" text-anchor="end" font-weight="normal" fill="#222222" >LDHGLE</text>
<line x1="57.5" y1="752.3" x2="60.3" y2="752.3" stroke="#555" stroke-width="0.8"/>
<text x="55.6" y="781.2" font-size="13" text-anchor="end" font-weight="normal" fill="#222222" >Mean</text>
<line x1="57.5" y1="775.9" x2="60.3" y2="775.9" stroke="#555" stroke-width="0.8"/>
<text x="430.2" y="642.2" font-size="13" text-anchor="end" font-weight="normal" fill="#222222" >GLNU</text>
<line x1="435.5" y1="637.1" x2="438.1" y2="637.1" stroke="#555" stroke-width="0.8"/>
<text x="430.2" y="663.5" font-size="13" text-anchor="end" font-weight="normal" fill="#222222" >Energy</text>
<line x1="435.5" y1="658.4" x2="438.1" y2="658.4" stroke="#555" stroke-width="0.8"/>
<text x="430.2" y="684.7" font-size="13" text-anchor="end" font-weight="normal" fill="#222222" >LAHGLE</text>
<line x1="435.5" y1="679.6" x2="438.1" y2="679.6" stroke="#555" stroke-width="0.8"/>
<text x="430.2" y="706.0" font-size="13" text-anchor="end" font-weight="normal" fill="#222222" >LDHGLE</text>
<line x1="435.5" y1="700.9" x2="438.1" y2="700.9" stroke="#555" stroke-width="0.8"/>
<text x="430.2" y="727.3" font-size="13" text-anchor="end" font-weight="normal" fill="#222222" >Mean</text>
<line x1="435.5" y1="722.2" x2="438.1" y2="722.2" stroke="#555" stroke-width="0.8"/>
<text x="430.2" y="748.6" font-size="13" text-anchor="end" font-weight="normal" fill="#222222" >SZNUN</text>
<line x1="435.5" y1="743.5" x2="438.1" y2="743.5" stroke="#555" stroke-width="0.8"/>
<text x="430.2" y="769.8" font-size="13" text-anchor="end" font-weight="normal" fill="#222222" >Contrast</text>
<line x1="435.5" y1="764.7" x2="438.1" y2="764.7" stroke="#555" stroke-width="0.8"/>
<text x="179.2" y="798.7" font-size="13" text-anchor="middle" font-weight="normal" fill="#222222" >Deep cancer type-common features</text>
<text x="557.3" y="798.7" font-size="13" text-anchor="middle" font-weight="normal" fill="#222222" >Deep cancer type-common features</text>
<text x="0.3" y="631.6" font-size="18.5" text-anchor="start" font-weight="bold" fill="#000" >e</text>
<text x="357.0" y="631.6" font-size="18.5" text-anchor="start" font-weight="bold" fill="#000" >f</text>
<text x="-0.3" y="313.3" font-size="18.5" text-anchor="start" font-weight="bold" fill="#000" >c</text>
<rect x="58" y="306" width="113" height="131.5" fill="#000"/>
<path d="M117.7 316.2C115.3 316.0 111.1 311.4 107.5 311.0C103.9 310.5 99.5 311.8 96.0 313.4C92.4 315.1 88.8 317.7 86.1 320.9C83.3 324.0 81.1 328.6 79.5 332.4C77.8 336.3 77.5 339.3 76.2 344.0C74.8 348.6 72.9 355.2 71.2 360.5C69.6 365.7 67.2 370.6 66.3 375.3C65.3 380.0 65.2 383.6 65.4 388.5C65.7 393.5 66.4 400.1 67.9 405.0C69.4 410.0 71.5 414.4 74.5 418.2C77.5 422.1 81.7 425.6 86.1 428.1C90.5 430.6 96.2 432.1 100.9 433.1C105.6 434.0 109.7 433.9 114.1 433.9C118.5 433.9 122.4 434.3 127.3 433.1C132.3 431.8 138.9 429.5 143.8 426.5C148.8 423.4 153.7 419.6 157.0 414.9C160.3 410.2 162.2 404.2 163.6 398.4C165.0 392.6 165.5 386.6 165.3 380.3C165.0 373.9 163.3 366.8 162.0 360.5C160.6 354.1 158.7 347.3 157.0 342.3C155.4 337.4 154.3 334.6 152.1 330.8C149.9 326.9 147.1 322.2 143.8 319.2C140.5 316.2 135.8 313.7 132.3 312.6C128.7 311.5 124.8 312.0 122.4 312.6C119.9 313.2 120.2 316.5 117.7 316.2Z" fill="#4a4a4a"/>
<g clip-path="url(#br1)">
<rect x="58" y="306" width="113" height="131.5" filter="url(#gyr1)"/>
<path d="M117.7 316.2C115.3 316.0 111.1 311.4 107.5 311.0C103.9 310.5 99.5 311.8 96.0 313.4C92.4 315.1 88.8 317.7 86.1 320.9C83.3 324.0 81.1 328.6 79.5 332.4C77.8 336.3 77.5 339.3 76.2 344.0C74.8 348.6 72.9 355.2 71.2 360.5C69.6 365.7 67.2 370.6 66.3 375.3C65.3 380.0 65.2 383.6 65.4 388.5C65.7 393.5 66.4 400.1 67.9 405.0C69.4 410.0 71.5 414.4 74.5 418.2C77.5 422.1 81.7 425.6 86.1 428.1C90.5 430.6 96.2 432.1 100.9 433.1C105.6 434.0 109.7 433.9 114.1 433.9C118.5 433.9 122.4 434.3 127.3 433.1C132.3 431.8 138.9 429.5 143.8 426.5C148.8 423.4 153.7 419.6 157.0 414.9C160.3 410.2 162.2 404.2 163.6 398.4C165.0 392.6 165.5 386.6 165.3 380.3C165.0 373.9 163.3 366.8 162.0 360.5C160.6 354.1 158.7 347.3 157.0 342.3C155.4 337.4 154.3 334.6 152.1 330.8C149.9 326.9 147.1 322.2 143.8 319.2C140.5 316.2 135.8 313.7 132.3 312.6C128.7 311.5 124.8 312.0 122.4 312.6C119.9 313.2 120.2 316.5 117.7 316.2Z" fill="url(#rgb)"/>
<ellipse cx="104.20462046204621" cy="368.70627062706274" rx="12" ry="20" fill="#1e1e1e" opacity="0.55" filter="url(#bl2)"/>
<ellipse cx="112.45544554455446" cy="398.4092409240924" rx="12" ry="8" fill="#1e1e1e" opacity="0.55" filter="url(#bl2)"/>
<path d="M117.7 316.2C115.3 316.0 111.1 311.4 107.5 311.0C103.9 310.5 99.5 311.8 96.0 313.4C92.4 315.1 88.8 317.7 86.1 320.9C83.3 324.0 81.1 328.6 79.5 332.4C77.8 336.3 77.5 339.3 76.2 344.0C74.8 348.6 72.9 355.2 71.2 360.5C69.6 365.7 67.2 370.6 66.3 375.3C65.3 380.0 65.2 383.6 65.4 388.5C65.7 393.5 66.4 400.1 67.9 405.0C69.4 410.0 71.5 414.4 74.5 418.2C77.5 422.1 81.7 425.6 86.1 428.1C90.5 430.6 96.2 432.1 100.9 433.1C105.6 434.0 109.7 433.9 114.1 433.9C118.5 433.9 122.4 434.3 127.3 433.1C132.3 431.8 138.9 429.5 143.8 426.5C148.8 423.4 153.7 419.6 157.0 414.9C160.3 410.2 162.2 404.2 163.6 398.4C165.0 392.6 165.5 386.6 165.3 380.3C165.0 373.9 163.3 366.8 162.0 360.5C160.6 354.1 158.7 347.3 157.0 342.3C155.4 337.4 154.3 334.6 152.1 330.8C149.9 326.9 147.1 322.2 143.8 319.2C140.5 316.2 135.8 313.7 132.3 312.6C128.7 311.5 124.8 312.0 122.4 312.6C119.9 313.2 120.2 316.5 117.7 316.2Z" fill="none" stroke="#000" stroke-width="2" opacity="0.6" filter="url(#bl1)"/>
<path d="M102.6 339.0C102.6 336.8 105.9 336.3 107.5 337.4C109.2 338.5 111.5 342.6 112.5 345.6C113.4 348.6 113.4 352.8 113.3 355.5C113.1 358.3 112.5 361.3 111.6 362.1C110.8 362.9 109.0 362.4 108.3 360.5C107.6 358.5 108.5 354.1 107.5 350.6C106.5 347.0 102.6 341.2 102.6 339.0Z" fill="#bdbdbd" filter="url(#bl1)"/>
<path d="M93.5 388.5C94.2 386.4 97.6 385.8 99.3 386.0C100.9 386.3 103.0 388.4 103.4 390.2C103.8 391.9 103.1 395.4 101.7 396.8C100.4 398.1 96.5 399.8 95.1 398.4C93.8 397.0 92.8 390.6 93.5 388.5Z" fill="#bdbdbd" filter="url(#bl1)"/>
</g>
<path d="M129.0 345.0 L133.0 344.5 L136.0 348.0 L141.0 349.0 L145.0 346.5 L150.0 347.0 L154.0 351.0 L157.0 360.0 L160.0 368.0 L161.0 374.0 L159.4 380.0 L155.0 384.0 L149.0 389.0 L148.0 391.0 L152.0 396.0 L157.0 401.0 L158.0 405.0 L154.0 407.0 L145.0 408.0 L140.0 409.0 L135.0 413.0 L130.0 414.0 L126.0 411.0 L125.0 408.0 L128.0 402.0 L128.0 396.0 L125.0 392.0 L122.0 387.0 L120.5 382.0 L121.0 375.0 L124.0 370.0 L128.0 372.0 L130.0 373.0 L129.0 367.0 L129.0 360.0 L128.0 351.0Z" fill="url(#tg1)"/>
<g clip-path="url(#tm1)"><rect x="58" y="306" width="113" height="131.5" filter="url(#nzt)" opacity="0.16"/>
<path d="M132.3 353.9 L135.6 391.8" stroke="#c4c4c4" stroke-width="1.3" opacity="0.7" filter="url(#bl1)"/>
<path d="M143.8 355.5 L140.5 380.3" stroke="#c0c0c0" stroke-width="1.3" opacity="0.6" filter="url(#bl1)"/>
<path d="M140.5 360.5 L138.9 368.7" stroke="#2a2a2a" stroke-width="1.2" opacity="0.5" filter="url(#bl1)"/>
</g>
<path d="M129.0 345.0 L133.0 344.5 L136.0 348.0 L141.0 349.0 L145.0 346.5 L150.0 347.0 L154.0 351.0 L157.0 360.0 L160.0 368.0 L161.0 374.0 L159.4 380.0 L155.0 384.0 L149.0 389.0 L148.0 391.0 L152.0 396.0 L157.0 401.0 L158.0 405.0 L154.0 407.0 L145.0 408.0 L140.0 409.0 L135.0 413.0 L130.0 414.0 L126.0 411.0 L125.0 408.0 L128.0 402.0 L128.0 396.0 L125.0 392.0 L122.0 387.0 L120.5 382.0 L121.0 375.0 L124.0 370.0 L128.0 372.0 L130.0 373.0 L129.0 367.0 L129.0 360.0 L128.0 351.0Z" fill="none" stroke="#ff2a1a" stroke-width="3.3" stroke-linejoin="round"/>
<rect x="182" y="307" width="112.5" height="131" fill="#000"/>
<path d="M241.2 314.4C238.2 314.4 233.6 311.0 229.4 311.1C225.3 311.2 220.4 312.9 216.3 315.2C212.2 317.5 207.9 320.9 204.9 325.0C201.9 329.1 200.0 334.8 198.4 339.7C196.7 344.6 196.6 349.0 195.1 354.4C193.6 359.9 190.4 366.7 189.4 372.4C188.3 378.1 187.9 383.3 188.5 388.8C189.2 394.2 191.0 399.9 193.4 405.1C195.9 410.3 198.9 415.7 203.3 419.8C207.6 423.9 214.2 427.3 219.6 429.6C225.1 431.9 230.2 433.2 236.0 433.7C241.7 434.3 248.2 434.1 253.9 432.9C259.7 431.7 265.7 429.6 270.3 426.4C274.9 423.1 278.9 418.5 281.7 413.3C284.6 408.1 286.4 401.6 287.5 395.3C288.6 389.0 288.7 382.5 288.3 375.7C287.9 368.9 286.4 361.0 285.0 354.4C283.6 347.9 282.3 341.6 280.1 336.4C277.9 331.3 275.5 327.2 271.9 323.4C268.4 319.5 262.9 315.6 258.8 313.5C254.8 311.5 250.3 311.0 247.4 311.1C244.5 311.2 244.2 314.4 241.2 314.4Z" fill="#4a4a4a"/>
<g clip-path="url(#br2)">
<rect x="182" y="307" width="112.5" height="131" filter="url(#gyr2)"/>
<path d="M241.2 314.4C238.2 314.4 233.6 311.0 229.4 311.1C225.3 311.2 220.4 312.9 216.3 315.2C212.2 317.5 207.9 320.9 204.9 325.0C201.9 329.1 200.0 334.8 198.4 339.7C196.7 344.6 196.6 349.0 195.1 354.4C193.6 359.9 190.4 366.7 189.4 372.4C188.3 378.1 187.9 383.3 188.5 388.8C189.2 394.2 191.0 399.9 193.4 405.1C195.9 410.3 198.9 415.7 203.3 419.8C207.6 423.9 214.2 427.3 219.6 429.6C225.1 431.9 230.2 433.2 236.0 433.7C241.7 434.3 248.2 434.1 253.9 432.9C259.7 431.7 265.7 429.6 270.3 426.4C274.9 423.1 278.9 418.5 281.7 413.3C284.6 408.1 286.4 401.6 287.5 395.3C288.6 389.0 288.7 382.5 288.3 375.7C287.9 368.9 286.4 361.0 285.0 354.4C283.6 347.9 282.3 341.6 280.1 336.4C277.9 331.3 275.5 327.2 271.9 323.4C268.4 319.5 262.9 315.6 258.8 313.5C254.8 311.5 250.3 311.0 247.4 311.1C244.5 311.2 244.2 314.4 241.2 314.4Z" fill="url(#rgb)"/>
<ellipse cx="234.32177894048397" cy="364.2269457161544" rx="8" ry="18" fill="#1e1e1e" opacity="0.55" filter="url(#bl2)"/>
<ellipse cx="250.67233485938522" cy="365.86200130804446" rx="8" ry="18" fill="#1e1e1e" opacity="0.55" filter="url(#bl2)"/>
<path d="M241.2 314.4C238.2 314.4 233.6 311.0 229.4 311.1C225.3 311.2 220.4 312.9 216.3 315.2C212.2 317.5 207.9 320.9 204.9 325.0C201.9 329.1 200.0 334.8 198.4 339.7C196.7 344.6 196.6 349.0 195.1 354.4C193.6 359.9 190.4 366.7 189.4 372.4C188.3 378.1 187.9 383.3 188.5 388.8C189.2 394.2 191.0 399.9 193.4 405.1C195.9 410.3 198.9 415.7 203.3 419.8C207.6 423.9 214.2 427.3 219.6 429.6C225.1 431.9 230.2 433.2 236.0 433.7C241.7 434.3 248.2 434.1 253.9 432.9C259.7 431.7 265.7 429.6 270.3 426.4C274.9 423.1 278.9 418.5 281.7 413.3C284.6 408.1 286.4 401.6 287.5 395.3C288.6 389.0 288.7 382.5 288.3 375.7C287.9 368.9 286.4 361.0 285.0 354.4C283.6 347.9 282.3 341.6 280.1 336.4C277.9 331.3 275.5 327.2 271.9 323.4C268.4 319.5 262.9 315.6 258.8 313.5C254.8 311.5 250.3 311.0 247.4 311.1C244.5 311.2 244.2 314.4 241.2 314.4Z" fill="none" stroke="#000" stroke-width="2" opacity="0.6" filter="url(#bl1)"/>
<path d="M229.7 338.4C228.4 335.5 230.0 336.3 232.0 338.7C234.0 341.2 238.4 353.0 241.8 353.1C245.3 353.2 250.5 341.3 252.6 339.2C254.8 337.1 256.4 337.5 254.9 340.4C253.5 343.2 245.8 350.2 243.8 356.1C241.8 361.9 243.5 372.1 243.2 375.7C242.8 379.3 242.3 377.6 241.8 377.6C241.4 377.6 240.9 379.3 240.5 375.7C240.2 372.1 241.7 362.3 239.9 356.1C238.1 349.8 231.1 341.3 229.7 338.4Z" fill="#bdbdbd" filter="url(#bl1)"/>
<path d="M236.0 380.6C237.0 380.0 244.1 380.9 247.4 382.2C250.7 383.6 253.9 386.6 255.6 388.8C257.2 390.9 258.0 394.5 257.2 395.3C256.4 396.1 253.4 395.3 250.7 393.7C247.9 392.0 243.3 387.7 240.9 385.5C238.4 383.3 234.9 381.1 236.0 380.6Z" fill="#bdbdbd" filter="url(#bl1)"/>
</g>
<path d="M202.5 344.6 L206.8 344.6 L211.2 349.0 L214.7 349.8 L218.2 350.7 L221.6 353.3 L226.9 355.1 L228.6 360.3 L230.4 365.5 L228.6 371.6 L228.2 378.6 L228.6 384.7 L226.0 389.1 L221.6 390.8 L218.2 393.5 L214.7 399.6 L212.0 397.8 L208.6 393.5 L204.2 389.1 L199.0 385.6 L194.6 381.2 L193.7 376.0 L194.6 371.6 L196.3 365.5 L197.2 361.2 L202.5 360.3 L203.3 355.1 L202.5 349.8Z" fill="url(#tg2)"/>
<g clip-path="url(#tm2)"><rect x="182" y="307" width="112.5" height="131" filter="url(#nzt)" opacity="0.16"/>
<path d="M209.8 351.1 L214.7 383.8" stroke="#d0d0d0" stroke-width="1.4" opacity="0.7" filter="url(#bl1)"/>
<path d="M219.6 356.1 L218.0 383.8" stroke="#d0d0d0" stroke-width="1.4" opacity="0.7" filter="url(#bl1)"/>
<path d="M214.7 356.1 L216.3 372.4" stroke="#5a5a5a" stroke-width="1.2" opacity="0.5" filter="url(#bl1)"/>
</g>
<path d="M202.5 344.6 L206.8 344.6 L211.2 349.0 L214.7 349.8 L218.2 350.7 L221.6 353.3 L226.9 355.1 L228.6 360.3 L230.4 365.5 L228.6 371.6 L228.2 378.6 L228.6 384.7 L226.0 389.1 L221.6 390.8 L218.2 393.5 L214.7 399.6 L212.0 397.8 L208.6 393.5 L204.2 389.1 L199.0 385.6 L194.6 381.2 L193.7 376.0 L194.6 371.6 L196.3 365.5 L197.2 361.2 L202.5 360.3 L203.3 355.1 L202.5 349.8Z" fill="none" stroke="#ff2a1a" stroke-width="3.3" stroke-linejoin="round"/>
<g clip-path="url(#im3)">
<rect x="59.5" y="463.3" width="112.9" height="117.09999999999997" fill="#080808"/>
<polygon points="112.6,463.3 97.4,474.7 82.3,489.8 72.8,506.9 70.5,518.3 73.7,531.6 86.1,548.7 103.1,563.9 120.2,575.2 129.7,580.9 182.8,580.9 182.8,461.4 112.6,461.4" fill="#262626"/>
<g clip-path="url(#bs3)"><rect x="59.5" y="463.3" width="112.9" height="117.09999999999997" filter="url(#fib)" opacity="0.42"/><rect x="59.5" y="463.3" width="112.9" height="117.09999999999997" filter="url(#nzs)" opacity="0.15"/></g>
<polyline points="112.6,463.3 97.4,474.7 82.3,489.8 72.8,506.9 70.5,518.3 73.7,531.6 86.1,548.7 103.1,563.9 120.2,575.2 129.7,580.9" fill="none" stroke="#6a6a6a" stroke-width="1"/>
<ellipse cx="133.5" cy="493.6" rx="34" ry="20" fill="#4a4a4a" opacity="0.55" filter="url(#bl2)" transform="rotate(25 133.5 493.6)"/>
<ellipse cx="88.9" cy="517.4" rx="5" ry="3" fill="#9a9a9a" filter="url(#bl1)"/>
<ellipse cx="88.9" cy="546.8" rx="3" ry="4" fill="#b0b0b0" filter="url(#bl1)"/>
<ellipse cx="140.1" cy="509.8" rx="3" ry="2" fill="#8a8a8a" filter="url(#bl1)"/>
<path d="M99.3 518.3 L112.6 511.7 L121.2 510.7 L120.2 518.3 L129.7 525.9 L137.3 531.6 L141.1 537.3 L147.7 536.3 L141.1 541.1 L139.2 548.7 L133.5 553.4 L124.0 557.2 L116.4 560.1 L106.9 557.2 L97.4 550.6 L90.8 543.0 L90.8 533.5 L97.4 529.7 L98.4 522.1Z" fill="#989898"/>
<g clip-path="url(#tb3)"><rect x="59.5" y="463.3" width="112.9" height="117.09999999999997" filter="url(#nzt)" opacity="0.45"/>
<ellipse cx="111.6" cy="529" rx="7" ry="6" fill="#3a3a3a" filter="url(#bl1)"/>
<ellipse cx="131" cy="544" rx="6" ry="5" fill="#404040" filter="url(#bl1)"/>
<ellipse cx="100.5" cy="536" rx="4" ry="3.5" fill="#555" filter="url(#bl1)"/>
<ellipse cx="118" cy="521" rx="4" ry="3" fill="#555" filter="url(#bl1)"/>
<path d="M99.3 518.3 L112.6 511.7 L121.2 510.7 L120.2 518.3 L129.7 525.9 L137.3 531.6 L141.1 537.3 L147.7 536.3 L141.1 541.1 L139.2 548.7 L133.5 553.4 L124.0 557.2 L116.4 560.1 L106.9 557.2 L97.4 550.6 L90.8 543.0 L90.8 533.5 L97.4 529.7 L98.4 522.1Z" fill="none" stroke="#e0e0e0" stroke-width="2.5" opacity="0.55" filter="url(#bl1)"/>
</g>
<path d="M99.3 518.3 L112.6 511.7 L121.2 510.7 L120.2 518.3 L129.7 525.9 L137.3 531.6 L141.1 537.3 L147.7 536.3 L141.1 541.1 L139.2 548.7 L133.5 553.4 L124.0 557.2 L116.4 560.1 L106.9 557.2 L97.4 550.6 L90.8 543.0 L90.8 533.5 L97.4 529.7 L98.4 522.1Z" fill="none" stroke="#ff2a1a" stroke-width="2.2" stroke-linejoin="round"/>
</g>
<g clip-path="url(#im4)">
<rect x="182.6" y="463" width="111.4" height="117" fill="#080808"/>
<polygon points="256.6,463.7 237.6,470.9 218.6,482.3 203.5,497.4 194.0,514.5 192.1,527.8 195.9,543.0 207.3,558.2 226.2,569.5 250.9,576.2 296.4,580.0 307.8,580.9 307.8,461.4 256.6,461.4" fill="#161616"/>
<g clip-path="url(#bs4)"><rect x="182.6" y="463" width="111.4" height="117" filter="url(#fib)" opacity="0.25"/><rect x="182.6" y="463" width="111.4" height="117" filter="url(#nzs)" opacity="0.15"/></g>
<polyline points="256.6,463.7 237.6,470.9 218.6,482.3 203.5,497.4 194.0,514.5 192.1,527.8 195.9,543.0 207.3,558.2 226.2,569.5 250.9,576.2 296.4,580.0" fill="none" stroke="#6a6a6a" stroke-width="1"/>
<ellipse cx="214.8" cy="539.2" rx="18" ry="4" fill="#4a4a4a" opacity="0.7" filter="url(#bl1)" transform="rotate(10 214.8 539.2)"/>
<ellipse cx="219.6" cy="548.7" rx="2.2" ry="1.6" fill="#bbbbbb"/>
<ellipse cx="248.1" cy="561.0" rx="2.2" ry="2.2" fill="#cccccc"/>
<ellipse cx="243.3" cy="503.1" rx="4" ry="4" fill="#4a4a4a" filter="url(#bl1)"/>
<path d="M250.0 510.7 L254.7 512.6 L264.2 512.6 L271.8 518.3 L277.5 524.0 L282.2 529.7 L279.4 532.5 L273.7 531.6 L271.8 537.3 L262.3 543.0 L256.6 544.9 L247.1 542.0 L240.5 538.2 L241.4 529.7 L243.3 522.1 L250.9 518.3 L250.0 512.6Z" fill="#b0b0b0"/>
<g clip-path="url(#tb4)"><rect x="182.6" y="463" width="111.4" height="117" filter="url(#nzt)" opacity="0.45"/>
<ellipse cx="258" cy="526" rx="6" ry="4" fill="#777" filter="url(#bl1)"/>
<path d="M250.0 510.7 L254.7 512.6 L264.2 512.6 L271.8 518.3 L277.5 524.0 L282.2 529.7 L279.4 532.5 L273.7 531.6 L271.8 537.3 L262.3 543.0 L256.6 544.9 L247.1 542.0 L240.5 538.2 L241.4 529.7 L243.3 522.1 L250.9 518.3 L250.0 512.6Z" fill="none" stroke="#e0e0e0" stroke-width="2.5" opacity="0.55" filter="url(#bl1)"/>
</g>
<path d="M250.0 510.7 L254.7 512.6 L264.2 512.6 L271.8 518.3 L277.5 524.0 L282.2 529.7 L279.4 532.5 L273.7 531.6 L271.8 537.3 L262.3 543.0 L256.6 544.9 L247.1 542.0 L240.5 538.2 L241.4 529.7 L243.3 522.1 L250.9 518.3 L250.0 512.6Z" fill="none" stroke="#ff2a1a" stroke-width="2.2" stroke-linejoin="round"/>
</g>
<text y="452.6" font-size="13" fill="#222222"><tspan x="66.2">LRG,</tspan><tspan x="100.6" font-style="italic">f</tspan><tspan x="111.6">=</tspan><tspan x="121.9">0.7306</tspan></text>
<text y="452.6" font-size="13" fill="#222222"><tspan x="188.7">HRG,</tspan><tspan x="225.5" font-style="italic">f</tspan><tspan x="236.1">=</tspan><tspan x="246.8">0.4334</tspan></text>
<text y="596.2" font-size="13" fill="#222222"><tspan x="70.0">LRG,</tspan><tspan x="104.5" font-style="italic">f</tspan><tspan x="110.7">=</tspan><tspan x="121.4">0.6832</tspan></text>
<text y="596.2" font-size="13" fill="#222222"><tspan x="190.8">HRG,</tspan><tspan x="226.6" font-style="italic">f</tspan><tspan x="233.7">=</tspan><tspan x="244.4">0.4900</tspan></text>
</svg></body></html>
